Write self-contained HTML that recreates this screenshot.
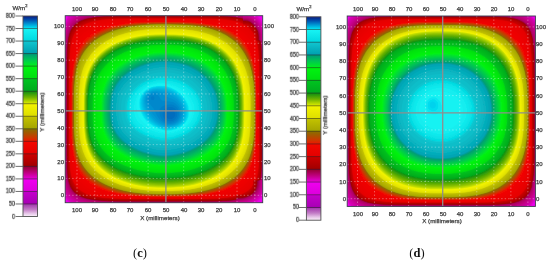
<!DOCTYPE html><html><head><meta charset="utf-8"><style>
html,body{margin:0;padding:0;background:#fff;width:550px;height:261px;overflow:hidden}
.t{position:absolute;white-space:nowrap;line-height:1;font-family:"Liberation Sans", sans-serif;color:#3a3a3a;-webkit-text-stroke:0.25px #3a3a3a;will-change:transform}
.cap{position:absolute;white-space:nowrap;line-height:1;font-family:"Liberation Serif",serif;font-size:12.5px;color:#111;transform:translate(-50%,-50%);will-change:transform}.cap b{font-weight:bold}
.gd{stroke:#fff;stroke-opacity:.4;stroke-width:.9;stroke-dasharray:1.4 2.1}
.gc{stroke:#8e8e8e;stroke-width:1.3}
</style></head><body>
<svg width="0" height="0" style="position:absolute"><defs>
<linearGradient id="cbg" x1="0" y1="0" x2="0" y2="1"><stop offset="0%" stop-color="#0a1a80"/><stop offset="2%" stop-color="#0052b0"/><stop offset="4%" stop-color="#0098d4"/><stop offset="6.12%" stop-color="#00e4f4"/><stop offset="6.25%" stop-color="#18f4f4"/><stop offset="12.38%" stop-color="#00d8e0"/><stop offset="12.5%" stop-color="#10c6d0"/><stop offset="18.62%" stop-color="#00a0b0"/><stop offset="18.75%" stop-color="#00987a"/><stop offset="21.88%" stop-color="#00c850"/><stop offset="24.88%" stop-color="#00f01c"/><stop offset="25%" stop-color="#00f410"/><stop offset="31.13%" stop-color="#00de10"/><stop offset="31.25%" stop-color="#00c420"/><stop offset="37.38%" stop-color="#00aa1e"/><stop offset="37.5%" stop-color="#0c8e12"/><stop offset="40.62%" stop-color="#70b400"/><stop offset="43.62%" stop-color="#dcea00"/><stop offset="43.75%" stop-color="#f4f400"/><stop offset="49.88%" stop-color="#dede00"/><stop offset="50%" stop-color="#c4c400"/><stop offset="56.12%" stop-color="#a4a400"/><stop offset="56.25%" stop-color="#887000"/><stop offset="58.5%" stop-color="#a85400"/><stop offset="60.62%" stop-color="#cc3800"/><stop offset="62.38%" stop-color="#ec1800"/><stop offset="62.5%" stop-color="#f20800"/><stop offset="68.62%" stop-color="#e40000"/><stop offset="68.75%" stop-color="#cc0000"/><stop offset="74.88%" stop-color="#a00000"/><stop offset="75%" stop-color="#940030"/><stop offset="78.12%" stop-color="#c00080"/><stop offset="81.12%" stop-color="#e600d8"/><stop offset="81.25%" stop-color="#f000f0"/><stop offset="87.38%" stop-color="#dc00dc"/><stop offset="87.5%" stop-color="#c400cc"/><stop offset="93.62%" stop-color="#a800b4"/><stop offset="93.75%" stop-color="#9a10a4"/><stop offset="94%" stop-color="#a43aae"/><stop offset="96.5%" stop-color="#c27cc6"/><stop offset="98.5%" stop-color="#e6c6e8"/><stop offset="100%" stop-color="#fbf2fb"/></linearGradient>
</defs></svg>
<svg width="550" height="261" viewBox="0 0 5500 2610" style="position:absolute;left:0;top:0"><defs><clipPath id="cpc"><rect x="652" y="157" width="1975" height="1870"/></clipPath></defs><filter id="bfc" x="-2%" y="-2%" width="104%" height="104%"><feGaussianBlur stdDeviation="5.5"/></filter><g clip-path="url(#cpc)"><g filter="url(#bfc)" fill-rule="evenodd"><rect x="612" y="117" width="2055" height="1950" fill="#ea00ea"/><path fill="#ed00ed" d="M2600 2055l-1934 0 0-30-12-16-30 0 0-1828 30 0 7-22 0-30 1948 0 0 30 15 18 30 0 0 1831-30 0-21 17 0 30-3 0z"/><path fill="#ed00ea" d="M2574 2055l-1891 0 0-30-16-17-13-20-30 0 0-1776 30 0 18-53 0-30 1915 0 0 30 20 20 17 24 30 0 0 1781-30 0-24 23-26 18 0 30z"/><path fill="#ea00e1" d="M2564 2055l-1874 0 0-30-20-20-16-25-30 0 0-1756 30 0 10-35 12-30 0-30 1903 0 0 30 25 24 20 30 30 0 0 1762-30 0-27 27-33 23 0 30z"/><path fill="#e600d8" d="M2554 2055l-1859 0 0-30-23-23-18-28-30 0 0-1740 30 0 11-42 14-33 0-30 1893 0 0 30 28 27 24 35 30 0 0 1746-30 0-30 32-39 26-1 30z"/><path fill="#e200cf" d="M2544 2055l-1844 0 0-30-26-25-20-32-30 0 0-1725 30 0 13-50 15-34 0-30 1885 0 0 30 31 30 26 39 30 0 0 1733-30 0-15 18-19 18-20 15-23 13 0 30-3 0z"/><path fill="#de00c5" d="M2537 2055l-1832 0 0-30-29-26-22-37-30 0 0-1710 30 0 13-52 19-41 0-30 1874 0 0 30 20 16 16 17 15 20 13 24 30 0 0 1718-30 0-17 21-20 20-23 17-25 13 0 30-2 0z"/><path fill="#da00bb" d="M2524 2055l-1811 0 0-30-18-13-16-17-14-20-11-24-30 0 0-1684 30 0 8-38 10-34 15-30 8-6 0-30 1855 0 0 30 22 16 20 20 18 27 14 27 30 0 0 1693-30 0-20 27-23 23-27 19-30 14 0 30z"/><path fill="#d600b2" d="M2507 2055l-1778 0 0-30-28-16-17-16-17-24-13-30-30 0 0-1654 30 0 10-53 16-46 10-11 22-16 0-30 1825 0 0 30 30 20 23 23 20 30 14 32 30 0 0 1664-30 0-20 31-27 28-32 22-37 16-1 30z"/><path fill="#d100a8" d="M2487 2055l-1736 0 0-30-37-20-34-28-13-17-13-36-30 0 0-1618 30 0 10-58 13-44 23-24 32-21 0-30 1790 0 0 30 35 20 28 26 22 34 17 42 30 0 0 1631-30 0-21 37-31 33-38 26-46 17-1 30z"/><path fill="#cd009f" d="M2460 2055l-1684 0 0-30-48-23-38-29-26-33-10-35-30 0 0-1573 30 0 7-57 13-50 11-16 21-20 21-16 25-14 0-30 1750 0 0 30 22 7 20 11 16 12 17 17 15 19 13 24 11 26 8 28 30 0 0 1588-30 0-11 28-16 26-20 24-23 19-44 23-48 14 0 30-2 0z"/><path fill="#c90095" d="M2414 2055l-1611 0 0-30-36-13-30-16-27-18-23-23-15-20-12-21-6-40-30 0 0-1502 30 0 7-77 13-55 20-26 23-22 27-18 31-15 0-30 1692 0 0 30 30 5 30 12 23 14 24 22 17 23 15 30 10 30 8 41 30 0 0 1522-30 0-8 34-13 30-17 27-26 25-30 20-30 14-40 11-44 6 0 30-2 0z"/><path fill="#c5008b" d="M2360 2055l-1525 0 0-30-45-13-40-19-33-22-27-27-16-24-14-28-4-63-32-1 0-1372 30-1 5-116 6-50 7-27 22-33 30-30 33-22 42-18 0-30 1631 0 0 34 47 3 37 11 33 18 28 27 21 33 15 44 9 46 2 60 32 1 0 1396-34 0-3 53-11 44-9 20-12 20-28 29-37 24-43 17-50 9-63 3-1 34-3 0z"/><path fill="#c10082" d="M2360 2055l-1489 0 0-30-54-13-47-18-36-22-30-27-23-30-17-36-3-17-1-33-6-3-30 0 0-1369 33-2 2-90 8-71 23-45 16-20 16-17 22-16 23-14 27-12 32-11 0-30 1603 0 1 40 44 3 36 9 30 16 27 24 23 34 15 40 10 50 2 60 37 1 0 1395-40 1-3 50-10 43-19 37-28 31-37 25-43 16-50 10-60 2-4 39z"/><path fill="#bc0079" d="M2360 2055l-1445 0 0-30-68-13-57-18-46-25-35-30-20-27-15-30-10-30-1-23-6-4-3-19-30 0 0-1348 30 0 5-3 2-86 6-51 11-29 14-27 16-23 20-20 26-20 30-16 33-13 39-11 0-30 1572 0 0 30 2 15 44 3 33 9 30 16 27 23 22 34 16 40 9 50 2 56 41 2 0 1393-45 2-3 50-10 40-19 37-27 30-36 24-44 17-50 9-56 2-3 14-1 30z"/><path fill="#b80071" d="M2320 2055l-1346 0 0-30-94-12-66-18-32-13-24-13-23-17-21-20-24-34-16-38-13-55-7-57-30 0 0-1290 30 0 7-3 3-94 10-40 12-32 14-26 17-22 19-19 28-20 40-20 41-13 45-10 0-30 1522 0 0 30 15 3 3 17 44 3 34 10 30 20 26 25 23 34 11 31 9 47 2 56 15 3 30 0 0 1391-30 0-21 3-3 53-13 44-21 36-16 17-16 13-36 20-38 13-43 7-53 2-4 14-40 4 0 30z"/><path fill="#b30068" d="M2200 2055l-1104 0 0-30-92-4-70-7-60-10-57-16-33-14-27-16-23-18-20-21-23-37-16-47-11-53-6-83-3-200 1-950 3-80 0-10 4-4 1-45 5-38 9-37 11-33 16-30 20-27 22-21 37-23 40-18 50-13 65-11 0-30 1428 0 0 30 60 11 3 14 34 1 23 6 43 26 32 32 20 30 15 34 7 42 2 50 14 4 4 29 30 0 0 1326-30 0-5 35-20 3-5 57-6 23-9 23-9 14-14 16-36 29-33 17-39 14-34 6-50 2-4 11-70 7-89 4-1 30z"/><path fill="#ae0060" d="M2110 2022l-863 1-147-3-110-6-103-14-40-9-33-11-30-14-27-16-23-20-19-21-23-40-14-44-10-56-6-84-2-233 2-923 7-117 7-43 9-37 13-33 17-30 19-24 23-20 43-25 54-19 66-14 75-8 0-30 1322 0 0 30 87 12 23 5 3 12 30 1 17 4 27 14 20 13 20 18 18 21 20 33 15 37 4 33 1 43 13 4 0 3 9 105 30 0 0 1176-30 0-5 59-6 47-19 3-4 53-13 43-27 34-36 28-34 17-36 13-27 7-53 2-4 9-100 9-150 5z"/><path fill="#aa0058" d="M2104 2019l-850 0-154-2-113-6-100-14-70-20-30-14-27-16-23-19-19-23-23-40-16-53-10-67-4-66-2-260 2-894 7-110 7-43 10-40 13-33 13-24 22-26 23-21 20-13 27-14 63-21 77-13 105-8 0-30 1213 0 0 30 69 5 50 6 43 10 3 12 40 3 27 13 23 15 22 19 17 20 20 33 16 40 4 70 12 4 7 70 4 73 2 197-1 846-4 124-10 80-19 3-1 33-5 30-9 27-10 17-18 20-17 15-20 13-30 16-60 20-56 2-4 9-20 3-86 7-150 5z"/><path fill="#a5004f" d="M2170 2015l-190 2-710 0-163-2-97-5-110-13-43-10-33-10-30-13-30-18-22-17-18-20-23-37-15-43-11-54-7-83-3-197 1-933 7-130 6-47 10-43 10-30 15-30 20-27 23-21 23-16 27-14 33-13 40-11 90-13 142-8 0-30 1098 0 0 30 130 8 47 6 40 10 3 13 44 3 26 14 30 22 23 24 21 33 17 40 4 33 1 40 13 4 0 3 6 57 4 66 3 200-1 837-3 130-6 60-5 37-21 3-5 57-6 23-11 23-14 17-20 18-43 27-33 14-27 7-63 4-4 10-6 1-77 8-107 4z"/><path fill="#a10047" d="M2054 2015l-827 0-130-2-103-6-100-13-40-10-34-11-30-13-26-16-24-20-19-22-22-40-14-43-10-57-6-83-2-234 2-916 7-110 7-44 10-40 13-33 15-27 23-26 23-20 30-18 33-14 44-13 50-10 116-11 186-4 0-30 877 0 0 30 111 1 83 5 77 8 53 12 3 14 47 4 27 14 27 22 24 26 17 27 14 33 6 37 1 43 14 4 7 70 4 73 2 197-1 836-4 127-10 87-23 3-1 33-5 30-9 27-14 23-16 17-20 15-23 14-27 12-37 11-66 5-4 11-50 6-110 7-146 2z"/><path fill="#9c003f" d="M2174 2012l-197 2-703 0-157-2-107-5-106-13-44-10-33-10-30-13-27-15-23-18-20-22-23-37-16-47-11-57-6-76-2-200 1-934 6-123 6-47 10-40 11-33 16-30 18-23 23-22 24-17 23-12 60-21 73-13 104-9 233-5 873 1 160 6 57 7 50 10 10 2 3 17 40 3 14 3 10 5 30 21 26 27 18 27 15 33 6 37 2 46 14 4 7 56 4 74 2 196 0 844-4 126-5 54-6 40-24 3-2 33-5 30-9 27-14 23-25 25-37 22-31 13-19 5-33 4-40 2-4 12-80 9-106 5z"/><path fill="#9a0038" d="M2114 2012l-864 1-146-3-100-5-100-13-40-8-37-12-30-13-29-17-24-20-18-20-22-37-16-46-10-57-6-80-2-217 1-923 7-120 7-43 9-37 13-33 14-27 19-25 24-22 23-15 23-12 60-20 77-14 97-8 236-5 884 1 86 3 70 4 57 8 47 10 3 2 3 16 40 3 17 4 10 5 29 22 25 26 17 27 12 27 6 36 3 50 15 4 7 63 4 73 2 197-1 840-4 130-10 87-26 3-2 33-5 30-9 27-14 23-15 17-13 10-41 24-23 8-27 5-63 4-4 14-20 3-96 8-130 4z"/><path fill="#9a002f" d="M2057 2012l-827 0-136-3-100-5-100-14-40-10-34-11-30-14-26-16-20-18-20-22-22-40-15-47-9-57-5-76-2-230 1-917 8-117 7-43 10-37 13-33 17-27 19-23 24-20 24-15 26-12 60-19 77-13 97-7 246-4 884 1 80 3 66 5 50 7 47 11 3 17 44 4 16 5 10 5 30 24 24 27 15 24 10 24 7 40 2 46 15 4 7 63 4 80 2 197 0 833-4 130-11 87-27 3-1 37-6 30-11 26-14 24-13 13-17 13-45 24-47 10-56 3-4 14-40 6-110 7-153 3z"/><path fill="#9b0026" d="M2204 2009l-200 3-707 0-167-2-113-5-103-12-44-9-36-11-34-14-26-15-24-18-20-21-23-36-16-47-11-57-6-76-3-197 1-930 6-123 6-47 9-40 11-33 15-30 18-26 23-23 21-15 26-14 60-21 73-14 97-9 230-5 870 1 167 6 60 7 46 9 17 4 3 19 40 3 27 8 27 20 22 23 18 27 13 26 7 40 3 50 15 4 7 60 4 70 3 196-1 840-4 134-10 86-1 4-3 0-24 3-4 53-14 40-10 17-15 17-19 16-17 11-27 12-27 7-36 5-40 1-4 15-70 8-86 5z"/><path fill="#9c001d" d="M2184 2009l-197 2-700 0-160-2-110-5-107-12-40-9-36-11-34-13-26-16-24-18-19-20-23-36-17-47-10-57-6-76-3-200 1-930 6-124 6-46 9-40 12-34 16-30 18-24 24-22 23-16 23-12 60-21 77-14 97-8 233-5 870 1 160 6 57 7 50 9 13 4 3 19 37 2 30 9 27 20 23 24 18 28 11 23 7 40 3 50 16 4 7 63 4 73 2 200 0 834-5 133-10 87-28 3-5 53-6 24-9 20-12 17-14 16-17 13-22 13-23 9-30 8-34 4-36 1-4 15-80 9-96 5z"/><path fill="#9d0014" d="M2157 2009l-880 1-160-2-100-5-107-12-43-9-33-11-34-13-26-16-24-18-20-21-22-38-17-46-10-57-6-80-3-213 2-924 7-123 7-43 8-34 12-33 16-28 19-25 22-20 22-15 27-14 60-20 76-14 97-8 233-4 870 0 157 7 57 6 50 10 13 4 3 19 40 3 30 10 25 19 22 23 19 30 10 24 7 40 1 46 17 4 7 63 4 73 3 200-1 834-4 136-11 84-29 3-4 53-14 40-13 20-15 17-17 13-20 12-27 10-26 6-34 5-36 1-4 15-90 10-113 5z"/><path fill="#a0000b" d="M2120 2009l-866 0-147-2-107-6-100-13-36-8-37-12-30-13-27-16-23-19-18-21-22-37-16-47-10-56-5-80-3-220 2-917 7-120 7-43 9-37 12-32 16-28 19-23 22-20 23-16 24-12 60-20 73-14 93-8 244-5 883 1 80 3 73 5 57 7 43 10 7 2 3 20 37 2 30 9 27 19 24 27 19 30 8 23 6 37 2 46 17 4 8 66 4 77 2 203-1 830-4 130-11 84-29 3-5 53-7 24-9 20-11 16-17 18-20 15-20 10-26 10-27 5-63 4-4 17-6 1-97 9-137 5z"/><path fill="#a60000" d="M2060 2009l-830 0-130-3-103-6-100-13-40-10-33-11-30-14-27-17-23-20-17-20-22-40-14-46-10-57-5-80-2-233 1-904 8-113 7-43 10-40 14-34 16-26 19-24 24-20 21-13 26-13 60-19 74-13 96-8 250-4 884 1 143 8 50 7 50 12 3 20 40 3 30 10 27 21 23 26 18 29 7 23 5 37 2 43 17 4 8 63 4 87 2 196 0 830-5 127-11 87-30 3-1 33-6 30-8 24-15 24-27 26-36 20-24 8-26 5-60 4-4 17-30 4-106 8-164 4z"/><path fill="#ad0000" d="M1994 2005l-770 0-134-3-100-6-93-14-40-10-37-13-27-14-26-17-21-19-19-24-20-39-13-45-9-59-5-77-3-370 1-616 2-154 8-110 8-43 11-37 13-31 17-26 21-23 25-20 47-24 63-19 77-12 97-7 260-4 867 1 136 9 54 8 43 11 3 23 40 3 34 12 23 19 22 27 12 20 9 30 5 33 1 40 19 4 8 70 5 90 1 200 0 816-5 127-5 47-7 40-33 3-1 30-4 23-7 24-10 20-16 20-17 15-20 13-24 9-43 10-53 3-4 19-53 7-123 8-190 2z"/><path fill="#b40000" d="M1947 2002l-720-1-127-2-103-7-91-13-40-10-38-14-34-16-24-17-21-20-19-24-20-39-13-46-9-61-5-73-2-157 0-693 2-284 4-62 6-48 7-40 10-34 14-30 18-29 22-23 26-20 23-14 31-13 58-17 82-12 93-7 263-4 677 0 177 2 76 4 60 5 53 9 44 12 3 23 40 4 31 11 24 20 22 28 10 19 8 30 4 30 2 36 19 4 9 76 5 94 2 206-1 797-5 127-5 50-8 40-35 3-3 40-7 30-16 30-22 23-27 17-30 12-37 7-46 2-4 20-65 9-88 6-260 4z"/><path fill="#bb0000" d="M2174 1995l-200 3-657 0-163-2-114-5-104-12-46-10-34-10-33-14-31-16-25-20-20-21-25-39-18-50-10-57-7-77-2-200 1-883 6-123 6-47 9-40 13-38 15-29 20-26 25-24 24-16 23-13 59-21 78-15 96-9 97-4 137-1 826 0 164 7 60 7 50 10 33 11 3 22 37 3 27 9 20 17 16 18 17 24 10 21 7 37 2 43 18 4 10 66 6 90 3 197-1 793-4 134-11 86-6 24-35 3-4 43-12 37-21 30-15 13-17 11-23 10-27 7-30 4-33 1-4 20-80 11-106 6z"/><path fill="#c30000" d="M2150 1992l-196 3-640 0-160-3-110-6-107-13-43-10-35-11-32-13-30-18-25-19-22-23-23-38-18-49-11-60-7-77-3-203 2-863 7-127 7-47 9-40 14-36 16-30 21-27 23-21 22-16 25-13 32-13 33-10 75-15 96-9 100-4 140-2 807 1 87 2 76 5 61 8 46 10 40 13 3 21 27 1 23 5 25 20 22 25 19 29 10 23 5 30 1 33 16 4 12 77 7 99 2 200-1 770-5 130-5 50-7 40-6 24-35 3-4 47-14 36-12 17-13 13-31 20-22 9-24 5-56 4-4 19-19 3-84 11-107 6z"/><path fill="#c80000" d="M2130 1989l-196 2-614 0-160-3-110-6-103-14-43-10-40-13-34-14-30-18-25-21-21-23-24-40-18-50-11-60-6-77-4-210 2-837 8-126 7-47 10-40 15-37 17-30 21-26 25-24 24-16 27-14 60-21 75-15 99-10 96-4 147-2 783 1 90 2 76 6 57 8 54 12 43 15 3 16 27 2 11 4 29 22 23 26 18 25 16 32 3 18 1 33 14 4 0 3 14 80 7 103 3 200-1 744-5 130-6 53-7 40-10 37-32 3-1 27-4 23-7 20-9 17-27 23-33 20-22 10-12 2-56 5-4 16-36 7-84 10-110 7z"/><path fill="#d20000" d="M2050 1989l-753 0-143-3-110-7-104-16-43-11-37-12-33-16-29-19-24-21-20-24-24-41-17-50-11-60-6-80-3-240 0-637 2-167 9-118 8-48 12-40 13-34 20-32 21-24 27-24 25-16 27-13 61-21 82-16 100-9 104-4 140-1 780 1 83 4 68 5 62 10 47 11 43 16 3 14 24 1 10 5 33 27 26 30 15 23 14 30 3 17 1 26 12 4 4 20 13 80 6 110 3 213-1 720-7 133-6 47-10 43-7 24-30 3-4 43-12 33-18 17-22 18-27 16-26 12-24 4-36 1-4 15-80 14-96 9-134 5z"/><path fill="#db0000" d="M1944 1989l-677-1-140-4-101-9-97-16-45-14-34-13-31-17-28-20-24-23-20-27-20-40-17-57-10-71-4-65-2-157 0-620 3-266 3-57 7-56 10-48 13-39 17-35 20-28 23-25 27-20 49-26 64-20 74-14 106-10 110-4 160-1 587 0 183 3 66 3 69 7 58 10 49 13 35 14 3 11 21 2 20 13 30 27 26 32 13 23 14 30 1 31 10 4 9 37 11 83 6 123 2 650-2 270-4 80-6 57-7 42-13 44-1 4-29 3-2 37-9 29-30 31-34 23-43 20-49 3-4 14-70 13-95 10-101 5-150 2z"/><path fill="#e60100" d="M2094 1985l-197 3-557 0-143-3-123-7-59-6-60-10-41-10-40-13-37-17-27-17-26-21-24-26-26-44-17-47-13-72-6-76-3-230 0-624 2-163 7-110 10-61 10-37 13-34 20-35 23-29 28-24 26-17 26-13 34-13 34-10 89-17 90-8 107-5 136-1 754 1 80 3 81 7 65 10 40 10 54 20 3 1 3 8 14 1 10 6 35 27 28 32 17 26 13 27 6 15 1 23 8 4 5 19 13 76 9 115 2 203-1 707-6 142-14 83-14 45-26 3-2 33-8 27-36 37-24 16-24 14-31 13-41 2-4 12-61 13-82 10-123 6z"/><path fill="#e80200" d="M2064 1982l-200 3-514-1-153-3-121-9-106-17-49-13-44-16-34-17-30-20-27-24-22-27-27-46-17-49-13-70-7-80-3-271 0-553 3-157 4-62 6-57 10-50 14-42 16-37 20-31 24-26 29-25 26-17 33-16 70-24 86-16 99-10 103-5 147-2 523 0 174 2 92 5 69 6 61 10 51 14 44 16 42 24 34 26 30 34 17 25 13 26 13 34 10 34 10 47 7 44 7 103 4 200-1 657-7 136-6 54-10 48-10 33-12 29-16 3-2 29-14 18-20 22-20 18-24 16-30 17-31 13-21 5-4 4-16 5-77 16-84 10-119 7z"/><path fill="#ea0400" d="M2010 1979l-203 2-443-1-154-5-116-10-60-10-54-12-48-14-41-17-37-20-33-23-27-26-24-29-26-48-20-57-13-70-7-77-4-130-1-330 1-333 4-136 5-68 8-53 12-50 15-42 20-40 23-33 27-28 33-27 28-17 32-15 70-25 90-18 107-12 113-5 147-2 466 0 170 3 84 5 76 9 66 14 51 15 47 21 43 27 34 30 29 36 17 28 17 34 13 37 10 37 15 91 8 111 3 216-1 570-8 133-9 57-11 48-11 32-14 30-15 27-20 26-22 24-24 20-28 18-30 16-67 26-86 20-106 13-121 7z"/><path fill="#ed0500" d="M1930 1975l-323 2-244-2-146-7-123-15-57-11-50-13-47-17-44-20-38-23-31-24-30-31-24-32-26-50-20-62-13-73-7-73-4-152-1-420 2-183 3-104 7-68 10-61 13-51 17-44 23-43 27-36 33-32 38-28 29-17 35-16 78-26 85-18 112-12 120-6 156-3 397 1 170 4 83 7 77 12 62 14 57 20 51 26 43 31 37 36 30 40 17 31 16 38 14 41 10 40 14 97 8 123 2 460-2 244-5 80-7 61-10 52-14 47-13 32-17 32-20 30-21 26-25 23-27 21-32 19-34 17-75 26-92 20-115 14-139 6z"/><path fill="#ef0600" d="M1844 1972l-314 1-173-4-143-10-67-10-57-10-60-16-53-18-45-20-42-23-36-27-33-30-27-33-24-37-23-51-17-57-13-75-7-77-4-150 0-436 3-130 6-94 9-65 13-60 17-50 23-48 27-40 32-37 38-31 43-29 70-32 80-24 93-18 110-12 167-7 280-1 203 2 134 6 82 10 71 13 67 19 57 24 49 29 44 35 39 43 31 47 18 36 15 38 13 44 10 45 15 103 7 140 1 440-5 180-6 70-9 60-13 55-18 52-18 37-19 30-21 28-27 27-29 25-31 21-34 19-39 17-44 16-43 12-103 20-120 12-150 6z"/><path fill="#f10700" d="M1810 1969l-276 0-167-5-143-14-64-11-63-14-57-17-53-21-47-23-43-27-37-29-33-34-28-35-23-40-24-57-18-63-12-74-7-90-4-150 1-376 4-120 8-94 11-63 17-60 21-53 26-47 31-41 37-38 43-33 50-30 77-32 83-25 94-17 113-12 163-7 297 0 147 3 116 10 87 13 70 17 63 23 57 28 50 34 45 40 38 47 31 53 19 40 15 44 13 46 10 50 13 117 6 140 0 370-6 153-8 74-11 60-16 56-18 47-19 37-20 30-25 31-28 29-32 26-34 23-36 20-40 18-44 16-46 14-104 22-120 14-150 7z"/><path fill="#ed1200" d="M1820 1965l-266 2-167-6-140-14-73-13-57-14-63-20-50-20-47-23-47-29-43-35-33-34-26-34-26-43-24-57-19-66-13-80-7-84-3-146 0-340 3-110 10-104 13-70 16-56 24-57 27-47 33-43 38-38 44-34 56-33 77-33 93-27 90-17 114-12 156-7 260 0 140 3 117 10 83 13 80 20 64 23 60 31 53 37 45 41 40 50 34 56 17 37 15 43 14 47 10 50 14 107 7 150 0 343-7 153-7 64-13 66-14 47-19 50-21 40-19 30-24 30-29 31-26 23-34 24-40 24-40 20-40 17-50 16-100 24-116 16-144 8z"/><path fill="#e81b00" d="M1770 1965l-250 0-156-7-80-8-67-10-63-13-60-17-57-19-53-24-47-26-43-31-37-33-31-35-28-40-23-43-22-60-17-67-10-77-6-90-3-153 1-333 5-107 12-97 13-63 20-60 24-50 29-47 36-43 43-39 47-33 57-30 76-30 87-24 107-18 106-10 154-6 280 1 126 5 114 12 76 14 77 22 67 28 53 30 50 37 44 44 37 50 33 60 18 44 16 50 14 56 9 57 11 120 3 167-1 280-3 80-6 76-9 67-12 50-16 53-21 47-18 33-23 34-26 31-30 29-33 27-37 24-37 21-43 19-47 18-50 15-106 22-127 14-147 6z"/><path fill="#df2500" d="M1837 1962l-257 3-176-6-80-6-70-9-67-13-60-14-63-20-54-21-50-26-46-30-39-31-35-35-29-39-26-43-24-57-19-66-13-77-7-83-3-144 0-333 4-113 10-97 12-67 17-56 23-57 27-47 35-46 40-40 47-35 50-30 76-34 87-26 100-20 110-13 153-7 250 0 144 3 113 10 83 13 77 19 67 25 60 30 53 36 47 42 41 50 35 57 18 40 17 43 13 47 11 50 10 60 6 60 6 140 0 303-6 163-7 64-12 66-15 54-19 50-16 33-23 37-25 33-28 30-30 27-33 24-37 23-40 21-40 17-46 16-104 26-113 17-130 9z"/><path fill="#d62e00" d="M1774 1962l-240 0-160-7-77-8-70-11-67-14-60-17-56-21-54-24-46-26-44-31-36-33-34-38-28-40-23-43-23-64-16-66-11-77-6-87-3-150 2-316 5-114 12-90 14-63 20-60 25-53 32-50 37-43 43-38 50-35 57-30 77-30 86-23 97-17 117-12 150-5 263 0 127 6 110 12 83 16 70 20 63 27 60 33 54 41 43 44 40 54 32 60 19 46 15 47 13 53 9 57 12 123 3 174-1 263-4 80-5 63-9 60-13 57-17 53-20 47-21 37-23 33-27 32-30 29-33 27-37 24-40 22-40 19-43 16-50 16-110 23-123 15-140 7z"/><path fill="#cd3700" d="M1814 1959l-247 2-167-7-76-7-70-10-67-13-63-16-60-21-57-24-50-27-43-30-37-31-35-36-30-40-24-44-25-60-17-63-13-77-7-86-4-144 1-316 5-117 11-90 14-67 19-60 24-53 29-47 35-44 44-41 50-37 53-30 77-32 86-25 100-19 110-13 150-6 250 0 137 5 107 11 86 16 74 20 66 27 57 31 53 38 48 46 41 53 33 57 17 40 17 47 13 46 10 50 14 114 5 146 0 294-7 146-8 67-12 57-16 56-20 50-20 37-21 33-27 34-27 28-30 26-36 27-37 22-40 20-43 19-47 16-103 25-117 18-133 9z"/><path fill="#c43e00" d="M1727 1959l-220-1-157-11-73-9-70-13-63-16-60-19-57-23-50-25-47-30-40-31-36-37-31-39-27-43-22-47-19-60-15-70-10-80-4-93-2-283 2-157 7-110 15-93 17-64 24-60 30-53 35-46 43-44 47-36 53-32 63-30 80-27 90-21 104-15 110-8 150-4 246 2 127 9 103 14 80 20 70 24 64 31 56 37 50 44 42 49 37 56 29 64 18 50 15 60 11 63 8 70 7 150 0 290-6 133-14 104-11 50-13 43-16 40-19 37-23 36-25 33-28 31-32 28-36 27-37 23-40 21-47 19-46 17-50 14-114 22-126 13-147 6z"/><path fill="#bb4500" d="M1784 1955l-234 1-163-8-77-8-70-12-66-14-60-18-60-22-50-23-50-29-44-31-39-36-33-36-29-44-23-43-23-60-17-67-11-73-6-90-3-147 1-296 7-114 12-90 16-66 20-57 26-53 33-50 39-45 45-39 52-35 57-30 76-30 90-24 97-18 110-11 143-6 247 1 130 6 107 13 83 17 73 22 64 28 60 34 53 42 47 48 38 53 33 60 19 47 15 47 12 50 10 56 7 60 5 74 3 156-1 247-9 133-9 63-13 57-17 53-21 47-20 37-23 33-26 32-30 30-33 27-34 24-40 23-40 20-46 18-47 16-107 25-120 17-136 8z"/><path fill="#b34c00" d="M1814 1952l-237 3-167-7-76-8-70-10-70-15-64-17-60-21-53-24-53-30-44-30-39-34-34-37-29-40-26-47-24-60-17-63-13-77-7-86-3-144 1-293 6-113 11-90 15-67 21-60 23-50 32-50 37-44 43-41 50-36 57-31 80-34 90-26 93-17 110-13 143-6 234 0 133 5 107 11 83 16 73 21 67 27 63 35 55 40 47 46 41 54 34 58 20 45 16 47 13 50 10 50 14 116 5 134-1 280-8 136-9 70-11 54-16 53-21 50-19 37-23 34-25 32-28 30-31 27-36 26-37 23-40 21-43 18-47 17-103 27-117 18-126 10z"/><path fill="#aa5200" d="M1747 1952l-217 0-83-4-77-6-73-10-70-13-67-16-60-19-56-23-54-27-46-29-44-34-36-36-32-40-27-43-23-47-20-60-16-70-9-80-5-90-2-266 2-157 7-107 15-93 18-63 24-60 30-54 34-46 43-44 47-37 54-33 63-31 80-28 90-22 103-16 107-9 143-4 237 2 120 8 107 15 76 18 74 25 63 30 60 39 51 43 44 50 38 57 30 63 20 54 15 56 12 63 8 67 8 144 0 270-6 136-13 106-11 48-13 43-16 40-19 40-23 37-25 33-27 30-30 28-33 26-37 24-43 24-43 20-47 17-50 15-107 24-123 15-140 7z"/><path fill="#a15a00" d="M1787 1949l-227 1-160-8-76-9-70-11-67-15-63-19-60-22-54-25-50-30-43-31-40-37-33-38-27-40-25-46-23-60-17-67-11-77-7-90-2-150 1-273 7-110 13-90 16-63 22-60 27-54 34-50 39-43 46-40 53-35 57-30 80-31 90-25 97-17 110-12 140-5 233 1 123 6 107 14 80 17 77 24 66 30 60 36 54 42 45 48 40 57 32 60 18 43 16 50 13 54 9 56 12 127 3 170-2 217-3 70-7 65-10 61-13 54-16 50-20 43-20 37-24 35-27 32-29 29-32 27-35 25-40 24-40 20-47 19-47 16-103 26-117 17-133 10z"/><path fill="#986200" d="M1800 1945l-226 3-86-3-78-5-76-9-74-12-66-15-64-18-60-22-53-25-50-29-43-32-40-36-34-37-30-43-25-47-23-60-17-66-11-74-7-86-3-147 1-273 7-107 12-90 16-66 20-56 27-54 33-51 40-45 47-41 53-37 57-30 77-31 90-26 96-18 110-12 140-6 227 1 123 6 107 13 80 17 77 24 67 29 62 36 54 43 47 48 40 55 33 61 18 43 15 47 14 52 10 54 12 121 4 150-1 233-9 133-10 66-13 57-17 51-20 46-20 36-23 35-27 33-29 30-31 26-36 26-40 24-39 20-45 19-46 17-100 26-115 18-129 10z"/><path fill="#916800" d="M1700 1945l-203-2-80-5-77-9-73-12-67-15-66-20-55-20-55-25-49-28-45-32-40-35-33-37-30-41-27-48-20-48-20-70-11-66-9-88-3-97 0-265 3-120 10-108 17-83 20-62 30-64 33-52 40-46 50-45 54-37 63-33 67-27 78-23 98-20 111-13 109-6 200-1 136 3 113 10 111 20 79 24 65 26 60 34 59 43 48 47 43 55 36 64 27 64 17 54 13 60 10 65 6 64 5 140-2 270-9 124-17 93-13 47-13 36-34 68-23 35-27 33-30 31-33 29-38 28-39 23-40 20-46 20-97 31-113 23-124 14-150 5z"/><path fill="#907100" d="M1767 1942l-217 1-83-4-73-6-67-8-72-13-69-17-64-20-59-23-53-27-49-30-44-33-37-35-33-40-30-46-23-47-20-55-17-68-10-69-7-100-2-243 2-168 7-96 7-49 10-51 16-59 24-59 30-54 36-49 44-45 50-40 54-34 62-30 84-30 94-23 106-17 93-8 137-4 223 2 104 7 117 17 82 20 67 23 63 30 63 40 51 43 46 52 37 54 33 66 20 53 17 59 10 48 10 70 9 138 0 234-4 140-12 103-10 51-13 48-17 46-20 42-20 34-23 33-28 33-31 30-32 26-39 27-40 23-41 20-89 34-106 26-117 18-137 9z"/><path fill="#927900" d="M1747 1942l-210 0-77-4-76-7-80-11-74-14-64-17-60-20-55-24-51-26-47-30-45-37-36-37-32-39-26-43-24-49-20-59-16-78-10-85-4-80-1-253 2-137 9-117 17-90 20-65 23-54 30-51 37-47 43-43 51-40 55-33 65-30 76-27 95-23 109-17 106-8 140-3 207 2 122 9 105 17 77 20 72 27 65 33 55 37 50 44 44 50 36 56 34 68 16 45 17 60 10 49 10 72 8 142 0 254-5 123-13 105-10 46-13 46-17 43-20 41-23 38-24 31-26 31-31 29-33 27-40 26-41 24-43 20-93 33-50 13-64 14-122 16-130 7z"/><path fill="#958200" d="M1724 1942l-200-1-84-5-74-7-72-11-76-16-60-17-58-20-53-23-56-30-45-30-44-37-35-37-30-39-27-45-23-52-20-63-13-67-10-90-4-90 0-270 3-127 11-109 16-81 20-61 27-58 33-53 37-44 46-44 50-36 59-34 69-30 83-26 90-20 93-14 127-9 206-1 149 4 108 10 95 16 83 24 67 26 62 34 56 40 50 46 44 54 36 60 30 67 20 63 14 58 10 63 6 65 5 140-1 260-7 107-7 52-10 52-23 79-17 39-20 39-23 36-27 34-30 31-31 28-35 27-37 23-44 23-46 20-45 17-56 17-109 23-114 13-139 7z"/><path fill="#998c00" d="M1797 1939l-97 3-120 0-89-3-74-6-70-8-78-13-72-17-57-17-60-23-57-26-50-30-45-34-40-36-34-40-30-44-24-44-23-61-17-66-10-65-7-100-3-147 2-253 8-120 14-81 16-62 24-60 27-51 36-51 42-45 48-40 51-34 58-30 87-33 87-23 92-17 118-12 130-5 220 2 130 8 94 14 85 20 68 23 65 30 59 37 54 43 45 49 40 56 34 62 16 41 17 51 13 54 10 57 7 55 5 75 3 170-2 187-3 63-7 67-9 57-14 55-16 49-20 45-20 36-24 34-26 33-30 31-31 26-37 27-38 23-38 20-46 20-46 17-98 27-120 20-123 10z"/><path fill="#9d9500" d="M1780 1939l-213 2-80-3-80-7-75-9-74-13-69-17-63-20-58-23-54-27-48-30-44-33-38-37-34-40-30-45-23-47-20-55-17-68-11-75-6-93-2-237 2-167 7-97 16-93 18-65 23-58 30-54 34-46 41-43 48-40 57-37 60-30 81-30 88-23 94-17 120-12 140-4 221 3 113 8 101 15 81 20 66 23 69 34 57 36 52 45 47 51 37 54 33 65 20 53 16 56 11 49 10 67 6 70 3 67 1 223-4 144-13 113-10 49-13 47-17 45-17 36-23 40-23 33-27 31-29 29-32 27-38 26-39 24-40 20-47 20-48 16-104 27-108 17-132 10z"/><path fill="#a29f00" d="M1757 1939l-210 0-83-4-74-6-73-10-73-15-73-19-59-20-55-23-57-30-46-30-41-33-36-37-33-42-27-43-23-49-20-59-17-77-9-80-5-87-1-253 3-133 9-109 16-90 20-65 24-53 33-56 37-46 43-43 50-38 56-34 64-30 76-26 95-24 108-16 104-9 140-3 204 3 117 9 104 16 77 20 72 27 66 33 54 37 53 46 43 50 40 61 30 63 20 53 14 51 13 67 8 62 8 137 0 243-6 129-13 101-10 45-14 45-16 43-20 40-23 37-24 33-27 31-32 30-33 26-35 24-40 23-43 21-90 33-107 27-116 17-137 9z"/><path fill="#a9a900" d="M1730 1939l-200-1-83-5-77-8-73-11-73-15-64-18-61-22-59-27-48-27-48-33-39-33-38-40-30-41-26-46-21-46-20-65-13-67-9-89-4-100-1-253 3-120 11-107 17-82 20-62 26-58 34-53 40-49 46-42 50-37 59-33 69-30 84-27 90-20 94-13 114-9 190-2 154 4 115 10 95 17 83 23 68 27 63 33 56 40 53 49 43 54 37 60 30 67 17 50 14 60 12 67 7 63 5 137-1 256-7 115-7 50-10 51-11 41-15 43-14 34-20 38-23 36-25 32-29 31-32 29-35 27-36 23-43 24-44 20-44 16-54 17-103 23-122 16-137 8z"/><path fill="#aeae00" d="M1774 1932l-94 2-113 0-80-4-77-6-76-10-74-14-68-18-61-20-57-24-57-29-47-30-43-34-40-40-32-40-28-43-23-48-21-59-16-70-10-76-6-97-1-243 2-130 8-102 17-92 20-66 23-54 34-56 36-47 44-43 51-40 55-34 63-30 74-26 91-24 99-16 110-11 133-3 204 2 110 8 105 17 79 20 73 27 66 33 60 40 53 47 44 50 39 60 31 63 18 50 15 52 13 65 8 60 8 133 1 223-6 137-14 103-10 47-13 44-17 42-17 35-23 39-23 32-27 31-30 30-33 27-37 26-40 24-40 20-47 19-46 17-104 26-110 18-126 10z"/><path fill="#b3b300" d="M1707 1929l-187-2-80-6-76-9-74-13-70-17-64-20-59-23-57-28-50-31-43-32-40-37-36-42-29-44-25-46-19-50-19-70-13-80-6-90-3-124 1-193 4-110 13-100 20-83 23-64 29-54 37-52 43-47 50-42 57-37 63-33 70-27 87-24 93-18 100-12 110-6 180 0 127 6 110 12 96 21 77 25 67 30 63 38 56 44 48 50 41 56 35 64 27 66 15 54 12 53 9 59 7 64 4 140-3 240-9 107-18 90-12 40-15 40-17 37-19 33-24 36-27 32-30 31-32 28-37 26-38 24-43 23-43 19-97 32-110 25-117 14-133 7z"/><path fill="#b8b800" d="M1754 1922l-90 2-104-1-76-4-80-8-74-11-73-16-67-19-60-22-56-25-54-30-47-33-43-36-36-39-31-41-28-47-21-48-20-62-15-70-9-80-4-97-1-223 3-117 10-100 18-86 21-64 27-56 34-54 39-46 47-44 53-38 60-35 67-29 86-28 90-21 97-14 103-8 167-2 140 4 107 10 103 19 80 24 67 27 66 37 57 41 53 50 42 53 37 60 29 64 17 50 14 53 10 57 9 66 6 127-1 223-7 117-15 93-11 47-14 40-15 37-19 36-22 37-25 33-28 32-30 28-33 27-37 26-40 23-40 20-47 20-46 16-100 27-117 19-123 9z"/><path fill="#bebe00" d="M1700 1919l-100 0-80-3-76-6-77-10-73-14-70-19-64-21-60-25-53-28-50-32-44-36-39-38-34-42-30-46-22-47-20-53-19-84-11-96-5-110 0-204 3-103 8-83 13-74 19-66 25-60 32-57 38-50 46-47 53-41 60-37 67-31 73-26 87-23 97-16 100-10 110-4 160 2 116 7 104 14 93 23 73 27 67 32 60 39 53 46 47 52 42 60 32 63 26 70 14 50 10 53 8 57 6 60 3 77 0 110-4 173-10 100-19 87-28 76-18 37-19 33-24 34-28 33-30 30-31 27-37 26-36 23-44 23-43 19-97 33-106 24-117 15-127 7z"/><path fill="#c2c200" d="M1754 1912l-90 2-97-1-77-4-76-8-74-12-70-16-66-19-64-24-56-27-50-28-47-33-43-38-36-39-32-43-27-47-22-50-19-63-14-73-9-80-3-100-1-207 4-107 11-96 19-87 22-60 28-57 35-53 41-47 49-43 54-38 63-35 67-28 83-26 90-20 97-13 103-7 163-1 127 5 107 12 93 19 73 23 70 30 64 37 56 42 50 49 44 56 36 62 29 66 17 50 13 54 10 56 7 60 5 124-1 216-9 110-15 90-25 80-16 37-19 37-21 33-26 33-26 30-32 30-33 27-34 24-40 24-40 20-90 36-100 27-110 19-120 10z"/><path fill="#cece00" d="M1667 1912l-93-1-80-4-80-9-74-12-70-16-66-20-64-24-60-29-50-30-46-34-42-38-36-40-31-43-27-50-20-50-17-57-15-83-8-93-3-130 2-204 6-86 10-74 15-66 21-60 30-60 38-57 45-50 52-45 60-39 66-34 74-29 80-23 100-19 106-12 107-4 160 1 103 6 90 12 84 17 76 24 70 31 64 37 56 44 50 50 44 56 35 60 29 70 22 75 18 99 9 113 0 217-6 130-13 90-22 80-31 73-38 63-26 34-27 29-30 28-34 27-36 25-40 23-87 39-97 31-106 22-117 14-130 5z"/><path fill="#d7d700" d="M1737 1909l-90 2-90-2-77-5-76-9-74-13-70-17-66-21-60-23-57-28-50-31-45-33-40-37-35-40-30-43-26-47-21-53-20-70-13-77-7-87-2-113 1-180 4-103 13-94 19-80 23-60 30-56 38-54 44-46 50-43 57-37 63-32 70-28 84-24 90-18 96-12 104-5 156 0 117 5 107 14 93 21 73 24 68 31 62 38 57 46 48 50 42 56 33 60 29 70 15 49 11 51 9 54 7 60 5 126-3 214-9 106-17 87-26 80-34 68-23 35-24 30-27 30-32 30-34 27-37 25-80 43-93 36-100 26-110 18-120 9z"/><path fill="#e1e100" d="M1684 1909l-90 0-80-4-80-8-77-11-73-17-67-19-63-23-57-27-53-30-47-33-43-38-37-39-32-45-27-46-22-50-17-54-16-83-9-93-3-117 1-207 4-86 10-77 14-67 20-63 28-60 37-57 42-50 50-45 57-39 65-36 72-30 75-23 94-20 107-14 103-6 147 0 107 4 96 10 87 16 82 23 71 30 64 34 59 43 51 47 46 56 37 60 30 66 23 71 20 97 11 113 2 207-5 140-12 90-20 83-29 74-37 66-25 33-28 32-30 29-33 28-35 25-39 23-43 22-43 19-97 32-106 24-111 14-126 6z"/><path fill="#e5e500" d="M1737 1902l-90 2-90-2-77-5-76-9-74-14-66-16-64-21-60-24-53-26-51-32-46-34-40-37-36-42-29-43-25-47-20-50-20-70-12-77-7-86-2-114 0-173 5-100 12-90 20-80 23-60 30-57 36-50 43-46 51-44 56-36 65-34 67-26 80-24 93-19 94-11 103-6 153 0 117 6 103 14 90 20 77 26 64 30 63 39 55 45 48 50 40 55 34 61 29 70 14 46 12 54 8 50 7 60 4 124-2 210-9 101-17 87-12 42-15 38-34 68-22 34-26 33-28 30-30 28-33 26-37 25-80 43-86 34-100 27-110 18-117 9z"/><path fill="#e8e800" d="M1690 1899l-90 0-76-3-80-8-74-11-70-16-66-19-64-23-56-26-54-31-46-32-40-35-38-40-33-43-27-47-22-50-18-53-16-80-10-93-3-114 0-200 5-86 9-74 14-66 20-64 28-60 34-53 42-50 48-44 57-41 63-35 70-30 75-23 95-22 103-13 104-6 136 0 111 4 93 10 87 17 79 23 70 29 62 34 58 43 50 47 44 54 36 59 30 65 24 71 20 98 10 107 2 200-6 133-11 90-19 80-30 76-36 64-24 33-26 30-31 30-31 27-37 27-38 23-83 40-94 32-100 23-110 15-120 7z"/><path fill="#ecec00" d="M1744 1892l-84 2-90-1-73-4-77-9-73-13-67-17-63-20-60-24-55-27-50-30-44-34-41-37-37-43-29-43-25-47-21-50-18-66-13-77-7-87-2-113 0-167 5-96 12-90 20-77 23-60 29-53 36-51 44-46 47-40 56-37 63-32 69-28 79-23 89-18 93-12 100-5 150 0 110 6 100 13 90 21 73 25 64 30 60 37 53 43 47 49 40 54 36 64 27 66 14 47 11 50 9 53 6 57 5 120-3 203-9 100-16 85-24 75-35 70-21 34-26 33-27 30-28 27-66 50-78 43-85 34-97 28-104 18-112 10z"/><path fill="#efef00" d="M1704 1889l-94 0-76-3-77-7-70-10-64-14-72-20-64-23-51-23-54-30-48-33-41-34-38-40-34-43-27-47-23-50-17-50-17-77-10-93-4-107 0-193 4-87 9-76 14-67 19-60 26-57 33-53 39-48 48-45 54-40 61-35 67-29 73-25 90-21 100-15 100-7 120-1 114 4 96 9 87 15 80 23 67 27 63 34 57 39 50 46 44 52 37 57 30 63 24 70 21 94 11 106 2 187-4 137-12 93-18 80-28 73-34 64-24 33-24 30-30 30-30 27-35 26-37 24-78 40-91 33-95 23-109 17-110 7z"/><path fill="#f2f200" d="M1730 1882l-83 2-83-2-67-4-74-9-72-14-66-16-61-20-64-27-52-27-48-30-46-36-39-37-33-40-29-43-24-47-21-53-19-77-12-83-5-100-1-157 2-110 6-83 12-74 18-66 25-60 30-54 36-48 44-44 50-41 56-35 60-30 70-27 80-22 87-17 90-10 97-5 140 1 106 6 97 14 87 21 70 25 63 30 57 37 53 44 45 48 40 57 33 60 26 66 13 47 11 50 13 107 4 123-3 190-10 97-17 83-24 73-34 67-22 33-23 30-27 30-28 27-33 27-34 23-39 23-39 20-83 34-96 26-96 17-114 10z"/><path fill="#e8ee00" d="M1697 1879l-93 0-77-3-70-7-65-10-62-14-71-20-63-23-58-27-52-30-47-33-42-36-37-40-30-41-27-46-22-50-17-54-16-80-9-90-3-110 1-183 4-83 10-74 14-63 19-57 27-56 35-54 41-47 47-43 56-39 60-33 70-29 74-23 93-21 97-12 96-6 130 0 104 5 86 10 84 16 73 23 67 28 60 34 55 41 48 46 41 50 37 60 27 60 23 70 19 94 10 103 1 187-5 126-11 87-20 80-26 70-36 64-23 33-27 31-29 29-31 26-68 47-79 40-82 30-93 23-111 17-107 7z"/><path fill="#dfea00" d="M1720 1875l-86 2-77-2-79-6-71-10-66-14-63-16-58-20-63-27-50-27-51-33-42-35-39-38-35-44-26-42-24-48-18-50-18-76-11-90-5-100 0-174 3-93 7-77 13-70 18-60 26-60 30-50 36-46 46-46 50-39 60-36 67-31 66-24 84-22 86-15 94-9 100-3 133 2 100 7 90 15 87 22 70 27 63 34 53 36 50 44 45 51 37 57 31 60 23 63 12 47 10 46 12 104 3 163-4 150-10 90-17 80-25 73-35 67-22 33-24 30-28 30-29 27-34 27-35 23-74 40-86 33-86 24-95 16-119 10z"/><path fill="#d6e700" d="M1744 1872l-77 3-83-1-74-4-70-8-74-13-68-17-63-20-58-23-53-27-49-30-45-33-40-37-35-40-30-43-25-47-20-50-18-63-13-77-7-83-3-104 1-156 5-97 11-83 19-77 24-60 27-50 36-50 42-44 50-42 53-35 60-31 67-26 76-23 84-18 93-12 93-5 144 0 106 6 90 12 87 20 67 23 66 31 57 35 53 42 45 47 40 53 34 60 27 64 13 43 12 50 15 103 5 114-2 193-8 97-16 86-24 74-33 70-21 32-23 31-26 30-28 27-64 50-75 43-79 33-89 27-105 20-104 10z"/><path fill="#cce200" d="M1710 1872l-86 1-74-2-70-6-76-11-74-15-59-17-66-23-58-27-53-30-44-30-43-36-37-38-32-43-26-43-23-50-17-50-17-73-10-90-4-104 0-183 4-87 8-70 13-66 19-60 27-60 32-50 40-49 46-44 54-39 60-34 66-29 70-24 87-20 100-15 93-7 114-1 113 3 93 9 84 16 76 21 67 27 63 34 54 38 50 46 41 48 37 56 31 64 23 66 20 90 11 107 3 177-5 133-11 90-18 80-27 70-34 63-21 32-27 32-27 28-30 26-33 26-35 23-77 40-89 33-91 24-101 15-104 8z"/><path fill="#c3de00" d="M1730 1869l-83 2-80-2-70-5-71-9-71-13-65-17-61-20-63-26-51-27-48-30-43-34-40-39-34-40-29-44-23-46-19-50-20-77-11-83-5-100-1-164 2-103 7-77 12-66 19-67 24-57 31-53 37-48 43-44 50-39 57-35 60-29 70-27 76-21 87-16 90-10 93-4 137 1 103 6 94 14 83 21 70 25 63 32 57 37 50 42 44 48 38 54 33 60 26 66 13 47 10 47 13 103 4 120-3 183-9 94-17 83-25 73-33 67-21 31-24 32-26 28-30 29-33 27-33 23-73 40-82 33-95 27-94 17-110 10z"/><path fill="#bad900" d="M1737 1865l-83 3-84-2-70-4-75-10-70-13-65-17-61-20-56-23-52-27-51-32-43-33-40-38-33-40-30-44-24-46-18-47-19-70-12-77-6-90-1-126 1-130 5-87 12-80 20-73 23-57 30-53 35-48 44-45 50-40 53-34 63-31 64-25 76-22 87-17 90-11 93-5 137 1 103 6 94 12 86 21 70 25 64 31 56 36 50 41 45 48 39 53 33 60 26 64 13 43 11 50 14 103 5 114-3 190-9 93-16 83-24 75-34 67-43 62-27 30-27 26-33 27-33 23-70 40-79 34-91 27-105 19-105 10z"/><path fill="#b0d400" d="M1734 1862l-80 2-84-1-70-5-75-9-70-14-65-16-60-20-56-24-52-26-48-30-44-34-40-37-33-39-30-44-23-44-21-52-19-70-11-77-6-90-2-120 1-130 6-90 11-77 20-73 23-57 29-53 35-47 44-46 50-40 53-34 63-32 67-26 80-22 83-17 90-11 94-4 136 1 104 6 93 13 87 22 66 24 64 31 56 36 51 43 46 49 38 54 33 60 24 63 14 47 10 47 14 103 3 117-3 183-9 93-16 84-25 71-33 67-44 62-26 28-29 28-33 27-34 23-72 40-81 34-94 26-92 17-108 10z"/><path fill="#a7cf00" d="M1730 1859l-80 2-80-1-70-5-73-10-70-13-65-17-61-20-63-26-51-27-47-30-43-33-40-39-33-40-27-40-23-45-20-51-20-75-11-84-5-96-1-154 2-100 6-80 13-73 18-63 23-57 31-53 35-47 43-43 49-40 57-35 63-31 67-26 80-22 83-16 90-10 93-4 134 1 103 6 93 14 84 21 68 25 62 30 56 37 51 43 46 50 37 53 32 60 25 64 13 46 11 47 13 103 3 124-3 176-9 94-17 80-25 72-33 64-44 62-54 55-66 49-72 41-82 33-94 27-93 17-109 10z"/><path fill="#9ecb00" d="M1720 1855l-83 2-77-2-76-6-70-10-69-14-62-16-59-21-61-26-50-27-49-32-43-34-37-37-34-42-26-41-24-48-18-49-18-77-11-86-4-97 0-170 3-90 7-73 13-67 18-60 25-57 32-53 37-46 43-42 50-39 57-34 63-30 70-26 80-21 88-15 92-10 93-3 127 2 100 7 90 15 85 22 68 26 60 31 57 39 50 43 43 50 37 54 30 58 25 66 22 91 12 102 3 153-4 147-9 90-17 77-25 72-34 65-43 59-27 29-30 28-33 26-33 23-76 41-84 33-86 24-98 17-110 9z"/><path fill="#94c600" d="M1697 1852l-83 1-74-3-73-7-70-11-67-15-65-18-63-24-57-26-51-30-44-30-40-35-36-39-30-39-27-45-23-52-16-50-16-77-9-87-3-106 1-177 5-80 9-67 14-63 20-57 27-56 34-50 40-47 47-42 54-38 61-33 65-28 71-22 89-21 97-13 93-6 123 0 104 4 86 10 77 16 77 23 63 27 60 33 54 40 49 47 40 50 37 59 28 61 22 66 19 90 9 100 2 177-6 123-11 84-19 76-27 70-34 60-46 60-58 54-67 46-78 40-81 30-93 24-103 16-107 7z"/><path fill="#8bc100" d="M1744 1845l-77 3-83 0-74-5-70-8-70-13-68-17-62-20-58-23-53-27-49-29-43-33-40-37-33-38-30-44-24-43-20-49-18-63-12-74-6-83-2-110 0-140 5-90 13-83 18-70 22-55 30-54 36-48 41-43 47-39 53-35 58-30 66-26 78-24 79-16 89-12 93-6 137 0 103 6 90 12 86 20 68 23 64 30 58 37 50 40 45 46 39 53 34 58 26 64 14 42 12 50 8 50 6 53 5 107-3 180-7 93-15 80-23 74-33 68-20 32-24 31-53 55-63 50-71 40-78 34-88 26-100 20-103 10z"/><path fill="#81bd00" d="M1720 1842l-80 2-76-2-74-6-70-9-70-14-66-18-60-20-57-25-53-28-46-30-41-33-38-37-32-38-29-45-23-47-18-47-18-73-11-87-4-94-1-162 3-90 8-75 13-69 17-56 26-60 30-50 37-46 43-43 54-41 56-34 64-30 65-23 75-20 89-17 91-9 90-3 126 1 100 7 92 14 78 21 70 26 60 30 56 37 50 43 44 49 37 52 31 59 26 67 13 46 10 47 12 97 3 123-3 170-9 87-17 80-25 73-33 63-45 61-26 28-30 28-64 46-73 40-83 33-90 25-97 17-107 9z"/><path fill="#78b800" d="M1687 1839l-80 0-73-3-74-8-70-11-66-15-64-19-60-23-56-26-50-29-46-33-41-36-34-37-29-40-27-47-20-46-17-54-15-77-8-86-2-114 1-166 6-74 9-66 16-63 20-55 27-52 36-53 43-47 47-40 55-37 64-33 67-27 78-23 90-18 96-12 90-4 127 1 97 6 78 10 76 17 72 23 67 30 55 33 52 40 47 47 39 50 34 57 29 66 21 67 16 87 9 100 1 173-6 118-12 82-19 70-27 67-36 62-47 58-29 29-30 25-67 44-77 38-83 30-93 23-100 14-107 7z"/><path fill="#6fb401" d="M1734 1832l-77 3-80-2-73-5-70-8-67-13-67-16-63-21-57-23-53-27-47-29-43-33-38-36-32-37-30-43-23-43-20-49-19-68-11-74-6-89-2-127 2-113 6-87 11-73 19-67 23-57 30-53 37-48 40-42 50-40 52-33 59-30 68-27 82-23 84-17 85-10 93-5 137 1 100 7 90 14 80 20 64 23 61 30 57 37 52 43 46 49 36 52 31 56 26 65 13 45 10 45 14 99 4 112-3 177-9 87-16 79-23 69-33 66-44 61-53 54-63 48-74 41-80 32-86 25-97 18-103 10z"/><path fill="#66b002" d="M1714 1829l-84 1-73-2-70-6-70-10-70-14-63-17-60-21-60-26-50-27-47-31-43-35-36-36-32-40-27-43-22-45-18-48-17-74-10-83-3-97 0-170 3-80 9-70 13-63 20-61 26-56 30-48 40-48 43-40 50-37 57-33 66-30 67-24 78-20 96-16 83-7 100-3 117 3 87 7 84 13 87 23 68 27 58 30 54 37 52 46 43 50 37 55 30 60 23 64 20 85 12 103 3 157-4 130-11 90-16 72-26 68-32 60-45 60-54 52-63 46-77 41-83 32-90 24-97 16-103 9z"/><path fill="#5ead03" d="M1687 1825l-80 1-73-4-70-7-74-12-64-14-66-20-54-20-57-27-52-30-43-31-40-34-37-40-30-40-24-42-21-46-17-54-14-73-8-80-3-103 1-170 5-77 10-67 14-58 20-56 27-53 33-50 41-46 49-43 54-37 63-33 64-27 76-23 93-20 84-11 93-6 120 1 100 5 83 10 80 17 65 20 62 27 60 34 53 39 49 47 41 52 34 54 30 66 20 65 18 86 9 97 1 170-5 117-11 80-19 73-27 66-36 62-47 58-57 51-69 46-74 37-85 30-95 23-94 14-106 6z"/><path fill="#55aa05" d="M1737 1819l-77 2-80-1-73-5-67-8-66-12-68-16-62-20-58-24-52-26-45-27-45-33-37-34-33-37-30-42-24-43-20-47-19-71-12-73-6-87-1-123 1-113 6-84 12-73 19-69 24-55 26-47 37-49 40-41 47-39 52-33 58-30 66-27 79-23 80-17 85-11 90-6 130 1 103 6 83 11 84 19 68 23 64 30 58 36 50 41 45 47 38 51 33 59 27 64 13 43 11 46 14 100 5 107-3 173-8 87-15 78-24 70-33 65-20 31-23 30-52 52-62 47-70 40-81 33-92 27-90 17-100 10z"/><path fill="#4da706" d="M1707 1815l-80 2-70-3-70-5-70-10-66-14-64-17-65-23-55-24-50-27-47-30-40-32-37-37-33-41-26-42-23-47-17-46-17-74-9-80-4-93 0-163 4-80 8-70 14-64 17-53 26-57 31-49 36-44 44-42 50-38 56-33 65-30 66-24 76-20 96-16 87-9 94-2 120 2 96 8 81 14 83 23 66 26 58 31 53 37 49 44 43 49 36 53 30 60 23 64 21 86 11 97 3 153-4 130-10 84-17 73-26 68-33 61-44 58-56 53-66 47-71 37-86 33-90 23-97 16-100 7z"/><path fill="#45a308" d="M1737 1809l-77 3-76-1-70-5-70-8-70-13-67-16-60-19-57-23-50-25-50-30-43-32-37-33-33-37-30-42-23-42-20-47-18-60-12-70-6-77-2-100 0-133 5-87 12-80 18-67 23-55 26-49 34-46 40-43 46-39 52-34 56-30 64-27 75-23 83-19 84-12 93-6 130 0 103 5 87 12 85 20 68 23 63 30 54 34 50 40 45 46 38 51 34 58 26 61 14 43 10 44 9 50 6 50 5 103-2 170-8 90-15 77-23 70-32 64-43 59-51 52-62 48-70 40-81 33-87 26-93 18-100 10z"/><path fill="#3ca009" d="M1700 1805l-80 1-70-2-70-7-70-10-66-14-67-19-60-21-53-24-50-27-47-32-40-33-35-35-32-40-25-40-21-45-17-48-17-72-9-82-3-96 0-160 5-77 8-67 14-60 19-56 25-54 31-48 39-45 45-42 53-38 57-32 62-28 68-23 83-21 90-14 90-8 103-1 107 3 90 8 83 16 74 21 64 26 59 31 53 38 49 44 41 49 36 54 30 60 22 64 20 86 10 94 3 153-4 123-11 84-17 70-25 66-34 61-43 56-57 53-63 44-73 38-84 32-90 23-96 16-104 7z"/><path fill="#349d0b" d="M1730 1799l-73 2-77-1-70-5-70-8-70-13-63-16-63-20-54-22-53-26-47-29-43-32-37-33-33-38-28-39-24-44-18-43-18-63-12-70-6-80-1-107 1-120 5-83 12-77 18-67 23-53 28-50 33-45 40-42 47-38 50-33 60-32 63-25 77-24 80-17 87-12 90-5 126 0 100 6 90 12 80 19 67 23 60 29 57 35 50 40 44 46 39 52 33 58 25 60 14 43 10 43 14 97 5 103-2 164-8 90-16 76-23 70-31 60-43 60-51 53-60 45-74 41-80 33-83 24-97 18-100 10z"/><path fill="#2b9a0c" d="M1700 1795l-80 1-70-2-70-7-70-10-63-13-63-18-64-22-53-24-50-27-43-29-40-32-38-37-32-40-25-40-21-43-18-50-16-70-9-80-3-93 0-160 5-77 9-67 14-60 18-53 26-53 30-47 40-46 43-40 50-36 57-32 60-27 70-25 80-20 93-15 90-8 100-1 107 3 90 8 80 15 76 21 67 28 57 30 53 38 47 43 41 47 35 54 30 60 22 63 20 87 11 93 2 150-4 120-10 80-18 73-24 64-34 60-45 57-26 26-30 26-67 46-70 35-83 31-90 23-94 15-100 7z"/><path fill="#23970e" d="M1647 1792l-103-3-104-12-100-20-90-27-86-36-70-41-60-46-50-52-37-53-29-57-21-63-14-70-8-103-1-167 3-100 10-80 14-63 21-60 29-57 35-50 41-45 50-42 57-37 60-31 70-28 76-22 80-16 80-10 94-6 120 1 90 5 80 10 73 16 67 21 60 26 60 34 53 40 45 44 40 50 33 53 27 57 20 60 14 60 10 70 6 87 0 136-4 87-9 73-12 54-15 50-21 46-26 47-31 42-36 38-41 36-43 30-50 29-50 23-64 23-60 17-63 14-70 10-73 6-77 2z"/><path fill="#1b9410" d="M1727 1786l-73 2-74-1-66-5-70-8-70-13-60-15-60-19-60-24-54-26-43-26-43-32-38-34-33-36-29-40-22-40-20-47-18-63-11-70-6-77-1-110 1-113 5-80 12-74 18-63 22-53 29-50 34-46 40-41 47-38 50-33 60-30 60-25 73-22 80-18 90-12 90-5 123 0 97 5 90 13 80 19 67 23 63 31 53 34 50 41 45 47 37 50 30 53 26 64 14 43 10 43 13 94 4 100-2 160-8 86-15 74-23 66-32 64-20 30-24 30-51 50-60 44-74 41-83 33-83 23-94 17-93 9z"/><path fill="#119814" d="M1720 1782l-70 2-73-1-70-5-67-9-66-12-67-17-60-19-57-23-50-25-46-29-44-32-36-34-32-36-28-40-22-40-19-47-19-66-11-77-5-83 0-137 2-87 6-73 12-63 18-60 23-54 27-46 34-45 40-41 47-38 53-34 60-30 60-24 80-24 80-16 84-11 90-5 120 1 96 6 90 12 80 20 67 24 60 30 53 34 50 41 44 46 36 50 32 57 24 60 23 83 14 94 4 103-3 160-8 87-15 70-23 66-33 64-42 56-53 52-63 46-70 38-80 32-87 24-93 16-97 9z"/><path fill="#089f18" d="M1720 1779l-73 2-73-2-70-5-70-9-60-12-67-16-60-20-57-23-53-27-43-27-40-30-37-33-31-35-29-40-22-40-20-47-18-66-12-77-5-87 0-133 2-90 7-70 12-67 17-56 24-54 27-46 35-45 40-40 46-38 50-32 60-30 60-24 77-23 80-17 80-10 90-6 120 0 100 6 90 13 77 18 63 22 63 30 57 36 50 41 45 49 37 50 29 53 27 63 13 44 10 43 13 93 4 100-3 157-9 87-15 70-23 66-32 60-43 58-53 52-63 46-67 36-77 31-90 25-93 17-97 9z"/><path fill="#01a91d" d="M1710 1775l-76 2-74-2-60-5-70-10-66-13-64-16-60-21-56-23-50-26-47-30-40-31-37-35-30-36-27-40-24-47-16-43-17-67-10-77-4-86 0-150 4-77 7-63 13-60 18-57 25-53 29-47 36-44 43-42 47-35 56-34 57-27 63-23 74-21 83-16 83-10 87-4 117 2 93 6 87 13 80 21 63 23 60 30 53 35 51 43 42 46 38 54 30 56 25 64 20 80 13 96 3 124-4 133-9 83-16 70-24 64-32 60-44 56-53 50-63 45-70 37-77 30-86 24-94 16-100 8z"/><path fill="#00ae1e" d="M1700 1772l-76 1-70-2-70-7-67-10-67-14-60-17-63-22-53-24-50-27-44-29-39-32-34-34-30-36-26-40-21-44-17-46-15-67-10-77-3-90 1-150 4-73 8-63 14-60 18-54 25-50 32-49 37-43 43-40 50-36 57-32 60-27 66-24 80-20 87-15 90-8 97-1 106 3 84 8 76 13 80 23 64 26 56 31 54 38 44 40 41 47 35 53 29 57 23 63 19 83 11 90 2 140-4 117-9 77-17 70-26 66-33 57-45 57-54 49-63 43-70 36-80 30-90 23-87 14-100 8z"/><path fill="#00b31f" d="M1664 1765l-77 0-70-5-73-10-67-12-67-18-60-20-56-23-50-26-47-30-40-30-37-35-31-37-27-40-23-44-17-46-13-50-11-67-5-77-1-156 4-90 7-64 12-60 18-53 22-50 31-50 38-47 46-43 50-37 57-33 63-28 70-24 77-20 83-14 90-8 107-1 100 3 77 8 73 13 67 19 63 24 57 30 53 36 49 42 42 47 34 50 30 56 23 60 19 70 12 80 5 87-1 147-8 96-13 70-20 64-28 56-35 54-46 50-56 47-67 42-73 33-80 27-87 19-93 13-100 5z"/><path fill="#00b71f" d="M1644 1759l-100-4-97-12-97-20-86-26-77-33-70-39-60-46-49-50-36-50-28-55-21-59-14-66-8-94-2-143 3-97 9-80 13-63 20-57 26-53 34-50 40-45 46-40 54-37 60-32 66-28 70-22 77-17 80-11 87-7 106 0 90 5 80 9 70 15 67 20 60 26 57 31 50 36 46 43 40 47 33 50 27 54 21 56 16 64 11 66 6 84 0 116-3 84-8 70-11 53-16 50-20 47-24 43-30 40-33 37-39 34-43 31-47 28-53 25-60 23-60 17-63 14-67 9-70 7-73 2z"/><path fill="#00bb1f" d="M1730 1749l-70 3-66-1-67-4-67-9-69-13-61-15-56-18-58-23-52-26-45-28-41-30-37-33-31-34-28-39-22-40-20-46-17-61-11-73-5-80-1-124 3-83 6-67 12-61 17-55 21-50 28-47 33-43 39-40 45-37 52-33 58-30 58-24 72-22 77-17 80-11 83-6 114 1 92 5 81 12 77 18 65 24 58 28 56 35 47 38 44 45 36 49 32 55 25 60 23 81 14 89 4 93-2 143-8 80-15 70-23 66-30 58-40 55-50 50-60 45-65 36-75 32-83 25-85 17-92 10z"/><path fill="#00bf20" d="M1720 1742l-70 3-70-2-60-5-71-9-66-14-62-16-59-20-54-24-51-26-42-27-39-30-36-34-30-35-26-39-24-45-16-43-17-67-9-70-4-84 0-133 4-73 9-64 13-56 17-50 23-50 30-46 34-41 42-40 48-36 51-31 55-26 61-24 70-20 82-16 81-10 76-4 107 1 87 7 80 12 77 20 62 24 59 30 55 36 47 40 40 44 36 50 30 55 25 61 21 80 11 84 4 100-3 136-8 77-16 70-24 62-30 55-40 53-51 50-60 43-66 37-74 30-79 23-85 17-95 10z"/><path fill="#00c41f" d="M1684 1735l-70 1-67-4-70-8-67-12-63-15-60-19-57-23-53-26-47-29-42-31-36-34-32-36-26-38-23-42-17-43-14-47-11-64-5-73-1-140 3-87 7-63 12-57 15-50 24-51 30-49 36-45 43-41 47-36 57-34 57-27 64-23 72-20 80-15 80-9 90-3 104 3 76 7 73 13 64 18 60 22 59 30 51 34 47 39 41 44 35 49 30 53 26 61 18 62 13 75 6 80 0 133-7 94-12 70-17 56-27 58-33 53-43 50-54 46-61 40-67 33-75 28-83 21-87 14-93 7z"/><path fill="#00cf19" d="M1680 1732l-70 0-65-3-68-8-67-13-65-16-61-20-57-23-50-25-47-29-43-33-35-33-32-37-26-40-21-40-18-47-13-46-10-64-5-73-1-140 4-83 8-64 12-55 18-51 22-49 30-47 37-44 43-41 50-37 57-32 60-28 67-23 73-19 78-14 82-7 93-2 94 3 73 8 70 13 66 19 61 24 56 30 53 36 46 40 41 46 35 50 29 55 23 61 16 61 12 73 5 80-1 130-7 90-13 67-19 59-26 56-34 51-43 48-54 46-62 40-67 32-77 28-80 20-87 13-90 7z"/><path fill="#00d814" d="M1690 1729l-66 1-67-3-67-8-63-10-63-15-62-19-55-21-54-25-46-27-43-31-37-32-33-36-28-38-23-40-19-43-14-47-13-63-6-70-2-130 3-93 6-64 12-60 16-53 20-47 28-46 36-47 40-40 46-37 53-33 58-29 63-24 68-20 81-17 81-10 80-3 100 1 80 6 74 12 68 17 62 22 57 28 53 34 46 37 44 45 36 48 31 53 26 59 18 61 14 73 7 80 1 134-7 93-11 67-19 63-24 53-32 52-44 52-53 46-60 40-67 33-73 27-80 22-87 14-90 8z"/><path fill="#00e110" d="M1700 1725l-66 2-64-2-66-7-67-10-63-15-61-18-59-22-53-24-47-27-43-30-37-32-34-35-30-40-23-40-19-43-14-43-13-64-6-70-3-100 2-116 6-66 10-56 15-52 21-50 28-50 32-43 38-40 44-37 50-33 57-30 65-27 65-20 79-17 83-12 77-4 96 0 84 5 73 11 70 16 63 22 58 26 55 33 48 37 44 43 37 47 32 53 26 57 20 60 15 73 8 80 1 130-5 94-11 70-18 63-23 54-31 53-42 51-50 45-58 40-69 36-73 29-80 22-84 15-90 8z"/><path fill="#00e510" d="M1707 1716l-67 2-63-2-63-6-64-10-66-15-58-16-55-20-52-24-48-26-41-27-40-33-34-34-29-36-23-37-20-41-17-47-13-59-8-70-3-83 1-127 5-63 8-57 14-53 19-50 27-50 30-43 37-41 43-38 51-35 54-30 62-26 60-20 76-19 77-12 77-7 86-1 87 4 77 9 73 16 63 20 60 26 54 30 50 37 43 41 40 47 33 52 27 55 20 58 17 74 9 80 2 123-5 97-10 69-16 61-23 56-31 52-40 50-50 47-56 40-65 35-74 30-78 22-83 16-87 9z"/><path fill="#00e810" d="M1697 1706l-63 1-60-2-64-7-66-11-66-15-55-17-53-20-56-26-46-27-43-30-35-30-33-36-27-35-23-40-20-46-13-43-12-60-6-70-2-127 3-83 6-60 11-54 16-53 20-45 29-48 34-43 40-40 46-37 54-33 54-27 60-23 68-20 79-16 76-10 77-3 93 2 77 6 67 11 63 17 63 23 55 26 52 34 49 40 41 42 37 50 29 51 24 56 18 57 13 70 7 77 0 123-6 87-12 67-17 55-24 55-32 50-40 48-51 45-59 40-64 32-72 28-72 20-82 15-87 9z"/><path fill="#00ec10" d="M1710 1692l-63 3-60-2-60-5-63-10-60-13-64-18-58-22-50-23-47-27-41-28-38-32-32-33-27-34-23-37-20-42-15-44-12-56-8-67-2-83 2-117 5-60 10-56 13-48 20-49 27-48 31-42 37-40 44-37 50-33 51-28 62-26 62-20 73-17 80-11 70-5 90 0 83 6 70 10 67 17 59 20 57 27 49 30 47 37 41 40 37 45 30 48 26 56 20 58 16 73 8 73 1 113-5 87-10 64-16 61-24 55-30 50-40 49-46 43-54 38-63 34-70 29-73 22-77 15-87 10z"/><path fill="#00ef10" d="M1697 1679l-60 1-60-2-63-7-64-11-61-15-59-18-53-22-50-24-43-26-40-30-37-33-30-33-26-37-22-40-18-43-12-44-10-56-5-67-1-120 4-77 7-56 12-50 15-47 23-47 30-46 33-40 40-38 47-35 52-31 57-26 64-23 63-17 70-14 74-7 80-2 83 3 70 7 64 13 59 17 60 24 55 29 49 33 43 37 39 43 34 47 27 50 23 56 16 57 12 67 5 70-1 110-6 80-11 60-18 55-24 51-31 47-41 47-47 41-54 36-63 33-68 26-72 21-80 15-80 8z"/><path fill="#00f211" d="M1660 1665l-60 0-63-6-67-11-63-14-60-19-57-22-53-27-47-29-40-30-36-35-30-36-25-37-20-40-17-47-11-47-7-53-3-70 0-110 4-60 7-53 14-54 19-50 23-43 30-43 39-43 43-37 50-34 57-30 60-25 67-20 73-16 70-9 70-4 83 2 70 6 64 10 60 16 56 20 54 25 46 28 47 36 39 38 36 43 30 47 25 52 19 55 14 56 8 60 3 67-1 97-6 63-10 55-16 52-23 50-28 44-33 40-44 41-50 37-56 32-64 28-70 23-70 16-73 10-77 5z"/><path fill="#00ef1b" d="M1700 1652l-60 2-53-1-60-7-60-10-60-15-57-18-53-21-50-25-43-27-37-27-34-31-30-33-24-34-22-40-18-43-11-40-10-53-4-64-1-110 3-70 7-53 11-50 17-47 21-43 28-43 34-40 40-38 46-34 50-29 57-26 60-22 63-17 70-13 67-6 77-1 76 3 64 8 63 13 57 17 56 23 54 29 46 32 43 37 36 40 33 47 26 47 22 53 16 57 10 60 5 66-1 100-6 77-12 57-16 50-25 50-28 43-39 44-47 41-53 36-60 31-67 26-70 20-73 14-74 8z"/><path fill="#00e925" d="M1664 1649l-60-1-64-5-63-11-63-15-60-19-54-22-50-25-46-29-40-30-35-33-31-37-24-37-20-40-15-43-11-47-6-50-4-66 0-104 4-56 8-54 13-50 19-50 23-43 29-41 36-40 44-37 50-34 56-30 64-26 63-19 67-15 70-9 66-3 80 2 70 6 60 10 57 15 53 19 50 24 50 30 44 33 40 38 35 44 30 46 25 50 19 54 13 56 8 57 3 67-2 90-6 60-11 53-16 50-22 47-27 43-33 39-43 40-47 34-56 33-60 26-67 22-70 17-70 10-73 6z"/><path fill="#00e32d" d="M1694 1642l-57 2-57-2-60-8-60-11-60-16-56-19-54-23-46-24-44-28-36-29-33-32-28-33-24-37-19-37-15-43-11-43-8-57-3-63 0-104 5-66 9-54 14-46 17-44 24-43 29-40 37-40 42-36 47-31 53-29 57-24 60-19 67-16 66-10 64-4 80 1 73 5 63 11 60 15 54 19 53 24 50 31 43 33 40 39 35 41 30 47 24 50 19 53 13 53 8 60 3 70-2 87-8 70-13 53-18 50-24 45-30 43-40 43-47 38-53 34-57 29-63 24-70 20-70 13-73 8z"/><path fill="#00dc36" d="M1697 1636l-57 2-53-2-60-7-60-11-60-16-57-19-53-23-47-24-42-27-38-30-32-30-28-34-24-36-19-37-15-40-12-47-8-56-3-64 0-100 5-66 9-50 13-47 18-43 24-44 29-40 38-40 42-35 47-31 53-28 57-24 60-19 63-15 67-10 63-4 77 1 73 6 63 10 57 15 57 20 50 24 50 30 43 34 40 39 33 40 30 47 23 47 20 53 13 54 8 60 2 66-2 87-8 67-13 53-18 50-25 45-29 42-38 40-46 38-53 35-57 28-63 25-67 19-70 14-70 8z"/><path fill="#00d53f" d="M1704 1629l-60 3-50-2-57-6-60-11-60-15-57-19-50-20-50-26-43-27-36-27-32-30-30-34-25-36-20-37-15-40-12-43-8-54-4-60 0-100 4-66 8-50 13-48 17-42 23-44 30-42 35-38 39-33 46-33 50-27 57-25 60-21 60-15 63-11 64-5 73 0 73 5 61 9 59 14 57 19 53 23 50 30 44 32 40 37 35 41 29 44 26 48 20 52 14 53 9 57 3 63-1 87-7 70-12 50-17 50-23 44-30 44-37 42-46 39-50 33-57 30-60 24-67 20-69 15-70 9z"/><path fill="#00ce48" d="M1644 1625l-60-2-64-8-63-14-63-18-57-21-57-27-46-27-44-32-36-33-30-34-27-39-20-39-16-42-11-47-7-50-3-60 0-82 3-55 7-50 13-50 17-47 24-44 29-42 33-37 41-36 48-34 52-29 57-25 63-21 67-16 66-10 64-4 70 1 63 6 60 9 57 14 52 19 51 23 50 30 43 32 40 38 34 39 30 44 24 47 20 50 14 53 9 54 3 60 0 70-4 56-9 54-13 46-18 44-24 43-30 40-36 38-43 35-47 31-56 29-57 24-63 19-64 14-70 10-66 3z"/><path fill="#00c651" d="M1650 1619l-56-2-64-8-63-12-60-17-59-21-51-24-48-26-45-32-37-32-31-33-27-37-22-40-17-41-12-45-7-47-4-53-1-84 2-56 6-50 12-50 16-47 22-44 26-40 33-39 40-37 45-33 51-30 57-27 64-23 64-16 63-11 63-6 67 1 67 4 56 9 57 13 53 17 50 22 48 27 47 33 41 37 34 37 31 43 26 46 21 50 16 53 10 54 4 53 0 70-4 60-7 51-13 49-17 44-24 43-29 40-34 37-43 36-47 32-53 28-57 24-60 20-66 15-67 10-67 5z"/><path fill="#00bd5a" d="M1677 1609l-53 1-56-5-63-10-56-13-55-17-59-23-48-24-49-29-40-30-32-30-30-34-25-36-21-40-14-37-11-43-7-47-4-60 1-87 3-53 9-50 13-49 17-41 23-42 28-38 36-39 40-34 43-31 54-29 61-27 61-20 61-14 63-10 57-4 66 1 67 7 59 10 51 13 55 20 49 24 49 30 43 33 37 36 34 40 27 41 23 43 20 50 14 50 9 57 3 56-2 77-5 53-10 50-16 49-20 42-27 41-30 36-40 38-46 34-50 30-57 27-57 21-63 17-65 12-65 7z"/><path fill="#00b363" d="M1674 1599l-50 1-57-5-58-10-62-15-57-18-56-23-50-26-44-27-36-28-35-33-28-33-24-36-19-37-15-40-10-44-6-46-3-60 1-80 4-50 8-47 14-47 19-44 24-40 29-39 37-38 43-35 46-30 51-27 57-24 62-19 61-14 64-9 56-2 67 2 63 8 57 11 53 16 50 20 47 24 43 29 40 32 37 36 33 40 27 43 23 46 18 48 13 50 7 53 2 60-2 67-6 53-11 47-17 46-20 40-27 40-29 34-40 36-44 33-50 30-53 24-57 21-64 17-63 12-63 7z"/><path fill="#00a96b" d="M1657 1589l-50-1-60-7-61-12-59-17-55-20-52-23-47-27-43-29-36-31-30-32-26-35-22-36-16-37-12-43-8-44-4-50-1-73 2-53 6-50 11-44 15-43 21-42 27-40 30-35 39-36 44-34 50-29 50-24 60-23 60-16 60-12 60-6 60 0 64 5 55 9 55 13 50 17 50 23 43 24 41 29 38 34 34 36 30 40 27 45 20 45 16 50 11 50 5 50 0 64-3 53-8 50-11 43-18 44-22 40-27 37-33 36-40 34-47 32-49 27-54 24-59 20-58 14-63 11-60 5z"/><path fill="#00a172" d="M1680 1575l-46 2-50-3-57-9-60-14-57-18-52-21-48-24-46-28-38-28-33-30-29-33-23-34-20-36-14-37-10-40-7-47-3-56 0-77 5-50 8-43 14-44 18-40 23-40 29-36 36-37 40-33 46-30 48-25 53-23 58-19 59-14 60-9 53-2 60 2 58 6 55 11 54 16 46 18 47 24 43 28 40 31 36 36 31 37 27 40 22 43 18 46 13 47 8 50 2 53-1 64-6 50-10 43-15 43-19 40-26 39-29 35-37 34-43 32-47 29-50 24-54 21-60 17-60 12-60 7z"/><path fill="#009e7d" d="M1660 1569l-46-1-57-6-57-11-56-16-54-19-50-22-47-25-43-29-36-31-30-30-26-34-21-34-17-37-12-39-8-43-4-47-1-70 2-50 6-46 10-44 16-43 20-40 25-37 30-35 37-35 43-32 46-28 50-24 57-21 60-18 57-11 56-6 54 0 60 4 53 8 53 13 50 17 47 21 43 24 42 30 38 33 34 36 30 40 24 41 20 43 16 47 10 47 5 50 0 60-3 50-8 46-11 41-17 41-21 38-27 37-31 33-37 33-44 30-48 27-52 23-56 20-57 15-60 10-57 6z"/><path fill="#009e86" d="M1674 1565l-44 2-53-5-57-9-56-15-54-17-53-22-47-24-43-27-37-28-33-31-27-32-23-34-19-38-13-36-10-40-5-44-3-53 1-73 5-47 9-43 14-44 19-40 23-36 29-37 33-34 42-33 45-29 50-26 57-23 56-18 57-12 57-8 50-2 60 3 56 7 54 12 50 15 46 19 47 25 42 27 38 32 33 33 32 39 26 40 21 43 18 47 12 46 6 47 2 57-3 56-6 47-10 43-15 40-21 40-25 36-30 34-37 34-43 31-47 28-50 23-53 20-57 16-59 12-57 6z"/><path fill="#009e8e" d="M1680 1562l-43 2-50-3-57-9-56-14-54-16-53-22-50-24-43-27-37-27-33-30-27-31-23-33-20-36-14-37-10-40-7-43-3-53 1-74 4-46 8-44 14-43 18-40 22-37 28-36 35-37 40-32 44-29 49-26 54-22 57-19 56-13 57-9 50-2 60 2 57 7 53 11 50 15 47 18 43 22 43 28 40 32 35 34 31 36 26 40 23 44 17 43 12 47 8 46 2 50-2 60-6 50-9 44-15 40-20 40-24 36-29 34-35 33-40 30-47 29-50 24-53 21-57 17-60 12-57 7z"/><path fill="#009e96" d="M1687 1559l-47 2-46-2-54-8-56-13-54-16-53-20-48-23-46-27-37-27-34-30-28-30-24-33-21-37-15-36-10-38-7-42-4-54 0-73 4-47 7-43 13-43 18-40 22-39 26-35 34-35 37-31 43-30 49-27 53-23 55-19 57-15 56-9 50-3 57 1 60 6 53 10 50 14 47 18 46 23 44 27 39 30 35 33 31 37 28 40 23 43 17 42 13 45 8 47 3 50-1 60-5 50-10 43-13 40-19 40-24 37-29 34-36 35-40 31-44 27-50 25-53 21-56 17-57 12-57 8z"/><path fill="#019f9f" d="M1644 1559l-50-3-57-8-57-14-56-17-54-21-47-24-44-27-40-30-33-30-29-33-22-33-19-37-13-37-10-40-5-43-3-53 1-60 4-47 8-43 12-40 18-40 22-39 27-35 33-34 38-32 45-30 47-26 50-22 57-19 57-14 56-9 54-4 56 2 57 7 53 10 50 14 47 19 44 22 42 26 39 30 35 34 31 36 26 37 23 43 18 44 13 46 8 47 3 50-2 57-5 46-9 44-13 39-17 37-23 37-26 33-34 34-40 32-43 28-47 24-53 22-53 17-57 14-60 9-53 4z"/><path fill="#01a1a9" d="M1690 1552l-50 3-40-2-53-7-57-13-53-15-53-21-47-22-46-26-38-27-33-28-30-32-23-31-20-35-15-34-12-40-7-40-4-53 0-74 4-46 7-44 12-40 17-40 21-38 26-35 34-36 37-31 42-30 48-26 53-24 54-18 56-15 54-9 50-4 53 1 58 5 55 10 50 14 47 17 46 23 41 24 38 29 37 33 31 36 27 38 23 41 20 45 14 47 7 43 4 50-1 60-5 47-9 44-13 41-18 38-23 37-27 33-34 34-38 30-43 27-50 26-54 22-56 17-57 13-57 8z"/><path fill="#02a5b5" d="M1690 1549l-50 3-40-2-53-8-57-12-56-17-50-20-47-22-45-26-37-26-31-27-29-30-25-33-20-35-15-35-11-39-8-41-3-50 0-70 3-47 7-43 12-40 16-40 21-37 27-37 31-34 38-32 42-30 47-26 50-23 53-19 57-15 57-10 50-4 53 1 57 6 56 10 50 14 47 17 44 22 43 26 36 27 37 34 32 36 28 40 22 40 18 44 13 45 8 45 4 50-2 60-5 46-9 44-14 40-18 36-23 37-27 33-35 34-39 29-43 27-47 24-53 22-53 17-57 12-57 9z"/><path fill="#05acba" d="M1664 1529l-40 0-50-5-54-10-56-16-50-17-50-22-44-24-39-26-34-28-28-29-24-30-21-33-15-34-12-36-7-37-5-43-1-60 2-47 6-40 9-40 15-40 19-37 23-33 29-34 33-31 40-30 44-26 50-24 53-21 53-15 54-11 50-5 50 0 53 4 50 8 47 12 46 16 44 19 43 25 37 26 35 30 31 33 27 35 24 39 19 40 15 43 9 44 5 43 0 50-3 47-6 40-11 40-16 36-19 35-24 32-30 33-36 31-40 28-44 25-46 21-50 18-54 15-53 10-53 6z"/><path fill="#08b2bf" d="M1657 1505l-40 0-50-6-50-11-53-15-48-18-46-21-40-22-38-27-31-26-26-27-23-30-18-31-15-32-10-34-7-36-3-44-1-56 3-40 6-40 10-37 15-37 19-33 24-33 28-30 34-30 37-27 43-25 47-22 50-18 52-15 51-9 47-5 46 1 50 5 47 8 47 12 43 16 40 19 40 24 36 26 33 30 31 33 24 33 22 37 17 38 14 40 8 42 4 40-1 47-3 43-7 37-12 36-14 34-20 33-23 30-29 30-33 28-40 27-40 22-47 21-50 18-50 13-50 9-50 5z"/><path fill="#0ab8c4" d="M1670 1479l-33 2-43-4-47-8-50-13-47-15-45-19-41-21-37-23-30-23-29-26-23-27-21-30-15-30-11-30-8-33-5-37-2-47 2-50 4-36 8-34 13-36 17-32 21-32 26-29 32-31 34-26 39-24 41-20 47-19 47-15 46-10 47-7 40-1 50 3 47 7 43 10 43 15 40 17 38 20 34 24 33 26 30 30 25 32 23 35 19 37 14 36 9 37 5 37 1 43-3 40-5 37-10 36-14 34-17 30-22 30-26 29-32 27-35 25-38 22-42 20-43 16-47 14-50 11-47 6z"/><path fill="#0dbec9" d="M1667 1452l-33 1-40-3-44-8-50-13-46-16-40-18-39-20-31-20-30-23-24-22-22-25-18-26-16-30-10-29-8-31-4-34 0-86 5-36 8-31 12-32 16-31 21-30 23-26 29-28 31-23 37-23 40-20 41-17 45-14 44-10 46-6 37-1 47 3 43 6 43 11 37 12 37 16 37 20 33 21 30 25 27 27 25 30 21 31 17 32 13 34 10 36 5 37 1 40-2 37-6 33-9 33-12 30-17 30-20 27-25 27-31 26-33 24-34 20-43 20-44 16-40 12-43 9-47 6z"/><path fill="#0ec4ce" d="M1677 1419l-33 3-27-2-77-13-80-27-36-16-34-18-53-39-23-22-19-23-16-23-11-24-10-26-7-27-4-33-1-44 2-36 4-30 7-27 12-30 14-27 19-26 23-27 27-25 30-23 33-21 33-17 34-13 40-12 36-8 40-6 37-1 40 2 43 5 37 8 40 13 33 13 37 19 33 22 27 21 27 26 23 28 20 29 15 30 13 33 9 34 3 33 1 37-3 33-7 33-10 30-13 27-16 27-22 26-27 26-30 23-33 21-37 19-40 16-40 13-43 10-40 6z"/><path fill="#08d0d8" d="M1677 1402l-33 3-24-1-73-13-73-23-64-31-51-35-41-40-28-43-10-24-8-26-5-30-2-30 0-40 3-34 7-30 7-23 13-27 14-23 21-27 24-24 26-23 30-22 27-15 33-16 67-21 40-7 37-4 33 0 43 4 40 7 40 10 37 13 37 17 33 20 27 20 28 25 24 26 19 27 17 30 13 30 8 30 6 33 1 34-3 33-5 33-10 30-12 27-17 27-19 24-24 23-30 24-30 19-33 18-40 17-40 12-43 10-37 6z"/><path fill="#03dbe2" d="M1664 1395l-27 2-33-3-77-17-67-24-63-33-47-36-34-39-15-23-11-23-14-50-3-34 0-36 6-57 17-50 13-23 18-27 21-23 26-25 30-24 26-17 30-15 34-14 36-11 34-6 36-5 37-1 40 3 40 6 37 8 40 13 30 12 33 18 30 20 27 22 23 23 21 26 18 27 16 33 9 27 7 30 3 30 0 36-4 34-8 30-10 26-15 27-16 23-21 24-27 23-30 22-63 33-37 14-40 12-76 12z"/><path fill="#07e0e5" d="M1660 1382l-23 1-33-3-74-16-66-24-60-32-44-34-34-39-24-43-7-23-6-27-2-70 7-53 9-27 10-23 32-47 22-24 25-23 25-18 30-18 60-25 33-10 37-7 33-3 34 0 76 10 70 20 34 15 30 16 26 18 27 23 23 24 20 25 17 27 13 27 9 26 6 30 2 30-1 34-4 30-7 26-10 27-13 23-17 24-21 23-24 21-30 21-30 18-33 15-70 23-37 7-40 5z"/><path fill="#0ae4e9" d="M1674 1369l-50 1-66-11-65-20-58-27-46-30-39-36-26-38-17-43-8-53 3-67 12-47 23-46 17-23 21-24 45-38 54-30 60-21 33-7 37-4 33-1 30 3 40 6 38 9 39 13 32 14 55 33 26 21 23 24 20 25 17 27 12 26 9 27 5 30 2 30-2 33-5 30-8 25-11 25-14 24-19 23-22 23-26 20-31 20-30 16-33 13-35 11-39 9-36 5z"/><path fill="#0ee9ec" d="M1674 1356l-50-1-60-11-64-20-56-26-44-28-34-31-26-37-16-39-8-51 2-63 11-47 21-45 31-42 41-36 48-30 54-20 63-12 33-2 30 1 70 13 37 11 37 15 59 34 26 20 21 20 20 24 18 26 13 26 10 27 5 27 3 26-1 34-5 30-8 26-10 24-14 23-18 23-23 24-25 20-25 16-32 17-34 13-34 10-66 11z"/><path fill="#12edef" d="M1687 1339l-47 1-50-8-60-18-59-25-44-27-33-27-26-30-18-34-10-42-3-60 7-47 15-43 25-44 32-36 35-27 46-23 31-10 30-7 32-4 34-1 63 9 63 19 61 30 30 20 25 20 23 24 18 22 15 24 12 25 8 25 4 27 1 30-2 30-6 27-8 23-12 23-16 24-20 23-22 20-24 17-27 15-30 14-30 9-63 12z"/><path fill="#16f2f3" d="M1697 1322l-43 2-38-5-48-14-46-20-46-26-39-31-30-33-21-33-13-40-8-53 1-40 9-40 19-40 25-34 31-27 37-21 27-11 28-7 62-8 57 4 63 17 56 27 51 36 40 44 28 46 10 24 7 26 3 27 1 30-3 23-7 27-9 23-12 20-15 20-19 20-21 17-26 17-28 13-26 9-57 11z"/><path fill="#09e4f1" d="M1694 1305l-40 0-37-7-43-15-42-21-35-24-33-29-27-34-20-33-15-40-8-43-1-37 5-37 12-30 20-30 25-23 32-20 50-17 30-6 30-2 53 3 57 15 50 24 44 33 38 40 29 47 10 23 8 27 5 50-2 23-5 23-8 24-10 20-29 36-20 17-20 13-47 20-28 7-28 3z"/><path fill="#04dbef" d="M1707 1299l-40 1-37-5-40-12-40-18-36-23-36-30-27-30-21-33-17-37-11-43-3-37 3-37 10-33 16-27 25-26 30-20 22-10 25-9 54-8 53 1 54 12 53 24 43 29 38 37 30 44 20 46 8 50-3 47-6 23-8 20-12 20-14 18-16 16-21 16-23 13-23 10-50 11z"/><path fill="#00d2ec" d="M1697 1295l-37 0-37-6-39-14-40-20-34-23-30-27-26-30-21-33-15-37-11-40-3-36 4-37 11-33 16-27 24-23 28-19 47-17 53-7 53 2 54 14 50 22 43 31 37 37 28 43 19 47 7 50-1 23-4 24-6 20-10 22-13 20-16 18-18 15-20 14-43 18-50 9z"/><path fill="#00cae9" d="M1714 1289l-37 2-37-3-36-10-37-16-37-22-31-25-29-30-23-33-17-33-14-40-6-37 1-37 8-33 14-30 20-23 26-20 41-18 50-10 54 0 53 11 50 19 44 28 39 36 30 40 20 44 11 50-1 46-11 40-11 20-14 20-33 30-41 22-46 12z"/><path fill="#00c0e5" d="M1690 1285l-33-1-33-6-37-14-37-19-32-23-28-27-24-30-21-33-15-37-10-36-3-34 3-33 9-30 16-27 19-20 26-17 44-16 50-6 56 5 54 14 44 20 42 30 34 35 26 42 18 47 7 46-5 44-6 20-10 20-13 20-14 15-37 27-43 17-47 7z"/><path fill="#00b7e1" d="M1700 1279l-33 0-33-5-35-12-34-17-29-20-31-26-25-29-21-31-16-34-13-40-5-33 0-30 7-30 14-27 19-23 23-17 39-15 43-6 57 3 53 12 44 17 40 26 35 33 28 40 20 45 9 45-1 44-5 20-8 20-12 19-13 16-33 28-40 18-44 9z"/><path fill="#00aedd" d="M1700 1272l-33 0-30-5-30-10-31-15-30-20-30-27-26-28-21-32-16-33-14-40-6-30 0-30 6-27 12-26 17-20 22-18 37-14 43-6 57 5 54 13 40 16 39 26 30 29 28 39 20 43 9 43-1 44-11 36-22 34-32 26-37 18-44 9z"/><path fill="#00a4d9" d="M1700 1265l-30 0-26-4-29-9-28-14-28-19-31-27-27-30-20-30-17-33-14-36-7-31-2-27 5-26 11-26 17-20 20-15 33-14 40-4 55 5 52 14 41 16 36 24 33 31 26 36 19 39 9 40-1 40-10 37-20 32-30 26-37 17-40 8z"/><path fill="#009bd5" d="M1717 1256l-27 2-30-2-26-7-24-10-27-17-29-23-29-30-21-28-18-29-19-42-10-29-6-29 2-23 7-24 13-20 18-16 29-14 34-5 40 3 49 12 51 20 43 24 33 27 27 32 20 37 10 37 1 37-7 33-16 30-22 23-32 20-34 11z"/><path fill="#0092d1" d="M1704 1249l-27 0-23-4-24-9-23-13-23-18-21-20-43-56-43-78-9-26-5-20 1-20 7-20 11-16 16-14 22-10 24-4 23 1 27 7 15 6 45 28 60 22 26 13 30 23 24 28 15 33 8 33-1 34-9 30-16 26-24 22-30 15-33 7z"/><path fill="#0088cc" d="M1707 1239l-37-2-33-12-33-23-22-27-14-23-32-67-39-47-14-26-4-20 2-17 9-16 14-13 13-7 17-4 16 1 14 3 17 13 29 43 10 9 20 7 57 3 30 7 17 7 16 11 24 25 13 26 7 29-1 30-7 26-14 24-21 20-25 13-29 7z"/><path fill="#007fc7" d="M1537 999l-7 3-6-1-7-2-6-7-3-10 1-7 8-10 13-3 7 3 6 7 2 13-8 14zM1714 1226l-17 1-20-2-17-5-16-8-14-10-13-13-16-30-6-34 2-30-2-3 28-27 28-13 43-8 20 2 20 5 16 8 14 11 12 15 8 17 5 20 1 20-4 20-8 20-13 17-15 12-16 9-20 6z"/><path fill="#0076c3" d="M1720 1209l-26 3-25-7-21-13-15-20-6-17-2-13 3-23 13-24-2-3 17-10 34-11 17-1 17 3 24 12 10 10 9 14 4 13 2 17-2 16-4 14-8 13-12 13-13 9-14 5z"/><path fill="#006dbe" d="M1717 1190l-20 2-20-7-14-13-8-20 2-20 8-17 19-14 16-6 17 2 16 8 12 14 5 14 1 19-7 17-12 13-15 8z"/></g></g></svg>
<svg width="550" height="261" style="position:absolute;left:0;top:0"><line x1="77" y1="15.7" x2="77" y2="202.7" class="gd"/><line x1="65.2" y1="26.4" x2="262.7" y2="26.4" class="gd"/><line x1="94.78" y1="15.7" x2="94.78" y2="202.7" class="gd"/><line x1="65.2" y1="43.29" x2="262.7" y2="43.29" class="gd"/><line x1="112.56" y1="15.7" x2="112.56" y2="202.7" class="gd"/><line x1="65.2" y1="60.18" x2="262.7" y2="60.18" class="gd"/><line x1="130.34" y1="15.7" x2="130.34" y2="202.7" class="gd"/><line x1="65.2" y1="77.07" x2="262.7" y2="77.07" class="gd"/><line x1="148.12" y1="15.7" x2="148.12" y2="202.7" class="gd"/><line x1="65.2" y1="93.96" x2="262.7" y2="93.96" class="gd"/><line x1="183.68" y1="15.7" x2="183.68" y2="202.7" class="gd"/><line x1="65.2" y1="127.74" x2="262.7" y2="127.74" class="gd"/><line x1="201.46" y1="15.7" x2="201.46" y2="202.7" class="gd"/><line x1="65.2" y1="144.63" x2="262.7" y2="144.63" class="gd"/><line x1="219.24" y1="15.7" x2="219.24" y2="202.7" class="gd"/><line x1="65.2" y1="161.52" x2="262.7" y2="161.52" class="gd"/><line x1="237.02" y1="15.7" x2="237.02" y2="202.7" class="gd"/><line x1="65.2" y1="178.41" x2="262.7" y2="178.41" class="gd"/><line x1="254.8" y1="15.7" x2="254.8" y2="202.7" class="gd"/><line x1="65.2" y1="195.3" x2="262.7" y2="195.3" class="gd"/><line x1="165.9" y1="15.7" x2="165.9" y2="202.7" class="gc"/><line x1="65.2" y1="110.85" x2="262.7" y2="110.85" class="gc"/><rect x="65.2" y="15.7" width="197.5" height="187" fill="none" stroke="#3a3a4a" stroke-width="0.9"/><rect x="23" y="16" width="14.5" height="200.5" fill="url(#cbg)"/><line x1="15.6" y1="16" x2="23" y2="16" stroke="#606060" stroke-width="0.9"/><line x1="23" y1="28.53" x2="37.5" y2="28.53" stroke="#202020" stroke-opacity="0.5" stroke-width="1"/><line x1="15.6" y1="28.53" x2="23" y2="28.53" stroke="#606060" stroke-width="0.9"/><line x1="23" y1="41.06" x2="37.5" y2="41.06" stroke="#202020" stroke-opacity="0.5" stroke-width="1"/><line x1="15.6" y1="41.06" x2="23" y2="41.06" stroke="#606060" stroke-width="0.9"/><line x1="23" y1="53.59" x2="37.5" y2="53.59" stroke="#202020" stroke-opacity="0.5" stroke-width="1"/><line x1="15.6" y1="53.59" x2="23" y2="53.59" stroke="#606060" stroke-width="0.9"/><line x1="23" y1="66.12" x2="37.5" y2="66.12" stroke="#202020" stroke-opacity="0.5" stroke-width="1"/><line x1="15.6" y1="66.12" x2="23" y2="66.12" stroke="#606060" stroke-width="0.9"/><line x1="23" y1="78.66" x2="37.5" y2="78.66" stroke="#202020" stroke-opacity="0.5" stroke-width="1"/><line x1="15.6" y1="78.66" x2="23" y2="78.66" stroke="#606060" stroke-width="0.9"/><line x1="23" y1="91.19" x2="37.5" y2="91.19" stroke="#202020" stroke-opacity="0.5" stroke-width="1"/><line x1="15.6" y1="91.19" x2="23" y2="91.19" stroke="#606060" stroke-width="0.9"/><line x1="23" y1="103.72" x2="37.5" y2="103.72" stroke="#202020" stroke-opacity="0.5" stroke-width="1"/><line x1="15.6" y1="103.72" x2="23" y2="103.72" stroke="#606060" stroke-width="0.9"/><line x1="23" y1="116.25" x2="37.5" y2="116.25" stroke="#202020" stroke-opacity="0.5" stroke-width="1"/><line x1="15.6" y1="116.25" x2="23" y2="116.25" stroke="#606060" stroke-width="0.9"/><line x1="23" y1="128.78" x2="37.5" y2="128.78" stroke="#202020" stroke-opacity="0.5" stroke-width="1"/><line x1="15.6" y1="128.78" x2="23" y2="128.78" stroke="#606060" stroke-width="0.9"/><line x1="23" y1="141.31" x2="37.5" y2="141.31" stroke="#202020" stroke-opacity="0.5" stroke-width="1"/><line x1="15.6" y1="141.31" x2="23" y2="141.31" stroke="#606060" stroke-width="0.9"/><line x1="23" y1="153.84" x2="37.5" y2="153.84" stroke="#202020" stroke-opacity="0.5" stroke-width="1"/><line x1="15.6" y1="153.84" x2="23" y2="153.84" stroke="#606060" stroke-width="0.9"/><line x1="23" y1="166.38" x2="37.5" y2="166.38" stroke="#202020" stroke-opacity="0.5" stroke-width="1"/><line x1="15.6" y1="166.38" x2="23" y2="166.38" stroke="#606060" stroke-width="0.9"/><line x1="23" y1="178.91" x2="37.5" y2="178.91" stroke="#202020" stroke-opacity="0.5" stroke-width="1"/><line x1="15.6" y1="178.91" x2="23" y2="178.91" stroke="#606060" stroke-width="0.9"/><line x1="23" y1="191.44" x2="37.5" y2="191.44" stroke="#202020" stroke-opacity="0.5" stroke-width="1"/><line x1="15.6" y1="191.44" x2="23" y2="191.44" stroke="#606060" stroke-width="0.9"/><line x1="23" y1="203.97" x2="37.5" y2="203.97" stroke="#202020" stroke-opacity="0.5" stroke-width="1"/><line x1="15.6" y1="203.97" x2="23" y2="203.97" stroke="#606060" stroke-width="0.9"/><line x1="15.6" y1="216.5" x2="23" y2="216.5" stroke="#606060" stroke-width="0.9"/><rect x="23" y="16" width="14.5" height="200.5" fill="none" stroke="#505050" stroke-width="0.9"/></svg>
<div class="t" style="left:77px;top:9px;font-size:6px;transform:translate(-50%,-50%)">100</div><div class="t" style="left:77px;top:209.9px;font-size:6px;transform:translate(-50%,-50%)">100</div><div class="t" style="left:64px;top:26.4px;font-size:6px;transform:translate(-100%,-50%)">100</div><div class="t" style="left:263.7px;top:26.4px;font-size:6px;transform:translate(0,-50%)">100</div><div class="t" style="left:94.78px;top:9px;font-size:6px;transform:translate(-50%,-50%)">90</div><div class="t" style="left:94.78px;top:209.9px;font-size:6px;transform:translate(-50%,-50%)">90</div><div class="t" style="left:64px;top:43.29px;font-size:6px;transform:translate(-100%,-50%)">90</div><div class="t" style="left:263.7px;top:43.29px;font-size:6px;transform:translate(0,-50%)">90</div><div class="t" style="left:112.56px;top:9px;font-size:6px;transform:translate(-50%,-50%)">80</div><div class="t" style="left:112.56px;top:209.9px;font-size:6px;transform:translate(-50%,-50%)">80</div><div class="t" style="left:64px;top:60.18px;font-size:6px;transform:translate(-100%,-50%)">80</div><div class="t" style="left:263.7px;top:60.18px;font-size:6px;transform:translate(0,-50%)">80</div><div class="t" style="left:130.34px;top:9px;font-size:6px;transform:translate(-50%,-50%)">70</div><div class="t" style="left:130.34px;top:209.9px;font-size:6px;transform:translate(-50%,-50%)">70</div><div class="t" style="left:64px;top:77.07px;font-size:6px;transform:translate(-100%,-50%)">70</div><div class="t" style="left:263.7px;top:77.07px;font-size:6px;transform:translate(0,-50%)">70</div><div class="t" style="left:148.12px;top:9px;font-size:6px;transform:translate(-50%,-50%)">60</div><div class="t" style="left:148.12px;top:209.9px;font-size:6px;transform:translate(-50%,-50%)">60</div><div class="t" style="left:64px;top:93.96px;font-size:6px;transform:translate(-100%,-50%)">60</div><div class="t" style="left:263.7px;top:93.96px;font-size:6px;transform:translate(0,-50%)">60</div><div class="t" style="left:165.9px;top:9px;font-size:6px;transform:translate(-50%,-50%)">50</div><div class="t" style="left:165.9px;top:209.9px;font-size:6px;transform:translate(-50%,-50%)">50</div><div class="t" style="left:64px;top:110.85px;font-size:6px;transform:translate(-100%,-50%)">50</div><div class="t" style="left:263.7px;top:110.85px;font-size:6px;transform:translate(0,-50%)">50</div><div class="t" style="left:183.68px;top:9px;font-size:6px;transform:translate(-50%,-50%)">40</div><div class="t" style="left:183.68px;top:209.9px;font-size:6px;transform:translate(-50%,-50%)">40</div><div class="t" style="left:64px;top:127.74px;font-size:6px;transform:translate(-100%,-50%)">40</div><div class="t" style="left:263.7px;top:127.74px;font-size:6px;transform:translate(0,-50%)">40</div><div class="t" style="left:201.46px;top:9px;font-size:6px;transform:translate(-50%,-50%)">30</div><div class="t" style="left:201.46px;top:209.9px;font-size:6px;transform:translate(-50%,-50%)">30</div><div class="t" style="left:64px;top:144.63px;font-size:6px;transform:translate(-100%,-50%)">30</div><div class="t" style="left:263.7px;top:144.63px;font-size:6px;transform:translate(0,-50%)">30</div><div class="t" style="left:219.24px;top:9px;font-size:6px;transform:translate(-50%,-50%)">20</div><div class="t" style="left:219.24px;top:209.9px;font-size:6px;transform:translate(-50%,-50%)">20</div><div class="t" style="left:64px;top:161.52px;font-size:6px;transform:translate(-100%,-50%)">20</div><div class="t" style="left:263.7px;top:161.52px;font-size:6px;transform:translate(0,-50%)">20</div><div class="t" style="left:237.02px;top:9px;font-size:6px;transform:translate(-50%,-50%)">10</div><div class="t" style="left:237.02px;top:209.9px;font-size:6px;transform:translate(-50%,-50%)">10</div><div class="t" style="left:64px;top:178.41px;font-size:6px;transform:translate(-100%,-50%)">10</div><div class="t" style="left:263.7px;top:178.41px;font-size:6px;transform:translate(0,-50%)">10</div><div class="t" style="left:254.8px;top:9px;font-size:6px;transform:translate(-50%,-50%)">0</div><div class="t" style="left:254.8px;top:209.9px;font-size:6px;transform:translate(-50%,-50%)">0</div><div class="t" style="left:64px;top:195.3px;font-size:6px;transform:translate(-100%,-50%)">0</div><div class="t" style="left:263.7px;top:195.3px;font-size:6px;transform:translate(0,-50%)">0</div><div class="t" style="left:15.4px;top:16px;font-size:6.4px;transform:translate(-100%,-50%) scaleX(0.86);transform-origin:100% 50%">800</div><div class="t" style="left:15.4px;top:28.53px;font-size:6.4px;transform:translate(-100%,-50%) scaleX(0.86);transform-origin:100% 50%">750</div><div class="t" style="left:15.4px;top:41.06px;font-size:6.4px;transform:translate(-100%,-50%) scaleX(0.86);transform-origin:100% 50%">700</div><div class="t" style="left:15.4px;top:53.59px;font-size:6.4px;transform:translate(-100%,-50%) scaleX(0.86);transform-origin:100% 50%">650</div><div class="t" style="left:15.4px;top:66.12px;font-size:6.4px;transform:translate(-100%,-50%) scaleX(0.86);transform-origin:100% 50%">600</div><div class="t" style="left:15.4px;top:78.66px;font-size:6.4px;transform:translate(-100%,-50%) scaleX(0.86);transform-origin:100% 50%">550</div><div class="t" style="left:15.4px;top:91.19px;font-size:6.4px;transform:translate(-100%,-50%) scaleX(0.86);transform-origin:100% 50%">500</div><div class="t" style="left:15.4px;top:103.72px;font-size:6.4px;transform:translate(-100%,-50%) scaleX(0.86);transform-origin:100% 50%">450</div><div class="t" style="left:15.4px;top:116.25px;font-size:6.4px;transform:translate(-100%,-50%) scaleX(0.86);transform-origin:100% 50%">400</div><div class="t" style="left:15.4px;top:128.78px;font-size:6.4px;transform:translate(-100%,-50%) scaleX(0.86);transform-origin:100% 50%">350</div><div class="t" style="left:15.4px;top:141.31px;font-size:6.4px;transform:translate(-100%,-50%) scaleX(0.86);transform-origin:100% 50%">300</div><div class="t" style="left:15.4px;top:153.84px;font-size:6.4px;transform:translate(-100%,-50%) scaleX(0.86);transform-origin:100% 50%">250</div><div class="t" style="left:15.4px;top:166.38px;font-size:6.4px;transform:translate(-100%,-50%) scaleX(0.86);transform-origin:100% 50%">200</div><div class="t" style="left:15.4px;top:178.91px;font-size:6.4px;transform:translate(-100%,-50%) scaleX(0.86);transform-origin:100% 50%">150</div><div class="t" style="left:15.4px;top:191.44px;font-size:6.4px;transform:translate(-100%,-50%) scaleX(0.86);transform-origin:100% 50%">100</div><div class="t" style="left:15.4px;top:203.97px;font-size:6.4px;transform:translate(-100%,-50%) scaleX(0.86);transform-origin:100% 50%">50</div><div class="t" style="left:15.4px;top:216.5px;font-size:6.4px;transform:translate(-100%,-50%) scaleX(0.86);transform-origin:100% 50%">0</div><div class="t" style="left:20.2px;top:8px;font-size:6.2px;transform:translate(-50%,-50%)">W/m<sup style="font-size:4px;vertical-align:3px">2</sup></div><div class="t" style="left:42.4px;top:111.5px;font-size:6.2px;transform:translate(-50%,-50%) rotate(-90deg)">Y (millimeters)</div><div class="t" style="left:159.6px;top:217.7px;font-size:6.2px;transform:translate(-50%,-50%)">X (millimeters)</div><div class="cap" style="left:139.7px;top:252.8px">(<b>c</b>)</div>
<svg width="550" height="261" viewBox="0 0 5500 2610" style="position:absolute;left:0;top:0"><defs><clipPath id="cpd"><rect x="3472" y="160" width="1882" height="1904"/></clipPath></defs><filter id="bfd" x="-2%" y="-2%" width="104%" height="104%"><feGaussianBlur stdDeviation="5.5"/></filter><g clip-path="url(#cpd)"><g filter="url(#bfd)" fill-rule="evenodd"><rect x="3432" y="120" width="1962" height="1984" fill="#e900e9"/><path fill="#ed00ed" d="M5337 2092l-1855 0 0-30-8-14-30 0 0-1873 30 0 7-13 0-30 1861 0 0 30 12 13 30 0 0 1867-30 0-15 20 0 30-2 0z"/><path fill="#ed00eb" d="M5317 2092l-1821 0 0-30-22-37-30 0 0-1828 30 0 18-35 0-30 1834 0 0 30 14 13 14 17 30 0 0 1824-30 0-17 26-17 20 0 30-3 0z"/><path fill="#ea00e1" d="M5310 2092l-1808 0 0-30-15-21-13-26-30 0 0-1808 30 0 10-23 13-22 0-30 1821 0 0 30 19 16 17 22 30 0 0 1804-30 0-20 33-23 25-1 30z"/><path fill="#e600d8" d="M5304 2092l-1798 0 0-30-17-24-15-30-30 0 0-1794 30 0 12-29 15-23 0-30 1812 0 0 30 23 20 18 24 30 0 0 1789-30 0-22 37-27 30-1 30z"/><path fill="#e200cf" d="M5297 2092l-1787 0 0-30-20-26-16-35-30 0 0-1781 30 0 13-32 17-26 0-30 1805 0 0 30 25 21 20 28 30 0 0 1777-30 0-24 41-31 33 0 30-2 0z"/><path fill="#de00c5" d="M5294 2092l-1780 0 0-30-24-30-16-37-30 0 0-1768 30 0 13-35 21-30 0-30 1796 0 0 30 28 23 22 31 30 0 0 1764-30 0-12 25-15 23-17 19-16 15 0 30z"/><path fill="#da00bc" d="M5284 2092l-1762 0 0-30-15-14-13-19-11-21-9-24-30 0 0-1747 30 0 16-44 10-16 13-15 0-30 1783 0 0 30 18 11 16 15 13 17 11 20 30 0 0 1741-30 0-14 31-15 25-18 21-23 19 0 30z"/><path fill="#d600b2" d="M5270 2092l-1730 0 0-30-26-20-20-21-11-23-9-27-30 0 0-1721 30 0 9-32 11-23 10-14 22-19 0-30 1760 0 0 30 23 13 18 16 15 21 12 23 30 0 0 1716-30 0-14 35-19 32-21 24-27 20 0 30-3 0z"/><path fill="#d100a8" d="M5257 2092l-1697 0 0-30-35-24-28-28-13-20-10-35-30 0 0-1690 30 0 13-47 27-32 30-24 0-30 1731 0 0 30 27 13 25 23 17 25 10 25 30 0 0 1684-30 0-14 43-21 37-28 30-32 20 0 30-2 0z"/><path fill="#cd009f" d="M5240 2092l-1658 0 0-30-40-24-33-30-15-20-14-22-6-30-30 0 0-1653 30 0 6-34 19-31 28-31 36-25 0-30 1697 0 0 30 24 10 34 30 29 40 7 23 30 0 0 1641-30 0-12 49-19 40-16 23-20 19-22 15-23 10-2 30z"/><path fill="#c90095" d="M5210 2092l-1604 0 0-30-29-13-23-14-21-17-20-20-18-26-15-28-6-39-30 0 0-1593 30 0 3-30 3-11 15-29 19-26 19-21 24-18 26-15 0-30 1654 0 0 30 17 3 20 12 23 18 20 21 18 26 15 29 4 29 30 0 0 1552-30 0-4 46-8 37-13 37-17 30-18 20-27 19-27 14-27 7 0 30-3 0z"/><path fill="#c5008c" d="M5167 2092l-1533 0 0-30-37-14-30-16-27-20-22-24-21-31-17-38-3-17-2-50-31-1 0-1482 31-1 2-63 21-50 20-30 26-26 28-21 34-16 0-30 1593 0 1 32 30 1 20 9 34 22 28 29 18 27 17 33 2 13 1 24 4 2 30 0 0 1494-34 0-2 54-6 43-13 43-15 29-31 31-39 25-29 12-45 3-1 34-2 0z"/><path fill="#c10082" d="M5164 2092l-1499 0 0-30-45-14-40-18-30-22-26-27-22-33-16-36-6-24-2-36-4-3-30 0 0-1478 30 0 3-3 1-30 4-20 13-36 18-34 21-27 26-24 34-21 36-14 0-30 1567 0 0 30 3 6 19 0 35 18 30 22 23 25 15 22 12 23 11 27 2 17 4 3 3 9 30 0 0 1483-39 1-2 57-7 47-9 29-20 31-30 29-37 24-36 15-34 2-3 9-3 1 0 30z"/><path fill="#bc0079" d="M5124 2092l-1420 0 0-30-60-14-47-18-40-27-30-31-17-27-15-33-12-40-2-20-3-4-4-22-30 0 0-1436 30 0 9-48 12-40 17-37 21-30 23-23 28-21 33-16 39-13 0-30 1518 0 0 30 43 14 33 18 30 23 24 25 16 26 14 30 11 34 9 37 30 0 0 1447-30 0-13 2-2 60-9 48-17 32-23 29-30 26-36 21-30 12-24 1-3 6-41 9 0 30-2 0z"/><path fill="#b80071" d="M5070 2092l-1313 0 0-30-73-11-36-9-28-10-26-13-22-14-18-15-17-19-23-35-17-41-14-53-9-72-30 0 0-1323 30 0 10-79 10-38 10-29 13-28 13-22 17-20 20-18 26-18 27-13 28-10 39-10 0-30 1456 0 0 30 49 13 39 17 35 23 28 28 20 30 16 36 14 46 10 58 30 0 0 1390-30 0-2 12-14 3-2 54-6 33-23 48-16 22-16 17-37 26-45 20-23 4-3 4-25 6-69 10 0 30-3 0z"/><path fill="#b30069" d="M4940 2092l-1053 0 0-30-93-4-67-7-53-10-44-14-30-14-23-15-20-17-19-23-17-26-12-27-11-33-9-40-11-94-4-130-30 0 0-998 30 0 2-95 6-80 9-63 14-50 13-34 18-30 21-25 23-20 34-19 33-14 40-11 44-7 0-30 1367 0 0 30 62 12 57 20 23 13 20 14 32 34 24 40 19 57 11 60 8 82 30 0 0 1229-30 0-9 92-11 3-1 47-7 30-11 27-15 26-18 24-21 20-24 17-27 14-30 11-36 10-87 12-116 6-1 30z"/><path fill="#af0060" d="M4984 2055l-177 3-750 0-153-1-100-4-90-10-44-9-30-10-26-11-27-16-23-19-18-20-24-40-20-56-13-70-7-87-4-223 1-897 3-83 6-67 7-53 10-40 14-40 16-30 22-29 27-24 40-23 43-16 50-10 67-8 0-30 1262 0 0 30 84 11 64 18 26 12 27 16 22 19 17 20 16 24 11 23 19 60 13 83 6 104 2 196 0 827-4 143-10 97-8 3-2 44-10 33-13 30-27 40-35 32-44 23-53 17-77 12-86 6z"/><path fill="#aa0058" d="M4977 2052l-167 3-760 0-146-1-97-4-90-10-47-10-30-10-23-10-27-16-20-16-21-23-24-40-20-53-13-70-7-84-4-210 1-896 7-144 6-56 10-47 14-43 17-34 19-26 25-25 20-14 24-12 26-11 34-10 80-13 78-5 0-30 1145 0 0 30 103 8 40 6 40 11 34 12 26 14 27 20 24 25 14 20 14 27 10 27 10 36 13 87 6 107 2 193-1 830-4 133-10 97-7 3 0 34-3 10-13 40-13 26-26 37-36 31-47 24-60 17-70 10-83 5z"/><path fill="#a5004f" d="M4890 2052l-880 0-136-1-84-5-83-10-40-10-30-10-27-13-26-17-20-18-19-23-16-27-10-23-17-57-10-66-6-90-3-260 2-857 4-80 6-60 7-47 10-40 16-40 18-30 21-25 23-20 27-16 23-11 30-10 40-9 84-10 121-5 0-30 999 0 0 30 83 2 80 6 60 10 47 14 30 13 26 16 24 20 21 25 14 24 12 26 18 60 10 74 7 116 2 247-2 803-7 147-6 50-7 3-1 37-20 57-13 23-14 20-18 19-16 14-44 25-53 18-70 12-87 6-100 3z"/><path fill="#a10047" d="M4964 2048l-177 3-743 0-140-2-97-3-90-10-40-9-33-11-30-13-24-15-23-20-17-20-25-43-17-50-12-70-7-87-4-226 2-887 2-77 6-70 7-50 11-43 13-37 16-30 22-28 26-24 44-25 53-17 60-11 87-7 220-4 880 2 130 7 60 9 40 9 36 14 30 16 27 21 23 25 25 43 10 27 10 37 12 80 6 93 3 197-1 830-4 143-10 100-8 3-2 44-13 36-12 27-29 39-17 16-20 15-43 21-60 17-70 10-93 5z"/><path fill="#9d003f" d="M4897 2048l-890 1-130-2-87-4-83-11-37-9-30-10-26-13-27-17-20-18-19-23-13-20-12-27-17-57-10-66-6-87-3-247 2-870 8-130 8-53 10-43 14-37 17-30 22-27 26-22 20-13 26-13 54-16 63-10 87-7 240-3 693 0 170 2 130 8 53 9 40 10 34 14 30 17 26 22 22 26 14 23 12 27 17 56 11 74 6 103 2 203 0 810-5 150-10 97-9 3-2 47-13 37-14 26-13 20-18 20-20 17-23 15-27 13-26 9-67 14-80 8-120 4z"/><path fill="#9a0038" d="M4980 2045l-183 3-737 0-156-1-97-4-90-10-37-8-33-11-27-12-26-16-22-18-17-20-26-43-18-53-12-67-7-87-4-223 1-887 8-140 6-50 11-46 13-37 17-33 20-27 26-25 44-25 53-18 67-12 83-6 223-4 864 1 140 8 50 7 43 10 37 13 33 17 27 20 21 24 16 23 12 24 19 60 12 76 7 104 2 200 0 820-5 143-10 97 0 3-9 3-3 47-10 30-12 26-27 38-17 16-20 15-43 23-57 16-66 10-84 6z"/><path fill="#9a002f" d="M4964 2045l-180 2-740 0-147-1-93-4-90-11-37-8-30-10-30-13-23-15-20-17-20-22-26-44-17-54-12-66-7-87-3-223 1-884 7-140 8-53 10-43 12-37 18-33 20-27 25-24 44-25 53-18 67-12 83-7 223-3 867 1 137 7 50 7 43 10 37 13 33 18 27 20 23 26 15 24 11 23 19 60 12 77 6 100 2 203 0 820-4 143-11 97-9 3-2 47-12 33-13 27-27 37-37 30-43 21-57 16-70 10-93 6z"/><path fill="#9b0027" d="M4944 2045l-917 2-137-2-90-4-86-10-37-9-32-10-28-13-23-15-23-19-17-20-25-43-18-54-11-66-7-87-4-230 2-887 8-136 7-50 10-44 14-36 18-34 21-26 25-22 43-25 53-17 67-12 87-7 230-3 860 2 133 7 50 8 43 10 37 14 30 16 27 21 23 26 14 22 13 26 18 60 11 74 7 103 2 203-1 817-4 147-10 93-10 3-2 47-11 32-14 28-13 20-18 20-19 17-20 13-35 17-15 2-3 4-53 13-74 9-96 5z"/><path fill="#9c001d" d="M4917 2045l-897 1-133-1-87-5-86-10-37-8-33-12-27-12-25-16-22-19-18-21-24-44-17-53-12-70-6-87-3-236 1-877 4-77 5-60 7-50 11-43 14-37 18-32 20-25 27-23 43-24 54-17 66-11 87-6 240-3 857 2 126 7 50 8 44 11 36 14 30 17 27 22 21 24 14 23 11 23 11 30 8 34 11 73 6 103 2 204 0 813-5 143-10 97-10 3-3 50-11 30-15 30-14 20-16 18-18 16-22 14-33 16-14 1-3 4-60 15-80 9-110 4z"/><path fill="#9d0014" d="M4864 2045l-860 0-124-1-86-5-90-12-34-8-30-11-26-13-25-17-22-20-16-20-23-43-17-53-10-60-7-90-4-234 2-890 4-73 5-60 7-47 11-43 15-38 18-32 22-26 26-22 44-23 56-17 67-11 87-6 250-3 843 2 123 8 54 9 40 10 36 14 30 17 27 22 22 26 14 23 12 27 17 60 11 77 6 103 2 207-1 810-4 136-11 97-10 3-3 50-12 34-16 30-15 20-19 19-20 16-23 13-23 11-14 1-3 4-13 4-70 14-94 8-126 3z"/><path fill="#9f000b" d="M4980 2042l-176 3-740 0-154-1-100-4-90-10-40-9-30-10-26-12-27-16-22-18-18-20-25-43-17-50-13-67-7-87-4-220 1-886 7-137 7-50 11-50 12-37 18-34 22-29 25-22 43-25 50-17 60-11 87-8 223-4 867 2 136 7 50 7 44 10 36 12 34 18 26 20 23 24 15 24 12 23 19 60 12 80 7 100 2 197-1 820-4 140-10 96-1 7-10 3-2 50-19 47-28 40-35 30-43 23-17 2-3 6-33 9-70 11-84 6z"/><path fill="#a60000" d="M4960 2042l-176 2-737 0-140-1-97-4-90-10-40-9-30-10-30-13-23-15-21-17-19-22-24-41-18-54-13-66-7-87-3-220 1-880 3-80 5-67 8-53 9-40 12-37 18-33 19-27 27-24 43-25 53-18 64-12 83-6 217-4 870 1 133 7 50 7 47 11 36 12 34 18 26 20 24 26 13 21 13 26 18 57 13 80 6 97 2 196 0 824-4 140-11 100-1 3-10 3-2 50-10 27-13 27-28 37-36 30-37 18-17 2-3 6-43 11-70 10-94 6z"/><path fill="#ad0000" d="M4947 2038l-177 2-730 0-136-1-94-4-90-11-39-9-30-10-28-13-23-15-22-19-18-20-13-20-13-26-17-54-11-63-7-87-3-223 1-870 7-137 7-50 10-46 13-38 16-33 22-29 26-24 19-13 27-13 49-17 67-12 84-7 220-3 856 1 137 8 48 6 44 10 38 14 31 16 29 22 23 26 15 22 12 26 19 61 11 77 6 100 2 203 0 807-5 143-11 97 0 3-12 3-3 54-20 46-14 20-16 19-37 29-27 14-20 1-3 8-53 14-70 10-97 5z"/><path fill="#b40000" d="M4934 2035l-177 2-710 0-140-2-90-4-87-10-41-9-30-10-29-14-26-16-20-17-20-23-25-44-18-56-11-64-7-86-4-227 2-857 3-80 4-60 9-56 10-42 13-36 17-31 21-28 26-23 20-14 26-13 52-17 68-12 84-6 226-4 840 2 134 8 53 8 43 10 37 14 30 17 27 21 22 26 14 22 14 27 18 61 12 77 6 106 2 207-1 790-4 140-6 56-7 44 0 3-12 3-3 50-22 48-13 20-18 19-19 17-20 13-17 8-20 2-3 8-7 3-63 15-70 9-93 5z"/><path fill="#bb0000" d="M4914 2032l-867 1-133-1-94-5-92-12-38-9-30-11-27-13-26-17-20-18-19-22-24-44-19-56-11-64-8-89-3-234 1-836 3-77 6-63 7-49 11-45 15-40 18-32 22-28 26-23 45-25 55-18 65-12 87-7 230-4 820 2 133 9 53 8 42 10 38 15 33 19 27 22 22 24 15 25 12 25 19 60 12 80 6 104 3 206-1 774-5 143-6 57-7 42-2 11-10 3-2 40-12 30-14 25-13 19-18 20-20 16-21 14-14 7-14 0-3 7-17 6-63 16-77 9-96 5z"/><path fill="#c30000" d="M4887 2028l-840 2-133-2-90-5-90-13-37-10-33-12-26-13-25-17-22-20-19-23-25-45-19-58-11-67-7-90-4-247 0-633 2-173 4-74 5-60 9-53 11-43 14-37 19-34 24-28 28-25 45-24 57-19 66-11 87-7 237-4 626 0 170 2 74 3 63 7 47 7 43 12 37 14 33 19 27 22 23 27 14 22 13 26 10 28 10 36 12 84 7 106 2 210-1 750-6 144-5 53-8 47-3 13-8 3-1 27-6 17-23 46-17 22-17 18-21 17-22 13-53 22-64 15-80 9-103 4z"/><path fill="#c80000" d="M4870 2025l-813 1-133-2-90-5-90-13-37-10-33-12-30-16-25-16-22-21-20-24-26-49-18-56-13-72-7-88-4-254 1-606 2-174 4-76 6-60 9-50 13-46 16-40 19-31 22-27 29-24 47-26 53-17 66-13 91-8 237-4 603 0 170 3 70 3 66 6 54 10 40 10 41 17 34 20 28 24 24 29 13 21 13 28 20 67 14 91 5 100 3 210-1 723-7 147-6 53-8 44-5 23-5 3 0 14-7 20-13 27-13 23-17 22-17 18-21 16-25 16-53 22-67 15-80 9-107 5z"/><path fill="#d20000" d="M4670 2025l-666-1-117-4-83-7-47-8-40-10-33-12-30-14-27-17-23-20-20-24-17-26-20-45-17-63-10-69-6-100-3-180 0-593 1-160 4-97 4-63 7-54 10-46 17-51 16-34 24-33 26-26 34-23 43-20 60-17 65-10 92-6 173-3 560-1 177 1 106 3 70 6 55 7 46 10 43 14 36 18 30 21 27 27 24 33 13 26 13 35 17 71 10 90 5 135 1 697-3 220-3 66-7 66-10 56-13 47-14 32-13 24-17 23-20 21-22 18-27 17-28 13-29 10-70 15-87 10-107 4-180 1z"/><path fill="#db0000" d="M4884 2022l-180 2-630 0-132-2-102-6-90-14-37-10-34-14-32-16-23-17-21-20-20-23-26-48-20-60-13-76-7-79-3-94-1-153 0-587 2-177 4-76 6-64 9-51 13-49 17-41 20-34 26-31 29-24 42-23 59-20 71-13 86-8 237-4 580 0 170 2 63 3 71 7 58 10 47 13 40 17 33 20 28 24 23 28 17 27 13 29 20 69 13 89 6 100 2 210-1 697-7 149-13 94-17 59-13 31-13 23-17 23-17 18-23 20-20 13-51 23-63 17-73 10-106 7z"/><path fill="#e60100" d="M4844 2022l-770 1-127-2-96-6-90-13-38-10-37-14-32-16-24-17-25-23-21-26-27-50-20-64-12-70-7-87-3-100-1-143 0-594 3-163 4-73 6-61 10-56 13-47 17-39 23-38 27-29 29-24 44-23 62-20 78-13 86-7 111-3 170-1 537 0 163 3 67 4 60 7 53 10 45 13 39 17 33 21 29 26 24 30 27 50 20 66 13 86 7 114 2 210-1 680-6 147-7 57-9 50-19 62-14 28-14 23-16 21-20 20-19 16-27 16-57 24-75 16-88 10-100 4z"/><path fill="#e80200" d="M4834 2018l-184 2-560 0-130-3-100-7-87-15-45-13-32-14-31-16-28-21-27-26-20-26-26-50-20-61-14-70-9-100-3-110-2-176 1-484 3-183 5-77 8-66 11-52 13-44 20-45 23-36 27-30 33-26 51-27 62-20 74-14 83-7 100-4 157-1 507 0 170 3 80 5 60 8 51 10 45 13 40 17 38 23 32 29 27 33 17 27 13 29 13 39 9 33 13 87 8 113 3 220-2 613-7 157-7 54-10 52-20 64-13 28-17 28-19 24-19 20-22 17-25 16-27 14-35 13-67 17-73 10-116 6z"/><path fill="#ea0400" d="M4797 2015l-183 3-494-1-136-4-100-9-54-8-44-11-41-13-37-17-33-20-30-23-26-27-22-30-28-53-22-68-15-79-9-97-4-126-1-164 0-426 5-167 6-80 9-67 12-54 17-51 20-42 27-40 33-35 36-28 52-26 65-22 80-15 87-8 113-5 157-1 443 0 160 5 80 6 67 9 57 13 46 16 44 22 38 26 32 30 27 37 18 30 15 34 12 36 10 43 15 100 7 124 2 266-1 480-4 84-6 70-8 56-12 54-11 36-13 34-15 28-16 26-20 25-21 21-25 20-26 16-59 27-73 20-92 13-111 7z"/><path fill="#ed0500" d="M4750 2012l-193 2-433-1-127-5-110-13-49-10-47-13-43-17-38-20-30-20-31-27-25-28-24-34-30-60-23-76-13-74-10-107-5-157 0-434 1-118 6-122 8-71 13-74 13-48 20-51 24-43 30-40 33-33 42-30 58-29 66-21 81-15 93-9 160-5 373-1 177 2 117 5 76 8 67 11 57 16 50 19 46 26 39 30 34 37 27 39 17 31 13 32 14 40 10 40 10 56 6 57 7 115 2 416-2 267-10 143-10 65-13 56-14 40-13 32-17 31-20 30-22 26-24 24-26 20-31 19-35 17-35 14-78 20-96 13-113 7z"/><path fill="#ef0600" d="M4680 2008l-310 2-226-2-130-7-56-6-59-10-54-13-49-17-44-20-38-23-35-27-32-31-27-34-23-38-30-69-20-72-13-77-10-114-4-125 0-450 4-101 6-86 10-72 14-61 20-62 23-51 30-47 33-39 40-34 47-30 60-27 73-22 80-14 97-10 167-5 340 0 146 2 114 8 76 10 68 14 62 20 50 24 47 29 39 34 34 39 30 47 17 34 17 44 13 46 10 47 13 103 7 126 0 484-3 138-7 80-10 69-13 59-14 44-16 41-17 33-20 31-22 28-25 27-27 23-29 21-35 19-38 17-37 13-83 20-102 14-129 6z"/><path fill="#f10700" d="M4667 2002l-300 2-213-2-134-11-56-8-50-10-54-16-50-19-46-23-40-26-37-31-31-33-29-38-25-42-29-67-23-81-13-77-10-107-4-155 0-346 4-102 10-107 13-77 17-63 23-61 27-51 33-48 39-41 45-36 50-30 66-28 74-21 83-15 97-9 153-5 317 0 133 4 103 9 77 12 67 17 60 22 53 27 47 33 44 40 36 44 31 52 19 40 16 46 14 48 10 49 13 105 7 135 0 357-4 157-6 76-10 71-14 62-20 63-16 40-18 35-22 34-24 30-26 28-28 24-32 24-34 20-34 16-39 16-87 24-103 16-120 8z"/><path fill="#ed1200" d="M4594 1998l-304 1-160-5-60-5-70-9-50-10-50-13-50-17-50-23-46-28-40-30-36-34-32-40-24-37-26-50-27-73-20-83-13-97-7-93-2-170 1-274 7-123 11-87 16-76 19-64 25-56 33-57 39-50 46-42 46-33 57-30 70-27 77-19 86-13 94-7 156-4 300 1 120 7 97 12 80 17 60 19 60 27 50 31 47 37 41 44 33 47 30 56 20 50 15 47 13 57 9 60 11 120 4 176-2 270-3 84-6 76-7 57-13 67-17 60-20 53-20 40-20 33-24 34-27 30-31 29-30 23-36 23-37 19-40 17-40 14-50 13-50 10-110 13-123 5z"/><path fill="#e81b00" d="M4644 1995l-104 3-190 0-186-4-130-11-57-10-57-13-53-18-50-21-43-24-44-30-36-32-36-40-30-43-23-44-29-70-20-73-14-80-9-103-5-150 1-294 5-123 11-100 15-73 19-67 26-63 30-54 37-50 42-42 46-35 57-33 67-27 76-21 87-15 100-9 140-5 290 1 127 5 100 11 76 15 67 19 60 25 57 32 47 36 43 43 37 50 30 54 18 40 16 46 13 50 10 54 14 116 6 150 0 284-7 163-8 77-11 63-14 57-19 56-18 40-19 37-22 33-23 30-27 28-30 27-33 25-37 22-40 20-36 14-40 13-50 13-100 16-120 9z"/><path fill="#df2500" d="M4594 1995l-294 1-156-5-67-5-63-9-54-10-53-14-53-19-50-24-44-26-40-30-36-36-33-40-28-43-24-47-26-70-19-73-13-87-8-103-4-153 2-277 6-120 13-103 16-74 22-70 27-60 33-53 38-47 44-41 54-37 56-29 70-26 77-19 87-13 100-7 153-4 273 2 120 6 100 13 74 16 66 22 60 27 54 33 46 38 43 46 36 53 29 57 18 47 16 53 13 60 10 63 10 140 2 190-2 224-4 76-6 70-10 67-13 60-14 50-19 50-20 40-20 33-24 34-28 32-29 28-31 24-37 24-36 20-40 17-40 14-94 23-103 14-133 7z"/><path fill="#d62e00" d="M4624 1992l-290 2-170-4-74-6-60-8-56-10-54-14-53-18-50-23-47-27-40-30-38-36-34-40-29-43-25-47-26-66-20-77-15-90-8-97-4-146 1-274 6-123 13-100 15-73 22-70 26-60 33-56 38-48 45-43 50-36 57-31 70-27 77-20 86-14 100-9 144-3 270 1 122 6 101 12 73 16 67 21 60 26 57 34 50 40 42 44 35 50 31 57 18 43 15 47 13 53 10 53 12 117 5 153-1 274-8 153-8 67-13 66-14 54-19 53-16 37-23 40-23 34-26 32-30 30-30 26-34 24-33 19-40 19-37 15-46 15-47 11-103 16-120 9z"/><path fill="#cd3700" d="M4540 1992l-270-1-146-6-70-8-60-10-57-14-50-16-50-21-47-25-43-30-40-35-35-38-31-43-27-47-22-50-23-70-17-80-11-90-6-103-2-240 2-163 9-117 15-100 19-73 24-64 31-60 37-53 42-47 48-39 57-35 60-28 73-23 80-17 87-11 107-6 240-2 156 2 120 9 97 15 73 20 64 23 60 31 53 38 47 43 38 47 33 53 29 64 18 53 14 57 12 66 8 70 7 154 0 280-6 143-15 113-10 50-14 50-15 44-18 40-19 36-24 37-26 33-29 31-33 29-34 24-36 21-40 20-44 17-43 13-97 21-110 12-140 6z"/><path fill="#c43e00" d="M4594 1988l-280 2-157-5-70-7-63-9-57-12-53-15-57-22-47-23-46-30-40-32-37-37-31-40-30-46-24-50-25-70-19-77-13-87-8-103-3-153 2-247 8-117 14-100 17-73 23-67 31-63 34-53 41-48 46-41 54-36 60-30 70-26 80-19 86-13 100-7 154-3 243 2 118 7 99 14 73 18 67 23 60 29 53 34 50 42 41 47 36 53 30 60 20 52 15 55 13 60 9 67 10 143 1 230-3 170-12 127-9 56-12 54-16 50-18 46-20 40-20 34-23 33-29 33-30 29-33 27-33 23-37 20-37 17-43 16-43 13-50 12-104 15-126 8z"/><path fill="#bb4500" d="M4624 1985l-104 3-166 0-177-4-67-6-66-9-57-11-57-15-56-20-50-24-46-27-41-32-40-38-33-40-29-44-26-50-27-70-20-76-14-87-8-97-4-146 2-250 7-120 13-100 18-77 22-67 28-60 34-54 40-49 47-43 52-37 58-31 70-26 77-20 86-14 97-9 143-3 250 1 120 7 100 13 74 17 70 23 60 28 53 34 49 40 44 47 37 53 30 57 18 43 16 50 13 52 10 55 12 116 4 147 0 247-3 73-6 80-9 67-12 58-16 58-18 50-18 40-20 37-22 33-27 34-29 30-30 26-33 25-37 22-36 19-40 16-44 15-46 12-100 18-120 10z"/><path fill="#b34c00" d="M4557 1985l-267 0-150-6-66-8-60-10-57-14-53-17-54-22-50-27-43-30-40-35-35-38-32-43-28-50-23-50-24-73-17-77-11-87-7-103-2-220 3-160 8-113 16-100 19-74 26-66 31-60 37-54 42-46 50-42 57-36 60-28 70-23 80-18 87-12 103-7 217-2 163 3 113 8 100 16 74 19 66 25 60 31 54 37 46 42 42 50 35 56 30 64 19 53 14 57 13 67 7 64 8 146 0 260-5 140-6 60-10 62-23 96-15 42-19 43-20 37-23 37-25 33-28 30-30 27-34 26-36 23-39 20-41 18-44 15-46 13-50 11-106 13-131 7z"/><path fill="#aa5200" d="M4590 1982l-270 2-156-6-70-7-64-10-56-13-54-16-53-21-50-25-47-31-40-33-36-37-34-43-29-47-25-53-25-70-19-80-12-87-7-100-3-160 2-217 8-113 15-100 19-73 24-67 30-60 38-57 41-47 50-43 53-35 60-29 71-26 79-19 87-12 100-8 157-3 220 3 116 8 98 15 76 19 66 24 60 30 54 36 46 41 44 50 36 55 30 61 20 54 16 56 12 60 9 67 9 140 1 227-4 153-13 123-10 55-12 52-15 47-18 43-20 40-21 36-24 34-26 30-30 30-30 25-34 23-40 23-40 19-40 16-46 14-47 12-103 16-124 9z"/><path fill="#a15a00" d="M4614 1978l-100 3-164 1-170-5-70-7-63-9-60-13-53-15-57-21-50-25-47-30-40-32-37-37-36-43-29-47-25-50-27-70-20-80-13-86-8-97-3-147 2-226 7-114 14-100 18-73 23-67 29-60 36-56 42-50 47-43 54-37 60-31 70-26 76-20 87-14 100-9 147-3 230 2 113 7 100 15 76 19 66 23 61 30 54 34 50 43 42 46 36 54 32 60 18 46 15 49 13 55 9 53 12 123 4 160-1 214-4 73-6 69-10 68-13 56-15 54-19 50-19 40-21 36-23 35-27 32-29 30-31 27-32 23-35 21-36 19-40 17-44 15-46 13-103 18-117 10z"/><path fill="#986200" d="M4520 1978l-243 0-77-3-70-6-66-9-60-12-57-15-53-20-54-25-46-28-44-33-40-38-34-41-31-46-26-50-22-55-21-72-16-83-10-90-5-114-1-216 4-127 12-113 18-94 22-72 27-62 34-59 41-53 48-47 53-40 60-33 64-27 73-21 84-16 93-10 110-5 217 0 126 4 110 11 97 18 71 22 66 29 59 35 51 39 46 47 40 54 33 60 26 63 18 57 13 56 10 64 6 66 6 150-1 257-8 120-17 107-12 50-14 43-16 43-20 40-21 37-25 37-28 32-30 31-32 27-34 24-38 22-39 19-43 18-43 13-97 22-110 13-134 5z"/><path fill="#916800" d="M4540 1975l-243 0-143-7-70-8-62-12-58-15-54-18-53-23-47-27-46-33-41-37-36-41-33-48-27-48-23-55-24-75-16-82-11-88-5-113-1-213 3-125 10-107 20-105 24-76 26-61 34-57 40-53 46-46 53-40 58-34 62-26 77-24 80-16 90-10 104-5 213-1 130 3 113 11 96 18 74 23 65 27 58 34 53 40 44 44 41 52 35 60 28 64 16 52 14 54 11 64 8 70 6 143 0 243-8 127-14 103-10 47-15 50-15 43-20 44-20 37-24 36-26 34-30 32-31 27-35 27-37 23-39 20-39 17-48 17-49 13-48 10-104 14-127 6z"/><path fill="#907000" d="M4584 1972l-250 2-157-6-70-7-67-11-61-15-52-17-55-23-50-27-44-30-41-35-37-38-33-44-30-50-23-50-24-66-20-83-13-95-7-98-2-201 3-146 9-116 17-97 20-72 27-68 33-62 37-51 44-48 52-43 54-34 62-29 71-24 83-20 87-11 97-7 200-2 150 3 113 9 97 16 70 19 69 27 61 32 54 38 47 43 42 50 37 57 30 63 18 50 15 55 12 58 9 64 6 70 3 73 1 220-5 137-13 113-10 53-13 53-17 50-16 40-20 40-23 37-24 33-27 31-30 30-32 26-34 24-40 23-75 33-42 14-50 13-100 17-123 10z"/><path fill="#927900" d="M4567 1972l-257 1-150-7-64-8-59-10-54-13-62-20-54-23-48-27-47-33-42-37-36-40-34-47-26-46-24-52-26-82-17-80-10-80-7-106-1-214 3-133 11-117 17-89 20-69 27-66 33-60 40-54 47-48 50-40 55-34 65-29 73-24 77-17 90-12 103-6 210-1 134 3 112 10 94 17 70 19 68 27 61 33 55 40 49 47 41 51 34 56 29 64 19 56 14 56 11 57 8 67 8 143 0 230-7 131-14 109-12 57-13 46-17 47-17 37-20 38-23 36-27 35-27 30-30 28-33 26-35 23-37 20-79 34-43 13-55 13-104 16-117 8z"/><path fill="#958200" d="M4544 1972l-244 0-140-7-70-8-63-12-53-14-59-19-52-24-52-30-46-33-38-35-37-41-33-48-27-48-23-54-23-75-17-81-11-88-6-115 0-212 4-124 10-102 20-103 23-75 27-61 33-57 40-52 45-46 52-40 57-33 69-30 77-23 80-16 90-10 103-6 207-1 127 4 110 11 96 18 74 22 65 28 58 33 53 40 47 46 40 52 33 56 30 69 17 51 13 54 11 62 8 70 7 143 0 237-8 127-15 103-13 57-13 43-17 45-16 37-20 36-24 36-26 34-30 32-30 28-34 25-36 24-38 20-37 16-46 17-90 23-113 17-126 7z"/><path fill="#998b00" d="M4490 1972l-223-2-77-4-66-6-74-11-59-14-54-17-50-20-52-26-46-30-44-37-38-39-33-42-30-49-27-55-20-54-20-75-15-93-8-93-4-120 1-190 6-123 13-106 20-87 27-76 30-62 37-56 42-50 51-45 56-38 61-31 70-26 78-20 92-14 100-8 126-3 177 1 117 6 103 13 93 21 68 24 63 30 57 37 52 44 45 49 39 57 30 60 26 69 15 54 12 59 14 121 5 157-3 240-10 116-9 60-10 46-27 86-17 40-20 39-23 38-23 32-29 33-31 30-33 26-37 26-38 21-42 20-45 17-44 13-95 20-113 12-137 5z"/><path fill="#9d9500" d="M4587 1968l-250 3-157-6-66-7-67-11-63-15-52-17-56-23-49-27-48-33-42-36-37-40-33-45-30-51-23-52-24-68-19-85-11-80-7-103-2-194 3-143 10-118 16-95 20-71 27-67 33-62 37-51 43-47 51-42 57-37 64-30 72-25 82-18 88-12 96-7 200-2 144 3 110 9 96 17 70 19 68 26 62 33 54 38 46 42 44 52 36 57 30 63 18 48 16 56 13 64 8 60 9 134 1 220-5 133-13 118-10 52-13 52-16 48-18 41-20 40-21 36-25 34-27 31-28 28-32 27-33 24-38 22-41 20-41 17-91 27-96 17-120 9z"/><path fill="#a29e00" d="M4564 1968l-250 2-80-3-74-5-66-8-66-12-58-16-52-18-52-23-52-30-44-32-40-36-36-42-33-47-27-48-24-54-23-73-17-78-11-87-6-103-1-207 3-130 11-110 18-95 20-68 27-67 33-58 40-55 46-48 53-42 57-35 64-28 72-24 78-17 90-11 103-6 203-2 134 3 106 10 100 18 74 22 64 27 60 33 52 38 48 45 42 54 34 54 30 66 18 53 15 59 10 54 9 67 7 140 1 227-7 133-14 107-13 56-12 44-16 43-18 42-20 38-24 36-26 34-27 30-30 29-33 26-37 24-37 21-80 33-43 14-53 13-104 16-116 7z"/><path fill="#a9a900" d="M4534 1968l-242 0-81-3-64-5-63-9-65-13-60-16-52-20-50-24-50-30-44-33-39-37-36-43-31-46-27-49-23-57-22-75-16-76-10-90-5-107-1-203 4-124 10-103 20-100 23-73 27-62 36-62 41-52 46-46 54-40 60-35 63-27 77-23 83-16 93-10 104-5 203-1 123 4 107 12 98 19 72 23 63 28 60 36 51 40 46 47 40 53 35 60 28 67 17 55 13 58 10 62 7 61 6 144-1 233-8 124-17 105-13 51-13 43-34 79-23 41-23 34-27 33-29 30-31 28-35 25-38 24-37 19-40 17-47 17-93 22-105 15-125 6z"/><path fill="#aeae00" d="M4560 1962l-240 1-80-2-70-5-66-9-66-12-58-15-51-18-52-24-52-30-46-33-40-37-36-40-33-46-30-53-23-53-23-73-17-77-11-88-6-103-2-193 4-127 11-110 18-93 22-74 27-64 34-59 40-53 46-48 54-42 60-36 63-28 73-24 80-17 90-11 104-6 196-1 124 4 106 10 97 19 73 22 64 28 60 34 53 40 47 46 43 55 34 58 29 65 17 52 15 56 11 60 7 64 7 136 0 220-7 124-15 106-11 51-14 45-16 44-17 39-20 38-23 36-26 34-27 30-31 29-33 27-36 24-35 20-42 20-40 16-90 25-104 17-120 9z"/><path fill="#b3b300" d="M4570 1955l-236 2-84-2-70-5-66-8-64-12-60-16-54-19-56-26-50-29-46-35-40-37-37-41-32-45-28-51-24-56-24-73-17-80-11-87-5-103-1-187 4-120 11-107 18-93 23-73 28-64 35-60 40-52 47-48 53-41 56-34 67-30 73-23 80-17 90-12 104-5 190-1 120 4 106 11 94 19 70 22 66 29 60 35 52 40 47 47 41 52 34 58 30 65 17 51 14 54 11 56 8 64 8 133 0 210-7 123-15 107-11 50-13 47-16 43-17 40-20 37-23 36-24 34-29 32-30 29-33 28-34 23-36 21-40 20-40 16-90 27-100 18-114 9z"/><path fill="#b8b800" d="M4577 1948l-90 3-140 0-83-2-74-5-70-9-63-12-57-15-56-20-54-24-50-29-46-35-43-38-37-43-33-47-28-50-24-54-23-73-18-80-11-87-5-100-1-180 4-120 11-103 19-93 22-71 29-66 34-59 40-53 47-47 53-42 60-36 64-28 73-24 80-17 87-12 100-5 183-2 120 5 103 11 94 18 70 22 66 29 60 35 54 41 48 47 42 54 36 60 28 63 17 50 14 53 11 57 8 60 8 130 0 203-7 124-14 103-23 93-16 44-19 43-19 37-23 36-24 34-27 31-29 29-32 26-33 24-37 23-39 20-40 17-87 27-100 19-110 10z"/><path fill="#bebe00" d="M4474 1945l-204-2-73-5-70-9-67-13-60-16-56-21-54-26-50-30-46-35-42-40-37-43-31-47-29-53-24-57-20-63-19-90-11-100-4-113 0-170 5-100 11-87 15-77 23-73 28-67 36-63 41-53 48-49 53-42 60-36 67-30 73-24 90-19 100-11 113-5 170 1 104 5 86 10 77 16 73 22 70 30 60 34 55 41 49 48 41 52 37 60 30 67 24 73 11 50 10 53 11 120 3 204-5 143-13 103-21 94-30 83-38 74-25 36-25 33-29 30-31 29-34 27-36 24-37 20-40 19-87 30-93 21-107 12-126 5z"/><path fill="#c2c200" d="M4484 1938l-204-1-73-5-67-8-66-13-60-16-57-20-53-25-50-29-49-36-43-40-37-43-33-47-29-53-25-57-20-63-19-90-11-97-5-110 0-167 5-100 11-86 16-80 22-70 28-67 36-63 41-54 48-49 54-42 60-37 66-30 70-23 90-19 97-11 107-5 166 0 100 5 87 9 83 17 70 21 70 30 60 34 55 40 49 47 43 53 37 60 31 67 24 73 12 50 10 54 11 116 3 194-5 143-12 103-20 90-29 84-19 40-20 36-25 37-26 33-29 32-30 28-33 27-33 22-37 21-40 20-83 30-94 22-103 13-123 5z"/><path fill="#cdcd00" d="M4484 1935l-204-2-73-5-67-8-66-13-60-16-57-21-53-25-50-30-47-34-43-41-39-45-32-47-29-53-24-57-19-60-19-90-11-96-5-107 0-163 5-100 11-87 16-80 22-70 28-67 36-63 40-53 49-50 54-43 60-36 67-30 70-23 90-20 96-11 110-5 164 1 100 5 86 10 80 16 74 23 66 29 60 34 54 40 50 50 43 53 36 60 29 63 24 74 12 50 10 53 11 117 3 193-5 140-13 103-20 90-30 84-37 73-22 33-26 34-29 32-30 28-33 27-33 23-37 21-40 20-83 31-97 23-103 13-120 5z"/><path fill="#d7d700" d="M4530 1932l-213 0-73-3-70-7-64-9-66-16-57-18-53-22-54-28-50-34-43-36-39-41-36-46-31-50-26-54-22-60-22-83-15-97-7-103-1-133 2-120 8-97 15-87 21-80 26-66 33-64 38-56 46-52 50-43 60-40 60-31 70-26 90-23 93-14 107-6 140-1 117 3 90 8 83 14 83 22 67 26 63 34 54 36 51 46 44 50 38 57 33 63 25 67 14 50 11 50 9 56 6 60 5 134-2 190-10 106-18 97-25 83-16 40-20 40-22 37-23 33-24 30-30 32-30 27-33 26-37 24-36 20-40 19-44 17-86 24-100 17-114 8z"/><path fill="#e1e100" d="M4557 1929l-87 2-133 0-80-3-67-6-66-9-64-14-56-17-57-22-53-26-47-30-46-36-41-40-36-43-33-50-26-50-23-57-23-76-15-80-10-87-4-103 0-157 6-107 12-96 21-90 25-70 30-64 36-56 43-54 47-45 54-39 60-35 70-29 76-23 84-16 93-10 97-4 153 1 110 5 100 13 87 21 66 23 64 30 60 37 53 44 45 47 42 57 34 60 28 67 15 50 13 50 9 53 8 60 7 127-1 190-8 113-16 97-25 90-33 80-21 36-23 37-26 33-27 30-31 30-30 24-33 24-37 21-77 36-86 27-100 19-107 10z"/><path fill="#e5e500" d="M4477 1925l-197-2-73-5-63-8-67-14-60-17-57-21-53-26-50-30-47-36-42-41-36-43-34-50-28-54-23-57-19-63-17-86-11-97-4-110 1-163 6-94 12-83 17-77 23-70 30-66 36-60 43-54 47-46 53-41 60-35 66-29 74-23 86-18 97-11 113-4 160 1 90 6 87 11 77 18 70 22 66 31 60 36 54 42 49 50 40 54 35 60 29 66 23 74 19 100 11 113 2 190-6 133-13 100-21 90-30 80-39 74-23 34-25 32-28 30-30 28-32 26-35 23-36 21-40 19-84 31-93 21-100 13-120 5z"/><path fill="#e8e800" d="M4517 1918l-207 0-73-4-67-7-66-11-60-15-57-19-53-24-53-30-47-33-44-38-38-42-34-47-29-50-25-54-21-59-21-87-13-93-6-103 0-147 3-103 10-90 14-80 22-77 28-67 34-62 39-54 46-50 51-44 57-36 63-32 70-25 87-21 93-12 104-6 146-1 104 4 86 9 84 16 73 21 67 27 60 33 55 40 50 47 44 53 37 57 31 63 25 70 13 50 10 50 13 110 4 140-3 177-11 103-18 91-27 82-36 77-23 37-24 33-54 59-30 26-33 25-36 23-37 20-80 33-87 24-97 16-113 7z"/><path fill="#ecec00" d="M4540 1912l-86 2-124-1-76-3-67-7-67-10-60-14-56-18-54-23-50-26-50-34-43-36-40-41-35-46-31-50-26-53-21-57-22-83-14-90-7-100-2-130 3-114 8-96 14-84 22-80 25-66 33-62 39-58 44-49 51-45 53-36 64-34 65-25 83-21 87-14 100-8 127-1 113 2 94 8 86 14 80 22 67 26 60 31 57 39 50 44 43 50 39 57 31 60 27 68 13 45 12 53 15 110 5 127-2 183-9 107-17 93-25 84-35 76-21 36-23 34-52 60-28 27-33 26-70 44-74 33-88 27-95 17-107 10z"/><path fill="#efef00" d="M4550 1905l-86 3-120-1-74-2-72-7-66-10-59-13-56-17-56-23-52-27-49-32-43-36-40-40-37-47-30-48-26-53-22-57-22-80-14-83-7-94-3-113 2-127 7-100 15-93 21-80 26-68 32-62 38-56 43-50 50-44 57-40 57-30 68-27 87-23 84-13 91-7 120-2 120 2 90 7 84 13 88 23 68 27 57 30 58 40 49 43 43 50 39 57 31 60 26 67 13 45 12 51 15 110 6 127-2 180-9 103-17 94-25 83-33 75-20 35-23 35-50 59-60 53-67 43-40 20-39 17-84 26-89 17-105 10z"/><path fill="#f2f200" d="M4544 1898l-84 3-120-1-70-2-70-7-64-9-59-14-63-20-55-23-50-27-49-33-43-36-38-41-35-45-30-49-27-56-20-53-21-80-14-93-7-97-1-130 3-110 8-90 14-87 21-76 27-67 30-58 37-54 44-51 49-44 58-40 57-30 68-26 89-24 87-13 97-7 101-1 100 1 97 7 88 13 89 24 68 26 58 30 54 37 53 47 46 53 37 54 30 58 26 69 14 46 12 53 14 108 6 125-2 174-9 103-16 90-25 85-34 75-43 70-51 60-29 27-33 26-68 44-73 33-86 27-87 16-106 10z"/><path fill="#e8ee00" d="M4490 1895l-186-1-77-5-57-7-69-14-59-16-54-20-55-27-49-30-47-37-40-39-37-44-33-50-27-51-23-58-17-55-17-83-10-93-4-107 1-150 6-90 11-81 17-74 23-71 30-66 33-55 44-56 47-47 52-40 62-36 61-27 73-23 81-17 89-10 101-4 154 1 92 6 71 10 74 17 78 27 63 30 58 36 53 44 44 46 40 55 33 58 27 63 23 74 19 100 10 107 2 177-5 123-12 91-20 86-30 82-37 70-47 65-55 56-61 47-71 40-77 30-90 23-91 13-115 7z"/><path fill="#dfeb00" d="M4514 1892l-200 0-67-4-63-7-60-11-62-15-58-20-54-24-50-29-46-34-44-39-36-41-34-47-30-52-23-53-20-60-19-84-12-90-5-100 0-147 5-97 10-83 16-77 22-70 30-70 33-58 40-53 47-49 49-40 58-36 64-30 68-24 84-19 86-11 104-5 140 0 96 5 81 10 78 17 64 20 68 30 57 33 53 40 46 45 44 54 35 58 31 67 22 66 22 97 12 110 3 160-4 137-11 100-18 83-26 77-36 76-44 64-53 59-32 27-31 24-68 40-79 33-83 23-97 16-103 8z"/><path fill="#d6e700" d="M4537 1888l-83 3-117-1-73-3-67-7-67-11-59-14-52-17-55-23-49-27-49-33-43-37-39-42-34-44-30-49-26-55-20-56-21-80-13-94-7-96 0-137 3-103 9-87 15-80 21-73 26-65 33-62 40-57 44-47 49-43 55-36 59-30 71-27 79-20 91-13 102-7 137 0 93 3 92 10 82 17 66 20 63 27 59 33 55 40 46 43 41 49 36 56 30 61 25 68 13 46 11 50 14 107 4 123-2 170-9 97-17 90-25 83-34 73-43 68-50 58-59 51-68 44-73 33-85 27-88 17-107 9z"/><path fill="#cce200" d="M4480 1888l-190-2-66-5-70-9-63-14-56-16-51-20-54-27-47-30-46-37-40-39-37-46-30-46-27-52-23-58-18-62-16-83-9-92-3-108 2-147 6-87 12-76 17-74 24-70 29-61 36-59 43-53 48-47 53-40 58-33 62-27 76-23 86-17 91-9 110-3 143 2 85 7 82 13 67 17 65 23 62 30 57 37 52 43 47 50 40 56 33 61 27 66 20 68 18 96 9 107 2 173-6 123-13 94-20 81-30 80-37 69-46 64-56 56-62 46-34 20-40 20-80 30-82 21-96 13-114 6z"/><path fill="#c3de00" d="M4510 1885l-196 0-70-4-67-8-61-11-62-17-56-20-50-23-50-30-45-34-43-39-36-42-34-48-26-48-24-53-20-60-18-83-12-93-4-100 0-147 5-90 11-83 16-74 22-72 30-68 34-57 40-53 46-47 54-43 54-33 65-30 70-23 84-19 93-11 100-4 144 1 92 6 74 10 75 17 70 23 65 30 55 33 52 41 47 47 40 52 34 57 29 65 23 68 20 97 11 107 3 163-4 130-11 93-19 87-26 77-37 74-43 64-27 31-28 27-31 27-32 23-69 40-72 30-85 24-96 16-104 7z"/><path fill="#bad900" d="M4510 1882l-196 0-67-4-67-8-63-12-63-16-55-20-50-24-50-30-45-33-40-37-37-42-33-47-27-47-25-57-20-60-18-83-11-90-5-100 1-147 5-90 10-83 16-75 23-72 30-67 34-57 40-52 47-47 50-40 61-37 58-27 69-23 85-19 90-11 97-4 143 1 93 5 80 11 76 17 61 20 67 30 56 33 51 40 48 47 41 53 34 55 30 65 23 70 20 94 12 106 3 160-4 134-11 95-19 85-27 80-34 68-23 37-23 31-53 57-31 26-32 24-68 39-73 31-84 23-96 16-104 8z"/><path fill="#b1d400" d="M4504 1878l-190 0-70-4-67-8-60-11-61-17-55-20-50-23-51-30-45-33-41-39-37-42-33-48-27-48-23-53-20-61-19-83-10-90-5-96 1-144 5-93 10-80 16-73 22-70 26-62 34-58 40-54 47-50 49-40 59-36 64-30 68-24 86-19 90-11 97-4 143 1 90 5 80 10 67 15 73 23 66 30 56 34 51 40 47 46 40 51 37 60 27 59 23 70 21 97 12 107 3 160-4 130-11 93-18 83-27 78-36 74-44 63-26 31-28 28-62 49-70 41-74 30-86 24-97 15-103 7z"/><path fill="#a7d000" d="M4490 1875l-186-1-70-5-64-8-63-13-59-16-54-21-53-26-49-30-43-33-39-38-36-43-34-49-26-51-24-56-17-57-17-80-10-93-4-103 2-144 5-86 11-77 17-73 23-70 30-65 34-55 42-54 47-46 53-40 56-34 60-26 72-24 79-16 91-11 103-4 146 1 87 6 74 11 72 17 69 23 64 30 58 37 50 40 47 49 40 53 33 58 27 63 23 73 18 94 10 106 3 167-6 120-12 91-20 85-26 73-37 71-47 65-53 55-61 47-71 40-75 30-90 23-90 13-110 7z"/><path fill="#9ecb00" d="M4447 1872l-100-1-73-3-70-6-64-11-63-15-57-19-53-23-52-29-48-33-41-37-39-43-33-45-30-52-24-52-20-58-15-63-13-80-6-94-2-146 5-104 8-78 14-75 19-68 27-67 33-62 38-53 45-50 51-43 55-37 60-30 62-23 77-20 85-14 91-6 143-2 103 4 84 10 73 14 69 20 58 24 62 33 54 39 50 46 44 51 36 57 30 60 25 67 19 74 14 93 7 106 0 164-8 113-14 87-23 80-30 73-40 70-23 31-27 31-56 53-67 45-73 36-81 27-86 19-97 11-113 4z"/><path fill="#94c600" d="M4534 1865l-84 2-113 0-73-4-64-6-63-11-60-14-53-18-53-22-51-28-46-32-43-37-37-40-34-44-29-49-24-51-20-54-20-78-13-88-7-96 0-127 3-100 9-83 15-79 20-71 26-65 34-61 36-52 44-48 47-41 56-37 63-32 63-24 78-20 86-13 97-7 130-1 96 3 84 9 82 16 68 20 65 26 55 30 56 40 47 44 43 51 37 55 30 60 24 64 23 91 14 105 5 120-2 164-10 96-17 87-24 76-33 73-43 68-50 57-60 51-67 41-73 33-80 25-90 17-100 9z"/><path fill="#8bc100" d="M4510 1862l-190 0-70-4-63-7-63-12-57-15-55-19-52-24-50-29-46-34-40-36-37-41-33-46-27-48-23-52-21-60-18-80-11-90-5-97 1-140 5-90 11-80 16-73 22-68 29-65 34-57 40-52 43-44 51-41 56-34 62-29 68-23 80-18 90-11 97-5 136 1 90 5 80 10 74 16 66 22 60 27 57 33 53 40 47 46 40 50 37 59 29 65 22 63 20 93 12 104 4 150-4 130-11 93-19 86-27 77-33 67-43 63-54 58-61 49-69 40-73 31-83 23-90 15-104 8z"/><path fill="#81bd00" d="M4467 1858l-177-2-70-6-63-9-63-14-57-18-53-21-50-27-47-30-43-36-40-40-34-43-30-47-26-54-21-56-17-60-14-80-8-87-3-130 3-113 7-80 13-77 20-73 23-62 30-60 37-55 43-51 50-45 53-38 60-32 64-25 70-20 80-14 90-9 130-2 113 3 83 7 74 13 70 19 63 23 61 31 56 38 50 43 43 48 38 55 32 60 26 66 20 70 16 94 8 103 0 163-7 114-13 86-21 77-29 74-37 66-46 61-27 28-30 27-63 45-70 36-77 28-87 21-93 12-110 5z"/><path fill="#78b800" d="M4530 1852l-80 2-113-1-73-3-64-7-63-11-57-14-56-18-50-22-50-28-44-30-43-37-37-39-33-43-30-49-24-50-20-57-20-77-13-86-6-94 0-130 4-93 9-83 15-77 22-70 26-63 32-57 38-53 44-46 50-42 53-35 60-30 63-23 80-20 87-13 93-6 127-1 97 4 83 9 73 14 70 21 64 26 56 31 54 38 47 43 43 50 36 56 30 59 24 65 23 91 13 101 5 118-2 156-9 95-17 85-25 77-32 70-43 66-50 57-60 50-64 40-73 33-83 25-90 17-97 9z"/><path fill="#6fb401" d="M4504 1848l-187 0-67-4-63-7-60-11-60-16-57-21-50-23-50-30-43-32-40-36-37-42-33-47-27-48-23-54-18-55-18-80-11-87-4-93 1-137 6-90 11-76 16-73 22-64 28-63 34-55 40-51 46-47 50-39 57-34 60-27 67-23 80-17 90-11 96-5 134 1 86 5 77 10 73 16 67 22 63 29 57 34 50 38 47 47 40 51 34 55 29 64 22 66 19 90 12 104 3 153-5 120-11 91-19 82-28 77-33 65-44 62-53 56-60 47-66 38-74 30-83 23-90 15-103 7z"/><path fill="#66b002" d="M4460 1845l-173-3-70-6-63-9-60-14-60-19-50-21-50-27-47-31-43-37-38-40-34-43-29-47-26-54-20-55-16-61-14-80-7-86-1-134 3-103 8-78 14-72 19-70 24-61 31-59 36-53 43-49 50-44 53-36 60-32 64-24 70-20 80-13 86-8 134-2 106 3 77 7 77 14 70 19 63 24 60 31 53 37 50 44 44 49 36 53 32 60 25 65 19 72 15 90 8 103 0 157-7 110-14 86-21 74-30 73-37 64-46 59-57 54-63 44-70 36-80 28-84 19-93 11-107 5z"/><path fill="#5ead03" d="M4534 1838l-80 3-110-1-70-3-64-6-58-9-58-14-57-18-53-22-50-27-47-32-43-37-37-38-33-44-30-48-24-49-20-54-20-79-12-85-6-90 0-123 4-94 9-80 15-76 20-68 27-62 30-55 37-51 43-48 47-40 56-36 59-30 62-24 77-20 87-13 92-6 123-1 97 3 80 8 80 16 69 20 64 27 57 31 53 39 47 43 40 47 37 56 30 60 23 63 13 49 10 45 12 97 5 120-3 150-10 96-17 79-23 71-34 71-40 61-50 56-57 49-64 40-74 33-75 24-86 17-100 9z"/><path fill="#56aa05" d="M4504 1835l-184 0-66-4-64-8-63-11-53-15-54-19-51-23-52-30-43-32-40-36-37-42-33-47-26-46-24-54-17-52-17-74-11-87-4-93 0-134 5-83 11-77 16-71 23-69 27-59 33-55 40-52 44-44 51-40 55-33 60-28 66-22 78-17 90-12 93-4 133 0 90 6 77 10 70 16 64 21 60 27 56 33 52 40 48 47 40 51 33 55 27 58 23 69 20 93 10 94 4 146-4 120-11 90-19 80-26 74-34 66-43 62-52 55-60 47-68 39-76 31-81 22-90 14-96 7z"/><path fill="#4da706" d="M4540 1828l-80 3-110 0-70-3-66-6-63-10-57-14-52-16-52-22-47-25-46-30-43-36-37-37-33-42-30-47-26-51-21-54-20-76-13-80-6-90-1-117 3-93 9-84 15-75 20-68 26-63 30-56 36-51 41-45 48-42 52-35 60-31 60-24 73-20 84-14 90-7 113-2 103 3 84 8 76 13 74 21 63 25 57 30 52 37 48 42 40 45 36 53 31 56 26 66 23 89 15 99 5 110-2 150-8 91-16 85-24 77-30 67-40 63-50 58-55 49-65 41-70 33-80 25-83 17-97 10z"/><path fill="#45a408" d="M4504 1825l-180 0-67-4-63-7-60-11-57-15-55-20-51-23-47-28-44-31-40-36-36-41-32-44-28-49-23-51-18-53-18-77-10-83-5-90 1-127 5-87 11-76 16-70 21-64 27-60 33-55 39-51 44-45 49-39 54-33 60-29 64-21 76-18 87-12 93-5 130 0 88 5 79 10 70 15 67 22 60 26 57 34 52 40 45 43 39 49 34 54 29 63 22 64 20 90 11 97 4 143-4 120-11 87-18 80-27 75-33 64-44 62-50 52-60 48-66 38-74 30-80 22-86 15-100 7z"/><path fill="#3ca009" d="M4537 1818l-77 3-110 0-70-3-63-6-63-10-57-14-53-17-50-21-50-26-44-29-43-35-37-38-33-42-29-45-24-49-20-52-20-72-13-80-7-87-1-113 3-97 9-80 13-73 21-70 25-61 30-56 36-52 44-48 46-40 54-36 56-29 60-24 77-20 80-13 90-8 110-1 100 2 83 8 77 13 73 21 64 25 56 31 54 37 45 41 41 47 36 53 30 56 24 62 24 88 13 97 6 110-2 147-8 90-16 83-23 74-33 69-40 64-47 54-57 48-63 41-70 32-77 24-87 18-93 9z"/><path fill="#349d0b" d="M4500 1815l-180 0-66-4-60-8-60-11-57-15-53-19-50-23-47-27-45-33-38-35-37-41-32-44-26-47-23-50-19-56-16-74-11-83-4-90 1-127 6-83 10-73 17-70 21-64 28-60 33-53 38-49 44-43 50-39 53-33 60-28 63-21 77-18 87-11 93-5 127 1 83 4 77 10 70 16 66 21 60 27 57 33 50 38 44 44 39 48 34 55 29 60 23 67 19 86 11 97 3 143-4 117-11 87-18 76-26 71-34 66-42 60-51 53-59 46-67 38-73 30-80 22-87 14-97 7z"/><path fill="#2c9a0c" d="M4537 1808l-77 3-106 0-70-3-64-6-60-9-56-13-54-17-53-22-47-25-46-31-40-32-38-38-32-41-30-46-25-50-20-50-20-73-12-77-6-83-2-110 3-93 8-80 14-74 20-70 24-60 31-56 35-50 42-47 48-41 50-35 56-29 60-24 70-20 80-14 87-8 100-2 107 2 86 7 80 14 74 20 63 25 57 31 50 34 46 41 41 46 37 53 30 57 24 60 23 86 15 97 5 107-1 143-8 90-15 80-23 73-32 70-39 62-47 55-56 49-64 40-70 33-73 24-87 18-93 9z"/><path fill="#23970e" d="M4510 1805l-180 1-66-4-64-7-60-11-53-14-57-20-46-21-47-26-43-31-40-35-37-39-32-43-27-47-23-50-19-53-18-73-11-80-4-87 0-123 5-84 10-73 15-70 21-63 27-60 31-54 38-49 43-44 47-39 54-33 56-28 64-22 76-19 84-12 90-5 126 0 87 4 77 9 73 16 63 20 57 24 57 32 50 37 46 44 40 49 34 53 28 57 23 63 21 87 12 96 4 120-4 134-10 86-17 77-25 73-32 64-42 60-49 53-56 45-67 39-73 32-77 21-83 15-97 8z"/><path fill="#1b940f" d="M4487 1802l-177-1-63-5-63-8-57-12-57-16-53-20-47-23-46-28-44-33-39-38-34-40-30-43-25-47-23-53-16-53-16-74-8-80-4-93 2-123 7-80 11-70 18-67 22-60 27-57 35-53 38-47 45-43 50-37 54-31 60-26 63-21 80-17 83-9 94-4 126 1 80 6 74 11 66 16 67 23 60 28 53 34 47 37 44 46 38 50 33 56 27 60 20 64 17 83 10 97 2 143-5 107-11 83-20 77-27 70-32 60-45 60-51 51-60 45-63 34-70 28-84 22-90 14-93 6z"/><path fill="#119814" d="M4457 1798l-163-2-67-6-60-10-60-13-53-17-54-22-46-25-44-29-43-36-39-40-33-43-29-47-24-50-19-53-14-53-13-74-6-80-2-123 4-93 9-77 13-67 19-63 23-57 30-56 35-50 42-47 47-41 54-36 56-29 64-25 66-18 77-13 83-7 124-2 100 3 73 7 73 13 67 19 60 24 57 30 53 37 47 41 41 47 34 50 30 57 24 60 19 70 15 83 7 97 0 140-6 100-14 80-21 76-29 67-35 60-45 57-54 49-60 42-66 34-74 26-83 20-87 11-103 4z"/><path fill="#089e18" d="M4537 1792l-73 3-107 0-67-3-63-6-60-9-57-13-53-17-50-21-50-26-43-28-40-33-38-37-32-40-28-44-24-46-21-54-20-70-12-76-7-84-1-106 3-90 8-77 14-70 20-70 25-60 30-53 35-50 41-45 47-41 50-34 53-28 60-24 73-20 77-14 83-7 100-2 104 2 83 7 77 14 73 20 60 24 57 30 50 35 46 41 40 45 35 50 30 57 24 60 23 83 14 93 6 107-2 140-8 87-16 80-23 73-30 63-39 60-47 55-53 46-64 41-66 31-77 25-83 17-87 9z"/><path fill="#01a81d" d="M4520 1789l-73 2-103-1-67-3-63-7-57-10-57-14-56-19-47-21-47-25-43-30-40-34-36-39-33-43-26-43-23-47-19-53-18-70-12-80-5-84 0-116 5-84 9-73 15-67 20-63 25-57 31-53 37-49 42-44 48-40 50-32 53-27 64-24 76-19 80-12 87-6 113-1 87 4 80 8 70 14 67 20 60 25 56 32 50 36 44 40 38 45 36 53 27 54 24 63 22 87 12 90 5 106-2 137-9 87-16 73-23 70-32 67-40 60-48 53-54 46-64 39-66 30-77 24-83 16-94 9z"/><path fill="#00ae1e" d="M4497 1785l-173 0-67-5-57-7-56-11-57-15-53-19-47-22-47-28-43-32-38-34-35-40-29-40-26-47-23-50-17-53-17-74-9-76-4-87 2-120 5-77 11-70 17-66 21-60 27-57 34-53 38-47 43-42 50-38 53-32 57-25 60-20 77-17 80-11 90-4 123 1 83 5 70 10 67 16 63 21 60 28 50 30 50 39 44 43 38 49 33 54 26 56 21 64 19 86 10 90 3 134-4 106-11 80-17 74-26 70-34 63-42 58-50 52-56 43-64 36-70 29-76 21-80 14-97 7z"/><path fill="#00b31f" d="M4507 1775l-170 1-63-4-60-7-60-11-54-14-50-18-50-22-46-27-40-29-40-35-35-37-29-40-28-47-23-50-18-50-16-70-11-77-4-83 1-113 5-80 10-70 16-67 20-60 27-57 30-50 36-46 43-44 46-36 53-33 57-27 60-21 73-18 80-11 87-5 116 0 80 4 74 9 70 16 63 20 57 25 53 31 50 38 43 42 38 46 34 54 27 56 22 64 19 80 11 93 3 127-3 106-10 80-17 74-24 66-33 64-39 56-48 51-53 43-63 38-70 30-77 23-80 14-90 8z"/><path fill="#00b71f" d="M4454 1768l-154-2-63-6-60-10-57-14-53-18-50-21-47-26-43-30-40-35-35-38-32-41-27-45-23-50-18-50-14-57-11-70-6-77-1-113 5-87 9-70 14-63 19-60 25-57 30-53 38-50 41-43 46-38 50-32 57-28 60-22 66-17 70-12 80-6 117-1 90 4 70 8 67 13 63 19 57 23 56 32 50 36 45 41 39 45 33 51 29 57 23 60 17 67 13 80 6 93-1 127-8 93-14 73-21 70-29 64-35 56-44 54-53 47-60 41-63 31-70 25-77 17-83 11-93 4z"/><path fill="#00bb1f" d="M4510 1758l-70 3-93-1-63-4-60-7-57-10-53-14-50-18-48-22-46-27-41-30-38-33-34-38-30-40-26-45-23-50-18-50-15-67-10-73-4-80 0-110 6-74 10-70 15-63 21-60 27-57 30-49 37-46 42-41 45-36 50-31 56-27 60-21 74-17 76-10 84-5 113 1 77 5 70 9 66 16 60 20 57 26 53 32 47 37 41 41 38 46 31 51 27 56 21 60 18 77 10 86 4 117-4 107-10 80-17 70-24 66-31 60-39 57-47 50-54 43-61 37-66 29-70 21-77 15-87 8z"/><path fill="#00bf20" d="M4480 1752l-156-1-60-5-57-8-57-12-53-17-50-20-46-24-44-28-40-33-36-36-32-40-28-43-24-46-20-51-14-50-13-66-7-74-2-103 3-90 7-70 13-63 17-60 23-55 27-52 35-50 38-43 45-40 48-34 53-29 57-23 60-18 70-13 77-8 93-3 103 3 70 6 67 12 63 17 59 23 55 29 50 33 43 38 40 43 36 50 29 54 25 59 18 61 14 76 8 87 1 123-6 90-12 74-20 69-26 64-33 57-41 53-48 47-53 40-62 34-67 27-73 20-77 12-90 7z"/><path fill="#00c41f" d="M4514 1742l-70 2-87 0-63-4-57-6-57-11-53-14-49-17-44-21-46-26-41-30-38-33-33-37-30-40-26-44-22-49-18-50-15-67-10-73-4-77 1-103 5-70 11-67 15-63 21-57 25-53 31-50 37-46 40-39 45-35 49-30 56-27 58-20 71-17 74-10 80-4 107 1 73 5 67 9 66 16 58 20 56 26 50 31 47 36 40 40 36 46 32 51 26 53 21 60 17 77 10 83 3 114-3 96-10 74-16 70-23 63-31 60-39 56-44 47-53 44-60 36-63 29-69 21-74 15-80 9z"/><path fill="#00cf19" d="M4507 1738l-70 3-87-1-63-4-57-7-53-11-50-13-47-17-48-23-45-27-41-30-37-33-32-37-30-41-26-45-21-47-17-50-15-67-9-70-4-76 2-104 5-70 11-66 15-60 21-57 26-53 32-50 35-44 41-40 47-36 50-30 52-24 58-20 70-16 74-10 80-4 106 1 77 6 65 10 65 16 57 20 56 27 48 30 46 37 40 40 36 47 31 50 26 56 20 60 17 75 9 85 2 117-4 90-11 77-16 65-24 62-30 57-37 52-46 50-50 40-60 37-63 28-69 22-75 15-83 8z"/><path fill="#00d814" d="M4507 1735l-70 2-87 0-60-4-56-7-57-11-50-14-50-18-44-21-45-27-40-30-36-33-33-37-29-40-26-46-21-47-17-50-15-67-9-70-3-80 1-100 6-70 11-63 15-60 21-57 27-53 30-48 37-45 40-39 46-35 50-30 54-24 57-20 70-16 73-9 80-4 103 1 74 5 66 10 64 16 56 20 54 25 52 33 44 35 41 41 37 47 30 50 25 53 21 60 16 74 10 83 3 113-4 94-11 73-16 67-24 63-31 59-38 54-45 48-53 42-57 35-64 28-66 21-74 15-83 8z"/><path fill="#00e110" d="M4510 1732l-70 2-86 0-60-4-57-7-57-11-50-14-46-17-47-21-47-28-40-30-36-34-33-36-28-40-25-44-21-46-17-50-16-67-9-70-3-77 1-100 6-70 11-63 15-60 21-57 26-53 30-47 35-43 41-40 46-35 50-31 53-24 57-20 66-15 74-10 80-4 103 0 73 5 67 11 63 15 57 20 53 25 50 31 46 35 41 41 36 46 31 50 25 53 21 60 18 77 9 80 3 110-4 93-10 74-16 66-24 64-29 56-38 54-45 49-50 41-60 36-64 29-66 21-74 15-80 9z"/><path fill="#00e510" d="M4510 1722l-66 2-84 0-60-3-56-7-54-10-53-15-48-17-45-22-44-26-40-29-36-33-34-38-30-42-25-44-20-46-17-50-14-64-9-70-3-76 2-97 6-67 11-63 16-60 20-53 25-50 32-49 36-44 40-38 44-33 50-30 53-24 57-19 66-15 74-10 76-3 100 1 70 5 67 10 60 16 57 20 53 25 50 31 46 37 39 40 35 44 30 49 25 53 21 60 16 74 9 80 3 110-4 86-10 70-17 67-23 62-30 56-37 52-43 47-50 41-57 35-63 29-67 21-73 15-77 9z"/><path fill="#00e810" d="M4510 1712l-63 2-83 0-60-3-57-7-53-10-50-14-49-18-45-21-43-26-40-30-36-33-33-37-28-40-25-43-21-47-16-47-14-63-9-67-3-73 1-93 6-67 10-60 16-60 20-53 25-50 31-47 35-43 41-40 45-34 48-29 54-24 53-18 67-16 70-9 76-4 97 1 70 6 66 10 61 15 56 21 51 24 49 31 45 36 40 40 35 44 30 49 25 53 20 57 15 70 10 80 2 103-4 87-10 70-16 63-22 60-30 57-36 51-44 47-50 41-55 34-61 28-67 22-70 15-77 9z"/><path fill="#00ec10" d="M4504 1702l-64 2-80 0-60-4-53-7-53-11-50-14-47-18-44-22-44-26-39-30-35-34-31-36-29-40-24-44-20-46-15-47-13-60-8-67-3-73 2-90 6-63 11-60 16-57 20-51 27-51 30-45 36-42 40-38 44-32 47-28 53-23 56-19 64-14 70-9 76-3 97 2 67 6 63 10 60 17 53 20 54 26 46 30 44 36 40 41 33 44 29 50 24 53 18 53 15 70 9 77 1 103-4 80-10 67-17 63-24 60-29 54-36 50-45 46-50 40-54 33-60 27-64 21-70 14-76 9z"/><path fill="#00ef10" d="M4494 1692l-64 2-76-1-57-4-53-8-50-10-50-15-47-19-43-22-42-27-38-30-35-33-32-39-27-39-23-44-20-48-14-47-12-60-7-63-2-83 3-77 7-60 12-58 16-54 22-51 28-50 30-43 36-41 41-36 43-30 50-28 54-22 53-17 63-13 70-7 84-3 83 3 67 7 60 11 56 16 54 22 50 26 47 31 43 37 37 40 34 47 29 50 22 53 17 53 13 67 7 73 1 100-5 77-12 67-17 60-24 56-31 54-38 50-43 43-48 37-56 33-60 26-63 19-70 14-73 8z"/><path fill="#00f211" d="M4470 1682l-73 1-60-2-57-6-53-9-50-13-50-17-46-21-41-23-40-29-36-31-34-37-27-37-26-43-20-43-17-46-13-51-9-57-4-63-1-83 5-70 9-57 14-57 19-52 24-48 30-48 33-41 37-37 42-34 48-29 48-24 52-19 56-15 64-10 66-5 90-1 74 5 60 8 60 14 56 19 50 23 48 28 46 34 41 39 35 43 30 46 26 51 20 53 14 57 10 68 4 75-1 87-8 73-14 64-20 56-25 54-32 49-40 47-44 40-47 34-56 30-60 24-63 18-70 12-74 6z"/><path fill="#00ef1b" d="M4484 1672l-130 0-54-4-53-8-51-12-49-15-43-19-44-23-39-26-37-31-34-33-30-37-26-42-23-44-17-45-14-48-11-57-5-63-1-83 4-67 8-57 12-53 17-50 23-49 27-45 33-44 37-39 39-33 44-29 47-24 50-21 56-16 60-11 67-7 83-1 74 3 60 7 60 12 56 18 53 22 48 27 46 33 40 36 37 41 30 43 26 49 20 48 17 57 12 63 6 70 0 90-6 73-12 60-20 64-23 51-30 50-37 46-44 43-49 36-53 30-57 25-62 19-68 13-70 7z"/><path fill="#00e925" d="M4447 1668l-70 0-57-3-53-7-50-10-50-14-48-19-46-23-42-27-38-30-36-36-30-37-27-40-22-44-18-43-13-47-11-53-7-63-1-70 2-67 8-60 12-59 17-51 20-47 27-46 30-41 36-40 40-35 44-31 50-27 50-20 54-16 59-12 67-7 73-2 73 2 64 7 58 12 57 16 51 21 49 26 45 30 42 37 37 40 31 42 26 46 24 54 16 54 12 57 7 70 1 80-4 67-9 63-17 60-21 53-29 53-33 47-40 43-45 37-52 34-53 26-57 20-66 17-67 9-70 4z"/><path fill="#00e32d" d="M4484 1662l-64 2-66-2-54-4-50-8-49-12-47-15-44-18-42-23-40-27-36-30-33-33-29-37-26-40-22-43-18-47-14-47-10-56-5-60-1-77 4-67 8-56 13-54 18-50 21-46 29-47 30-40 37-38 40-33 43-29 47-24 50-20 56-16 60-11 64-6 83-1 70 3 60 8 59 14 54 17 50 22 47 27 46 34 40 36 34 40 30 44 25 46 20 50 15 54 12 63 5 67 0 86-7 70-12 60-18 56-23 52-30 49-37 46-42 41-48 36-52 30-55 24-63 20-67 13-66 7z"/><path fill="#00dc36" d="M4487 1655l-60 2-67-1-53-4-50-8-50-11-47-16-44-19-43-23-40-27-36-30-33-34-30-38-26-41-21-42-17-45-13-46-10-56-5-58-1-76 4-64 9-54 13-54 17-48 23-48 27-44 32-42 36-36 41-34 44-29 47-23 50-20 52-14 58-11 63-6 80-1 70 4 57 8 57 12 53 18 51 22 47 27 42 31 39 36 36 40 30 43 25 47 20 50 16 55 11 61 6 67-1 80-6 70-13 60-17 53-23 52-30 49-36 46-41 40-48 37-52 30-56 24-59 19-61 13-67 7z"/><path fill="#00d53f" d="M4484 1649l-57 2-67-1-53-5-50-8-50-12-47-16-46-21-40-22-40-28-34-30-33-34-30-39-24-40-21-43-16-44-13-46-9-54-5-60 0-73 5-60 9-53 14-54 17-46 23-48 27-42 33-42 37-36 40-32 43-28 47-23 50-19 53-15 57-9 63-6 77 0 66 4 60 9 54 13 50 17 51 23 45 27 44 33 39 37 34 40 29 43 24 48 20 49 14 53 10 60 5 67-1 77-7 66-12 57-19 55-23 50-30 48-35 44-42 40-44 33-51 30-55 24-59 19-64 13-63 8z"/><path fill="#00ce48" d="M4480 1642l-56 2-64-1-53-5-50-8-47-12-47-16-44-20-42-24-37-26-36-32-33-35-28-37-24-40-21-43-17-47-12-46-8-54-4-60 0-70 6-60 10-53 14-50 18-47 24-46 29-44 32-38 37-36 40-30 43-27 47-22 50-19 53-13 57-9 60-5 77 1 63 5 57 9 53 14 50 18 50 24 46 28 41 32 36 36 34 41 28 45 24 46 18 50 14 54 9 60 4 66-2 70-8 64-13 56-18 52-23 48-30 48-35 42-42 40-45 34-48 28-53 23-58 19-62 13-64 7z"/><path fill="#00c651" d="M4477 1635l-57 2-63-1-50-5-50-9-47-12-46-17-44-20-40-23-38-28-35-31-33-36-27-37-24-40-20-43-15-43-13-50-8-54-3-56 1-67 6-60 11-53 14-47 19-47 25-46 27-40 33-39 37-35 40-30 43-26 47-22 50-18 53-13 57-8 60-4 70 0 63 6 57 10 53 15 50 19 47 23 43 28 42 34 36 36 32 40 27 44 23 46 18 50 13 54 9 60 3 66-3 67-8 60-13 53-19 54-26 50-28 43-36 42-40 37-43 32-50 29-53 23-54 17-60 13-63 7z"/><path fill="#00bd5a" d="M4427 1628l-60-1-53-4-50-9-50-13-47-17-47-23-40-24-40-30-34-32-32-38-27-39-24-43-18-43-16-50-10-50-5-50-2-64 3-56 8-54 12-50 16-46 22-47 26-43 30-40 35-37 39-33 41-28 46-25 50-20 50-15 54-10 53-6 63-2 60 3 57 7 53 11 50 16 50 21 44 24 43 30 39 34 34 37 31 43 26 44 21 49 16 50 11 53 6 54 2 63-4 57-7 53-14 53-19 50-24 47-29 43-33 40-39 37-40 30-47 28-50 23-53 18-57 13-57 8-63 3z"/><path fill="#00b362" d="M4464 1618l-60 2-54-2-50-6-48-10-48-15-44-17-43-22-40-26-37-29-33-32-30-36-27-39-22-41-18-43-14-47-9-47-6-53-1-60 3-53 8-54 13-48 16-46 22-46 25-40 30-39 33-35 38-32 42-29 44-23 46-20 50-15 54-11 56-6 64-2 56 3 57 7 53 12 50 16 47 21 43 24 41 29 39 35 34 37 30 41 25 44 20 47 16 50 11 50 6 60 1 63-5 57-9 53-14 50-21 50-24 43-30 44-36 40-40 35-44 31-46 25-50 21-54 17-56 11-60 6z"/><path fill="#00a96b" d="M4477 1609l-53 2-57-1-50-5-50-9-50-14-43-17-42-20-38-23-37-28-33-30-32-36-27-36-23-40-18-40-16-47-11-45-7-52-2-53 2-57 7-53 10-47 17-49 20-43 23-40 27-38 33-36 37-33 40-29 43-25 44-20 49-17 50-12 54-7 56-3 64 1 56 7 50 10 50 15 47 19 45 24 42 28 38 32 35 36 30 39 27 43 21 45 16 47 12 50 8 56 2 60-3 57-8 53-13 50-19 49-23 45-29 43-34 40-37 35-42 32-45 26-50 23-51 17-55 13-57 8z"/><path fill="#00a172" d="M4434 1602l-57-1-50-4-49-9-48-12-46-17-43-21-39-23-38-29-35-31-32-36-27-37-23-41-19-43-14-44-11-46-6-50-1-53 2-53 8-50 11-46 17-47 20-42 26-43 30-39 34-34 36-31 42-28 43-24 45-19 47-14 50-11 53-6 57-2 55 2 52 7 50 11 49 16 46 20 45 25 40 28 36 32 34 36 29 39 24 40 20 43 17 49 11 48 6 53 2 57-3 50-7 50-13 50-18 46-22 44-26 40-34 41-36 35-39 30-43 27-48 23-47 18-53 13-54 9-56 4z"/><path fill="#009e7d" d="M4440 1595l-53 0-50-4-50-8-47-11-47-17-43-20-40-23-37-27-34-30-32-35-27-35-24-40-19-41-17-48-10-42-7-49-2-53 2-54 7-50 10-42 17-48 20-43 24-40 29-39 34-35 36-32 40-27 41-24 46-20 47-15 50-11 50-6 56-3 56 2 51 6 50 11 47 14 46 20 44 24 40 27 36 31 34 35 29 39 25 40 21 43 16 47 12 48 7 49 2 53-2 53-7 50-13 50-17 46-22 44-28 43-30 37-37 36-39 31-42 26-45 23-47 17-50 14-53 9-54 4z"/><path fill="#009e85" d="M4460 1592l-53 1-50-2-49-6-47-10-44-13-48-20-39-21-40-26-33-27-33-32-30-37-24-34-23-44-17-41-13-45-8-43-5-51 0-56 4-47 9-50 13-46 17-41 20-39 27-41 30-36 33-33 37-30 42-27 44-23 44-17 46-13 52-10 55-6 57 0 53 3 50 8 47 12 46 17 44 20 44 26 36 26 36 34 33 36 28 40 23 40 20 47 14 47 10 50 5 53 0 57-5 53-10 47-14 45-20 46-24 42-30 40-33 37-38 33-42 30-42 23-47 20-53 17-48 10-57 7z"/><path fill="#009e8e" d="M4474 1588l-54 3-53-1-47-5-49-10-46-13-43-17-40-20-38-23-35-27-33-30-29-32-27-37-23-40-20-44-13-40-11-44-6-49-2-51 2-46 7-50 10-41 16-49 20-43 27-44 28-37 32-33 37-32 40-28 42-23 44-19 44-15 50-11 53-7 53-2 54 2 53 6 50 11 47 15 46 20 44 24 40 28 36 32 34 36 30 40 23 40 20 43 16 47 10 46 7 54 1 53-4 53-8 47-13 47-19 48-23 44-27 39-33 38-36 34-41 30-45 27-43 20-49 16-53 13-53 7z"/><path fill="#009e96" d="M4430 1588l-53 0-50-5-47-8-47-13-45-17-41-20-40-24-38-29-33-30-29-34-27-37-23-40-20-46-13-42-10-47-6-48 0-50 3-50 7-46 12-45 17-45 20-40 27-42 30-37 33-34 37-31 41-26 42-23 44-17 49-15 50-10 50-5 57-1 50 2 53 8 47 12 46 15 44 20 40 24 42 30 35 31 32 35 28 39 24 41 19 44 15 46 10 47 5 50 1 53-3 50-8 47-13 47-17 43-23 44-27 39-33 39-37 35-40 30-43 26-44 20-47 17-49 12-51 8-53 3z"/><path fill="#019f9f" d="M4450 1585l-53 1-50-3-47-7-46-11-44-14-44-19-42-24-34-23-36-30-30-31-29-36-25-38-20-39-16-43-13-46-7-44-4-46 1-54 5-50 10-46 14-46 17-39 23-42 27-38 31-35 35-34 40-30 39-23 42-20 46-17 50-13 47-8 53-4 57 1 50 4 50 10 50 14 43 16 40 21 42 26 38 30 34 32 30 36 26 40 23 42 17 44 14 48 8 48 4 53-1 54-6 50-11 46-16 47-20 43-25 41-30 39-33 35-37 31-40 28-44 23-48 20-48 14-53 11-54 5z"/><path fill="#01a1a9" d="M4454 1582l-54 1-50-3-46-7-47-10-43-14-40-17-44-24-36-24-35-29-32-32-30-38-23-36-20-39-17-43-12-42-8-45-4-48 1-51 4-46 9-47 13-43 20-47 22-40 26-36 29-35 34-32 36-28 40-25 43-22 47-17 47-13 50-9 53-4 57 0 52 5 48 8 46 13 47 18 43 22 40 25 37 29 33 32 30 36 27 40 23 43 17 42 13 47 9 48 3 50 0 53-6 50-11 47-15 45-20 44-24 41-29 38-33 35-37 32-42 28-43 24-48 20-47 14-50 10-53 6z"/><path fill="#02a5b5" d="M4450 1579l-53 0-50-3-47-7-46-11-44-14-42-19-41-23-34-24-36-30-30-31-27-33-25-39-18-37-17-43-13-47-7-43-4-47 1-53 6-47 10-46 14-44 17-40 23-41 27-37 30-34 33-31 39-30 39-23 42-21 47-17 48-12 48-8 50-4 57 1 50 4 50 10 47 13 43 17 43 22 40 26 37 29 34 33 30 37 26 40 21 40 17 43 12 44 9 49 3 50-1 54-6 50-11 46-17 47-20 43-25 40-29 37-33 35-39 32-40 26-44 24-47 18-47 14-50 10-50 5z"/><path fill="#05acba" d="M4464 1555l-47 2-47-1-46-6-44-8-43-13-42-17-39-20-36-24-34-26-31-30-28-33-24-34-20-37-17-40-13-40-9-43-5-47 0-46 3-44 8-43 13-43 16-40 21-40 24-36 28-34 32-31 36-29 36-24 38-20 43-17 43-13 47-10 50-5 50-1 47 3 46 7 47 12 43 15 42 19 39 24 36 26 33 30 30 34 27 36 23 40 18 40 14 44 10 46 4 47 1 50-5 47-9 43-13 43-19 44-23 40-27 36-30 34-34 30-40 29-40 23-43 19-46 15-48 11-46 6z"/><path fill="#07b2bf" d="M4454 1532l-47 1-43-2-44-6-43-10-40-13-40-18-37-20-33-23-32-26-29-30-26-31-23-36-18-36-15-37-11-40-7-40-3-43 1-44 6-43 9-40 13-40 17-37 22-36 24-34 29-31 30-28 33-25 38-22 39-19 40-15 43-11 43-7 47-4 47 1 43 4 43 8 44 13 40 16 40 20 36 24 34 27 30 29 27 34 25 36 19 37 16 40 11 40 8 43 3 44-1 43-6 43-9 40-14 40-19 40-22 37-26 33-29 31-34 29-36 25-39 22-41 18-43 13-44 10-46 6z"/><path fill="#0ab8c4" d="M4420 1508l-43-1-40-5-40-8-41-12-36-15-36-19-35-23-32-26-28-27-25-31-22-33-18-33-15-37-12-40-6-36-3-40 1-40 5-40 9-40 13-37 17-37 20-33 24-32 25-28 30-27 32-23 36-22 37-18 40-14 40-11 40-6 43-3 44 1 43 4 40 9 40 12 37 15 38 20 35 23 30 24 29 29 25 30 23 34 19 36 14 37 11 37 7 40 3 40-1 40-5 40-8 36-14 38-16 36-20 33-25 33-28 30-31 27-33 24-34 19-39 18-40 14-40 10-40 6-44 2z"/><path fill="#0dbec9" d="M4454 1478l-40 2-40-1-37-5-39-9-38-12-33-15-30-16-33-22-30-25-27-27-23-29-20-30-17-32-13-34-10-35-6-33-2-37 1-36 5-37 8-35 13-35 14-30 20-33 22-30 25-27 29-27 28-20 33-20 34-16 36-14 38-10 38-6 40-3 40 1 40 4 37 7 37 11 36 15 34 18 31 20 29 23 28 27 25 30 21 30 19 36 13 33 10 34 7 37 3 37-1 36-4 37-9 37-12 34-17 35-20 32-22 29-26 26-29 26-30 21-35 20-37 17-38 12-36 9-40 5z"/><path fill="#0ec4ce" d="M4434 1442l-34 0-36-3-34-5-33-9-33-12-30-15-30-17-27-20-26-23-22-23-20-27-18-30-14-30-11-30-7-30-4-33-1-33 3-34 5-30 10-33 13-30 16-30 18-27 21-25 24-23 26-21 30-20 30-16 30-13 34-10 33-8 37-4 36-1 34 2 33 5 37 9 33 12 33 15 30 18 27 19 27 24 22 24 20 27 18 30 15 30 10 30 8 33 4 33 1 34-3 33-6 33-10 30-11 27-16 30-21 30-21 24-27 26-27 20-30 19-30 15-33 13-33 10-34 6-36 4z"/><path fill="#08cfd8" d="M4427 1422l-63-3-34-6-33-10-33-13-27-13-27-16-26-21-24-21-21-24-17-23-17-30-21-54-6-30-4-30 0-33 4-30 15-57 13-30 15-26 19-27 20-23 24-22 26-21 27-17 30-15 30-11 33-10 64-9 33 0 33 3 64 14 33 13 27 13 26 16 27 19 25 23 21 24 20 26 15 27 14 30 10 30 6 30 4 30 0 30-3 30-6 30-10 30-27 53-19 27-23 26-24 21-26 20-57 31-30 11-33 9-34 6-33 3z"/><path fill="#03dbe2" d="M4440 1412l-63-1-60-11-60-23-53-33-44-39-22-27-15-23-14-27-11-26-8-30-5-30-2-30 2-30 5-30 8-30 24-54 17-26 19-24 22-23 24-20 50-31 30-14 30-10 63-12 63-1 30 4 37 8 57 21 30 16 26 18 45 41 19 23 18 27 14 27 12 30 8 30 5 30 2 30-2 30-5 30-7 26-10 27-16 30-18 27-19 23-46 41-26 18-30 16-57 20-33 8-34 4z"/><path fill="#07e0e5" d="M4450 1395l-60 1-60-9-56-19-50-28-46-38-35-44-26-50-15-53-3-27 0-30 3-30 6-26 21-54 29-46 39-41 47-34 53-25 60-16 63-4 64 7 60 19 53 29 47 38 21 23 17 24 26 50 10 30 6 26 3 27 0 30-3 27-6 30-9 26-13 27-16 27-17 23-43 41-50 33-56 23-30 8-34 5z"/><path fill="#0ae4e9" d="M4444 1382l-60 0-57-10-53-20-47-27-42-37-34-43-24-50-12-50-1-53 10-54 20-48 30-45 40-40 44-30 52-23 57-13 60-3 60 8 57 19 50 29 43 36 34 44 26 50 13 53 3 53-10 54-21 50-15 24-17 22-42 40-48 30-56 22-60 12z"/><path fill="#0ee9ec" d="M4427 1365l-53-2-54-12-50-20-44-29-38-37-28-40-20-47-9-50 2-50 12-50 23-46 31-40 38-34 47-27 50-18 53-9 57 1 56 11 50 20 47 30 38 36 30 43 21 50 9 50-2 50-13 50-23 45-33 41-42 34-48 26-54 17-53 7z"/><path fill="#12edef" d="M4437 1342l-50 0-47-8-44-16-42-24-36-29-28-34-21-39-13-44-3-43 6-47 16-43 24-40 31-35 37-27 43-21 47-12 53-4 54 5 51 14 45 23 40 30 34 39 23 44 13 44 2 50-8 47-18 43-29 40-37 34-43 26-47 17-53 10z"/><path fill="#16f2f2" d="M4444 1298l-40 2-37-4-37-10-33-14-31-20-28-27-21-29-15-31-8-33-3-37 5-37 12-36 18-34 23-26 28-22 30-15 41-10 49-2 57 8 47 14 39 20 34 27 27 33 19 37 10 43-1 40-11 40-21 37-27 30-36 27-44 19-46 10z"/><path fill="#09e5f1" d="M4357 1142l-30 0-17-4-16-9-12-11-11-13-12-30-2-30 4-17 8-16 21-24 14-8 16-6 17-2 13 2 14 6 13 9 13 13 11 16 12 34 2 33-2 13-7 14-6 8-13 10-13 7-17 5z"/><path fill="#04dcef" d="M4340 1112l-20-1-20-10-14-16-8-23 0-24 8-20 16-16 18-8 20 1 19 10 15 17 8 23 0 23-7 20-11 14-12 6-12 4z"/><path fill="#00d2ed" d="M4340 1083l-13 2-10-3-10-7-8-13-1-14 2-13 7-10 10-7 10-2 13 4 10 8 6 10 2 14-2 13-6 10-10 8z"/></g></g></svg>
<svg width="550" height="261" style="position:absolute;left:0;top:0"><line x1="357.5" y1="16" x2="357.5" y2="206.4" class="gd"/><line x1="347.2" y1="26.9" x2="535.4" y2="26.9" class="gd"/><line x1="374.54" y1="16" x2="374.54" y2="206.4" class="gd"/><line x1="347.2" y1="44.08" x2="535.4" y2="44.08" class="gd"/><line x1="391.58" y1="16" x2="391.58" y2="206.4" class="gd"/><line x1="347.2" y1="61.26" x2="535.4" y2="61.26" class="gd"/><line x1="408.62" y1="16" x2="408.62" y2="206.4" class="gd"/><line x1="347.2" y1="78.44" x2="535.4" y2="78.44" class="gd"/><line x1="425.66" y1="16" x2="425.66" y2="206.4" class="gd"/><line x1="347.2" y1="95.62" x2="535.4" y2="95.62" class="gd"/><line x1="459.74" y1="16" x2="459.74" y2="206.4" class="gd"/><line x1="347.2" y1="129.98" x2="535.4" y2="129.98" class="gd"/><line x1="476.78" y1="16" x2="476.78" y2="206.4" class="gd"/><line x1="347.2" y1="147.16" x2="535.4" y2="147.16" class="gd"/><line x1="493.82" y1="16" x2="493.82" y2="206.4" class="gd"/><line x1="347.2" y1="164.34" x2="535.4" y2="164.34" class="gd"/><line x1="510.86" y1="16" x2="510.86" y2="206.4" class="gd"/><line x1="347.2" y1="181.52" x2="535.4" y2="181.52" class="gd"/><line x1="527.9" y1="16" x2="527.9" y2="206.4" class="gd"/><line x1="347.2" y1="198.7" x2="535.4" y2="198.7" class="gd"/><line x1="442.7" y1="16" x2="442.7" y2="206.4" class="gc"/><line x1="347.2" y1="112.8" x2="535.4" y2="112.8" class="gc"/><rect x="347.2" y="16" width="188.2" height="190.4" fill="none" stroke="#3a3a4a" stroke-width="0.9"/><rect x="306.4" y="16.8" width="14.5" height="203.4" fill="url(#cbg)"/><line x1="299" y1="16.8" x2="306.4" y2="16.8" stroke="#606060" stroke-width="0.9"/><line x1="306.4" y1="29.51" x2="320.9" y2="29.51" stroke="#202020" stroke-opacity="0.5" stroke-width="1"/><line x1="299" y1="29.51" x2="306.4" y2="29.51" stroke="#606060" stroke-width="0.9"/><line x1="306.4" y1="42.22" x2="320.9" y2="42.22" stroke="#202020" stroke-opacity="0.5" stroke-width="1"/><line x1="299" y1="42.22" x2="306.4" y2="42.22" stroke="#606060" stroke-width="0.9"/><line x1="306.4" y1="54.94" x2="320.9" y2="54.94" stroke="#202020" stroke-opacity="0.5" stroke-width="1"/><line x1="299" y1="54.94" x2="306.4" y2="54.94" stroke="#606060" stroke-width="0.9"/><line x1="306.4" y1="67.65" x2="320.9" y2="67.65" stroke="#202020" stroke-opacity="0.5" stroke-width="1"/><line x1="299" y1="67.65" x2="306.4" y2="67.65" stroke="#606060" stroke-width="0.9"/><line x1="306.4" y1="80.36" x2="320.9" y2="80.36" stroke="#202020" stroke-opacity="0.5" stroke-width="1"/><line x1="299" y1="80.36" x2="306.4" y2="80.36" stroke="#606060" stroke-width="0.9"/><line x1="306.4" y1="93.07" x2="320.9" y2="93.07" stroke="#202020" stroke-opacity="0.5" stroke-width="1"/><line x1="299" y1="93.07" x2="306.4" y2="93.07" stroke="#606060" stroke-width="0.9"/><line x1="306.4" y1="105.79" x2="320.9" y2="105.79" stroke="#202020" stroke-opacity="0.5" stroke-width="1"/><line x1="299" y1="105.79" x2="306.4" y2="105.79" stroke="#606060" stroke-width="0.9"/><line x1="306.4" y1="118.5" x2="320.9" y2="118.5" stroke="#202020" stroke-opacity="0.5" stroke-width="1"/><line x1="299" y1="118.5" x2="306.4" y2="118.5" stroke="#606060" stroke-width="0.9"/><line x1="306.4" y1="131.21" x2="320.9" y2="131.21" stroke="#202020" stroke-opacity="0.5" stroke-width="1"/><line x1="299" y1="131.21" x2="306.4" y2="131.21" stroke="#606060" stroke-width="0.9"/><line x1="306.4" y1="143.92" x2="320.9" y2="143.92" stroke="#202020" stroke-opacity="0.5" stroke-width="1"/><line x1="299" y1="143.92" x2="306.4" y2="143.92" stroke="#606060" stroke-width="0.9"/><line x1="306.4" y1="156.64" x2="320.9" y2="156.64" stroke="#202020" stroke-opacity="0.5" stroke-width="1"/><line x1="299" y1="156.64" x2="306.4" y2="156.64" stroke="#606060" stroke-width="0.9"/><line x1="306.4" y1="169.35" x2="320.9" y2="169.35" stroke="#202020" stroke-opacity="0.5" stroke-width="1"/><line x1="299" y1="169.35" x2="306.4" y2="169.35" stroke="#606060" stroke-width="0.9"/><line x1="306.4" y1="182.06" x2="320.9" y2="182.06" stroke="#202020" stroke-opacity="0.5" stroke-width="1"/><line x1="299" y1="182.06" x2="306.4" y2="182.06" stroke="#606060" stroke-width="0.9"/><line x1="306.4" y1="194.77" x2="320.9" y2="194.77" stroke="#202020" stroke-opacity="0.5" stroke-width="1"/><line x1="299" y1="194.77" x2="306.4" y2="194.77" stroke="#606060" stroke-width="0.9"/><line x1="306.4" y1="207.49" x2="320.9" y2="207.49" stroke="#202020" stroke-opacity="0.5" stroke-width="1"/><line x1="299" y1="207.49" x2="306.4" y2="207.49" stroke="#606060" stroke-width="0.9"/><line x1="299" y1="220.2" x2="306.4" y2="220.2" stroke="#606060" stroke-width="0.9"/><rect x="306.4" y="16.8" width="14.5" height="203.4" fill="none" stroke="#505050" stroke-width="0.9"/></svg>
<div class="t" style="left:357.5px;top:9.3px;font-size:6px;transform:translate(-50%,-50%)">100</div><div class="t" style="left:357.5px;top:213.6px;font-size:6px;transform:translate(-50%,-50%)">100</div><div class="t" style="left:346px;top:26.9px;font-size:6px;transform:translate(-100%,-50%)">100</div><div class="t" style="left:536.4px;top:26.9px;font-size:6px;transform:translate(0,-50%)">100</div><div class="t" style="left:374.54px;top:9.3px;font-size:6px;transform:translate(-50%,-50%)">90</div><div class="t" style="left:374.54px;top:213.6px;font-size:6px;transform:translate(-50%,-50%)">90</div><div class="t" style="left:346px;top:44.08px;font-size:6px;transform:translate(-100%,-50%)">90</div><div class="t" style="left:536.4px;top:44.08px;font-size:6px;transform:translate(0,-50%)">90</div><div class="t" style="left:391.58px;top:9.3px;font-size:6px;transform:translate(-50%,-50%)">80</div><div class="t" style="left:391.58px;top:213.6px;font-size:6px;transform:translate(-50%,-50%)">80</div><div class="t" style="left:346px;top:61.26px;font-size:6px;transform:translate(-100%,-50%)">80</div><div class="t" style="left:536.4px;top:61.26px;font-size:6px;transform:translate(0,-50%)">80</div><div class="t" style="left:408.62px;top:9.3px;font-size:6px;transform:translate(-50%,-50%)">70</div><div class="t" style="left:408.62px;top:213.6px;font-size:6px;transform:translate(-50%,-50%)">70</div><div class="t" style="left:346px;top:78.44px;font-size:6px;transform:translate(-100%,-50%)">70</div><div class="t" style="left:536.4px;top:78.44px;font-size:6px;transform:translate(0,-50%)">70</div><div class="t" style="left:425.66px;top:9.3px;font-size:6px;transform:translate(-50%,-50%)">60</div><div class="t" style="left:425.66px;top:213.6px;font-size:6px;transform:translate(-50%,-50%)">60</div><div class="t" style="left:346px;top:95.62px;font-size:6px;transform:translate(-100%,-50%)">60</div><div class="t" style="left:536.4px;top:95.62px;font-size:6px;transform:translate(0,-50%)">60</div><div class="t" style="left:442.7px;top:9.3px;font-size:6px;transform:translate(-50%,-50%)">50</div><div class="t" style="left:442.7px;top:213.6px;font-size:6px;transform:translate(-50%,-50%)">50</div><div class="t" style="left:346px;top:112.8px;font-size:6px;transform:translate(-100%,-50%)">50</div><div class="t" style="left:536.4px;top:112.8px;font-size:6px;transform:translate(0,-50%)">50</div><div class="t" style="left:459.74px;top:9.3px;font-size:6px;transform:translate(-50%,-50%)">40</div><div class="t" style="left:459.74px;top:213.6px;font-size:6px;transform:translate(-50%,-50%)">40</div><div class="t" style="left:346px;top:129.98px;font-size:6px;transform:translate(-100%,-50%)">40</div><div class="t" style="left:536.4px;top:129.98px;font-size:6px;transform:translate(0,-50%)">40</div><div class="t" style="left:476.78px;top:9.3px;font-size:6px;transform:translate(-50%,-50%)">30</div><div class="t" style="left:476.78px;top:213.6px;font-size:6px;transform:translate(-50%,-50%)">30</div><div class="t" style="left:346px;top:147.16px;font-size:6px;transform:translate(-100%,-50%)">30</div><div class="t" style="left:536.4px;top:147.16px;font-size:6px;transform:translate(0,-50%)">30</div><div class="t" style="left:493.82px;top:9.3px;font-size:6px;transform:translate(-50%,-50%)">20</div><div class="t" style="left:493.82px;top:213.6px;font-size:6px;transform:translate(-50%,-50%)">20</div><div class="t" style="left:346px;top:164.34px;font-size:6px;transform:translate(-100%,-50%)">20</div><div class="t" style="left:536.4px;top:164.34px;font-size:6px;transform:translate(0,-50%)">20</div><div class="t" style="left:510.86px;top:9.3px;font-size:6px;transform:translate(-50%,-50%)">10</div><div class="t" style="left:510.86px;top:213.6px;font-size:6px;transform:translate(-50%,-50%)">10</div><div class="t" style="left:346px;top:181.52px;font-size:6px;transform:translate(-100%,-50%)">10</div><div class="t" style="left:536.4px;top:181.52px;font-size:6px;transform:translate(0,-50%)">10</div><div class="t" style="left:527.9px;top:9.3px;font-size:6px;transform:translate(-50%,-50%)">0</div><div class="t" style="left:527.9px;top:213.6px;font-size:6px;transform:translate(-50%,-50%)">0</div><div class="t" style="left:346px;top:198.7px;font-size:6px;transform:translate(-100%,-50%)">0</div><div class="t" style="left:536.4px;top:198.7px;font-size:6px;transform:translate(0,-50%)">0</div><div class="t" style="left:298.8px;top:16.8px;font-size:6.4px;transform:translate(-100%,-50%) scaleX(0.86);transform-origin:100% 50%">800</div><div class="t" style="left:298.8px;top:29.51px;font-size:6.4px;transform:translate(-100%,-50%) scaleX(0.86);transform-origin:100% 50%">750</div><div class="t" style="left:298.8px;top:42.22px;font-size:6.4px;transform:translate(-100%,-50%) scaleX(0.86);transform-origin:100% 50%">700</div><div class="t" style="left:298.8px;top:54.94px;font-size:6.4px;transform:translate(-100%,-50%) scaleX(0.86);transform-origin:100% 50%">650</div><div class="t" style="left:298.8px;top:67.65px;font-size:6.4px;transform:translate(-100%,-50%) scaleX(0.86);transform-origin:100% 50%">600</div><div class="t" style="left:298.8px;top:80.36px;font-size:6.4px;transform:translate(-100%,-50%) scaleX(0.86);transform-origin:100% 50%">550</div><div class="t" style="left:298.8px;top:93.07px;font-size:6.4px;transform:translate(-100%,-50%) scaleX(0.86);transform-origin:100% 50%">500</div><div class="t" style="left:298.8px;top:105.79px;font-size:6.4px;transform:translate(-100%,-50%) scaleX(0.86);transform-origin:100% 50%">450</div><div class="t" style="left:298.8px;top:118.5px;font-size:6.4px;transform:translate(-100%,-50%) scaleX(0.86);transform-origin:100% 50%">400</div><div class="t" style="left:298.8px;top:131.21px;font-size:6.4px;transform:translate(-100%,-50%) scaleX(0.86);transform-origin:100% 50%">350</div><div class="t" style="left:298.8px;top:143.92px;font-size:6.4px;transform:translate(-100%,-50%) scaleX(0.86);transform-origin:100% 50%">300</div><div class="t" style="left:298.8px;top:156.64px;font-size:6.4px;transform:translate(-100%,-50%) scaleX(0.86);transform-origin:100% 50%">250</div><div class="t" style="left:298.8px;top:169.35px;font-size:6.4px;transform:translate(-100%,-50%) scaleX(0.86);transform-origin:100% 50%">200</div><div class="t" style="left:298.8px;top:182.06px;font-size:6.4px;transform:translate(-100%,-50%) scaleX(0.86);transform-origin:100% 50%">150</div><div class="t" style="left:298.8px;top:194.77px;font-size:6.4px;transform:translate(-100%,-50%) scaleX(0.86);transform-origin:100% 50%">100</div><div class="t" style="left:298.8px;top:207.49px;font-size:6.4px;transform:translate(-100%,-50%) scaleX(0.86);transform-origin:100% 50%">50</div><div class="t" style="left:298.8px;top:220.2px;font-size:6.4px;transform:translate(-100%,-50%) scaleX(0.86);transform-origin:100% 50%">0</div><div class="t" style="left:304px;top:9px;font-size:6.2px;transform:translate(-50%,-50%)">W/m<sup style="font-size:4px;vertical-align:3px">2</sup></div><div class="t" style="left:324.9px;top:115.2px;font-size:6.2px;transform:translate(-50%,-50%) rotate(-90deg)">Y (millimeters)</div><div class="t" style="left:441.5px;top:220.7px;font-size:6.2px;transform:translate(-50%,-50%)">X (millimeters)</div><div class="cap" style="left:416.7px;top:252.8px">(<b>d</b>)</div>
</body></html>
